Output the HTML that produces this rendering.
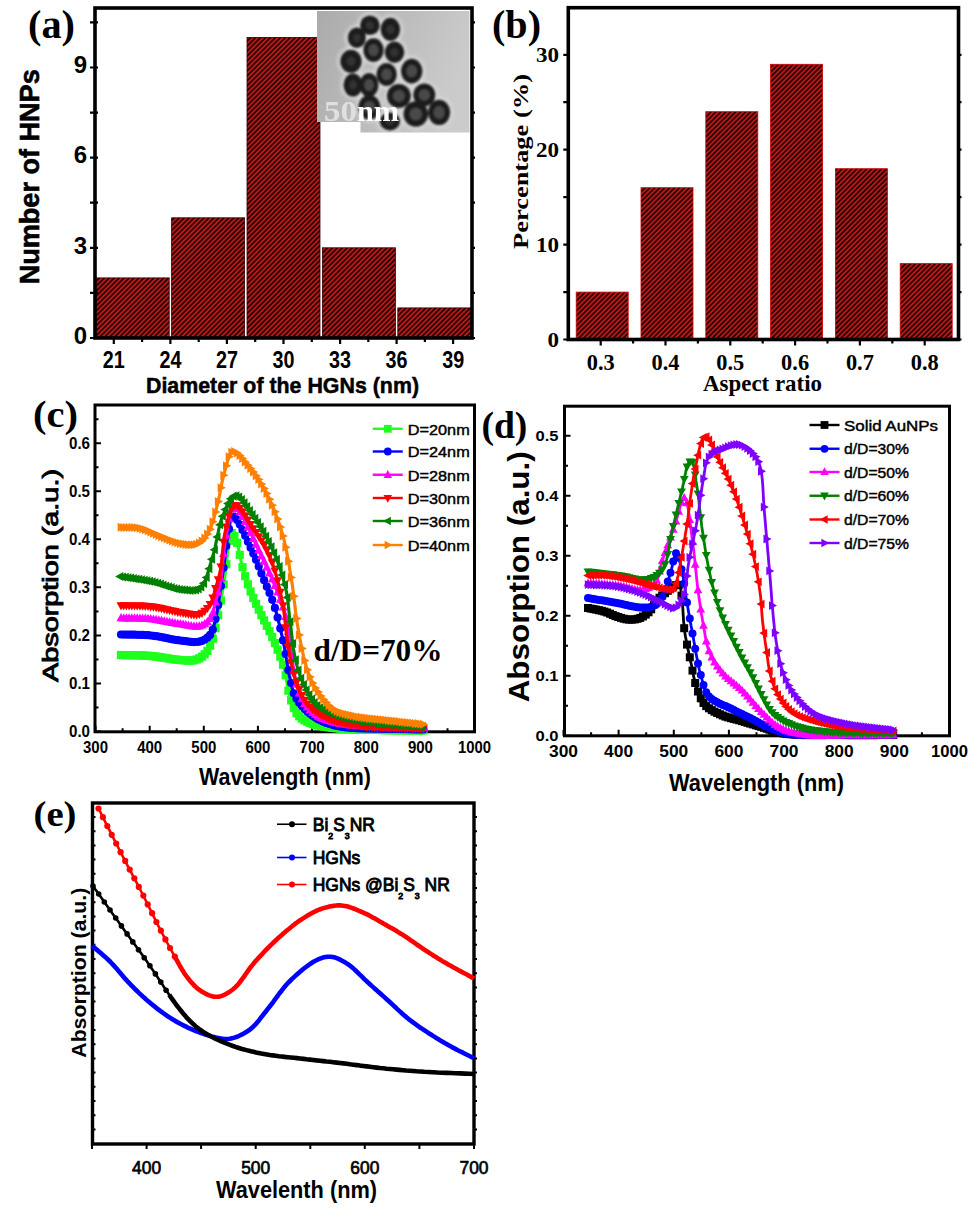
<!DOCTYPE html>
<html><head><meta charset="utf-8"><style>
html,body{margin:0;padding:0;background:#fff;}
svg{display:block;}
</style></head><body>
<svg width="976" height="1208" viewBox="0 0 976 1208">
<defs>
<pattern id="hatch" width="3.5" height="3.5" patternUnits="userSpaceOnUse" patternTransform="rotate(45)">
<rect width="3.5" height="3.5" fill="#bc1818"/><rect width="1.6" height="3.5" fill="#1c0000"/>
</pattern>
<linearGradient id="temgrad" x1="0" y1="0" x2="1" y2="0.3">
<stop offset="0" stop-color="#ababab"/><stop offset="1" stop-color="#cbcbcb"/>
</linearGradient>
<filter id="blur2" x="-20%" y="-20%" width="140%" height="140%"><feGaussianBlur stdDeviation="2"/></filter><filter id="blur1" x="-20%" y="-20%" width="140%" height="140%"><feGaussianBlur stdDeviation="1"/></filter><filter id="blur05"><feGaussianBlur stdDeviation="0.4"/></filter>
<radialGradient id="particle"><stop offset="0" stop-color="#5e5e5e"/><stop offset="0.45" stop-color="#3a3a3a"/><stop offset="0.8" stop-color="#1c1c1c"/><stop offset="0.93" stop-color="#262626"/><stop offset="1" stop-color="#707070"/></radialGradient>
</defs>
<rect width="976" height="1208" fill="#fff"/>
<rect x="95.0" y="277.9" width="74.2" height="60.1" fill="url(#hatch)" stroke="#300" stroke-width="0.8"/>
<rect x="171.6" y="217.8" width="73.0" height="120.2" fill="url(#hatch)" stroke="#300" stroke-width="0.8"/>
<rect x="247.0" y="37.4" width="73.0" height="300.6" fill="url(#hatch)" stroke="#300" stroke-width="0.8"/>
<rect x="322.4" y="247.8" width="73.0" height="90.2" fill="url(#hatch)" stroke="#300" stroke-width="0.8"/>
<rect x="397.8" y="307.9" width="74.2" height="30.1" fill="url(#hatch)" stroke="#300" stroke-width="0.8"/>
<clipPath id="temclip"><path d="M317,11 L469.5,11 L469.5,132.5 L360.5,132.5 L360.5,122 L317,122 Z"/></clipPath>
<g clip-path="url(#temclip)">
<rect x="317" y="11" width="153" height="122" fill="url(#temgrad)"/>
<g filter="url(#blur2)">
<ellipse cx="369.9" cy="25.2" rx="12.3" ry="12.3" fill="#dadada"/>
<ellipse cx="390.4" cy="29.3" rx="12.3" ry="14.0" fill="#dadada"/>
<ellipse cx="356.8" cy="37.8" rx="11.5" ry="12.7" fill="#dadada"/>
<ellipse cx="373.5" cy="50.1" rx="12.7" ry="14.4" fill="#dadada"/>
<ellipse cx="394.5" cy="52.3" rx="12.3" ry="13.2" fill="#dadada"/>
<ellipse cx="351" cy="61.3" rx="13.2" ry="14.0" fill="#dadada"/>
<ellipse cx="386.6" cy="74.4" rx="12.7" ry="14.0" fill="#dadada"/>
<ellipse cx="411.7" cy="71.1" rx="13.2" ry="14.8" fill="#dadada"/>
<ellipse cx="353" cy="85" rx="12.0" ry="14.0" fill="#dadada"/>
<ellipse cx="369" cy="85" rx="12.0" ry="14.5" fill="#dadada"/>
<ellipse cx="398.9" cy="96" rx="14.4" ry="14.4" fill="#dadada"/>
<ellipse cx="424.3" cy="94.9" rx="13.5" ry="14.0" fill="#dadada"/>
<ellipse cx="369.4" cy="107.2" rx="13.5" ry="14.8" fill="#dadada"/>
<ellipse cx="389.9" cy="121.4" rx="12.7" ry="11.5" fill="#dadada"/>
<ellipse cx="415.8" cy="114" rx="14.8" ry="15.2" fill="#dadada"/>
<ellipse cx="439.1" cy="112.4" rx="13.5" ry="15.2" fill="#dadada"/>
</g><g filter="url(#blur1)">
<ellipse cx="369.9" cy="25.2" rx="9.8" ry="9.8" fill="#1e1e1e"/>
<ellipse cx="390.4" cy="29.3" rx="9.8" ry="11.5" fill="#1e1e1e"/>
<ellipse cx="356.8" cy="37.8" rx="9" ry="10.2" fill="#1e1e1e"/>
<ellipse cx="373.5" cy="50.1" rx="10.2" ry="11.9" fill="#1e1e1e"/>
<ellipse cx="394.5" cy="52.3" rx="9.8" ry="10.7" fill="#1e1e1e"/>
<ellipse cx="351" cy="61.3" rx="10.7" ry="11.5" fill="#1e1e1e"/>
<ellipse cx="386.6" cy="74.4" rx="10.2" ry="11.5" fill="#1e1e1e"/>
<ellipse cx="411.7" cy="71.1" rx="10.7" ry="12.3" fill="#1e1e1e"/>
<ellipse cx="353" cy="85" rx="9.5" ry="11.5" fill="#1e1e1e"/>
<ellipse cx="369" cy="85" rx="9.5" ry="12" fill="#1e1e1e"/>
<ellipse cx="398.9" cy="96" rx="11.9" ry="11.9" fill="#1e1e1e"/>
<ellipse cx="424.3" cy="94.9" rx="11" ry="11.5" fill="#1e1e1e"/>
<ellipse cx="369.4" cy="107.2" rx="11" ry="12.3" fill="#1e1e1e"/>
<ellipse cx="389.9" cy="121.4" rx="10.2" ry="9" fill="#1e1e1e"/>
<ellipse cx="415.8" cy="114" rx="12.3" ry="12.7" fill="#1e1e1e"/>
<ellipse cx="439.1" cy="112.4" rx="11" ry="12.7" fill="#1e1e1e"/>
<ellipse cx="369.9" cy="25.2" rx="3.9200000000000004" ry="3.9200000000000004" fill="#333"/>
<ellipse cx="390.4" cy="29.3" rx="3.9200000000000004" ry="4.6000000000000005" fill="#333"/>
<ellipse cx="356.8" cy="37.8" rx="3.6" ry="4.08" fill="#333"/>
<ellipse cx="373.5" cy="50.1" rx="5.1" ry="5.95" fill="#4a4a4a"/>
<ellipse cx="394.5" cy="52.3" rx="3.9200000000000004" ry="4.28" fill="#333"/>
<ellipse cx="351" cy="61.3" rx="4.28" ry="4.6000000000000005" fill="#333"/>
<ellipse cx="386.6" cy="74.4" rx="5.1" ry="5.75" fill="#4a4a4a"/>
<ellipse cx="411.7" cy="71.1" rx="5.35" ry="6.15" fill="#4a4a4a"/>
<ellipse cx="353" cy="85" rx="3.8000000000000003" ry="4.6000000000000005" fill="#333"/>
<ellipse cx="369" cy="85" rx="4.75" ry="6.0" fill="#4a4a4a"/>
<ellipse cx="398.9" cy="96" rx="5.95" ry="5.95" fill="#4a4a4a"/>
<ellipse cx="424.3" cy="94.9" rx="5.5" ry="5.75" fill="#4a4a4a"/>
<ellipse cx="369.4" cy="107.2" rx="5.5" ry="6.15" fill="#4a4a4a"/>
<ellipse cx="389.9" cy="121.4" rx="4.08" ry="3.6" fill="#333"/>
<ellipse cx="415.8" cy="114" rx="6.15" ry="6.35" fill="#4a4a4a"/>
<ellipse cx="439.1" cy="112.4" rx="5.5" ry="6.35" fill="#4a4a4a"/>
</g>
<g filter="url(#blur05)">
<text x="324" y="120.5" style="font-family:'Liberation Serif',serif;font-size:30px;font-weight:bold" text-anchor="start" fill="#e0e0e0" textLength="33" lengthAdjust="spacingAndGlyphs">50</text>
<text x="357" y="120.5" style="font-family:'Liberation Serif',serif;font-size:30px;font-weight:bold" text-anchor="start" fill="#ffffff" textLength="42" lengthAdjust="spacingAndGlyphs">nm</text>
</g></g>
<rect x="95" y="8" width="377" height="330" fill="none" stroke="#000" stroke-width="3.6"/>
<path d="M90,338.0H98M472,338.0H475M90,292.9H98M472,292.9H475M90,247.8H98M472,247.8H475M90,202.7H98M472,202.7H475M90,157.6H98M472,157.6H475M90,112.6H98M472,112.6H475M90,67.5H98M472,67.5H475M90,22.4H98M472,22.4H475M113.8,338V344M142.1,338V342M170.4,338V344M198.7,338V342M226.9,338V344M255.2,338V342M283.5,338V344M311.8,338V342M340.1,338V344M368.3,338V342M396.6,338V344M424.9,338V342M453.1,338V344" stroke="#000" stroke-width="2.2"/>
<text x="87" y="343.8" style="font-family:'Liberation Sans',sans-serif;font-size:24px;font-weight:bold" text-anchor="end" fill="#000">0</text>
<text x="87" y="253.62" style="font-family:'Liberation Sans',sans-serif;font-size:24px;font-weight:bold" text-anchor="end" fill="#000">3</text>
<text x="87" y="163.44000000000003" style="font-family:'Liberation Sans',sans-serif;font-size:24px;font-weight:bold" text-anchor="end" fill="#000">6</text>
<text x="87" y="73.26000000000003" style="font-family:'Liberation Sans',sans-serif;font-size:24px;font-weight:bold" text-anchor="end" fill="#000">9</text>
<text x="113.85" y="367.5" style="font-family:'Liberation Sans',sans-serif;font-size:23px;font-weight:bold" text-anchor="middle" fill="#000" textLength="22" lengthAdjust="spacingAndGlyphs">21</text>
<text x="170.4" y="367.5" style="font-family:'Liberation Sans',sans-serif;font-size:23px;font-weight:bold" text-anchor="middle" fill="#000" textLength="22" lengthAdjust="spacingAndGlyphs">24</text>
<text x="226.95" y="367.5" style="font-family:'Liberation Sans',sans-serif;font-size:23px;font-weight:bold" text-anchor="middle" fill="#000" textLength="22" lengthAdjust="spacingAndGlyphs">27</text>
<text x="283.5" y="367.5" style="font-family:'Liberation Sans',sans-serif;font-size:23px;font-weight:bold" text-anchor="middle" fill="#000" textLength="22" lengthAdjust="spacingAndGlyphs">30</text>
<text x="340.05" y="367.5" style="font-family:'Liberation Sans',sans-serif;font-size:23px;font-weight:bold" text-anchor="middle" fill="#000" textLength="22" lengthAdjust="spacingAndGlyphs">33</text>
<text x="396.6" y="367.5" style="font-family:'Liberation Sans',sans-serif;font-size:23px;font-weight:bold" text-anchor="middle" fill="#000" textLength="22" lengthAdjust="spacingAndGlyphs">36</text>
<text x="453.15" y="367.5" style="font-family:'Liberation Sans',sans-serif;font-size:23px;font-weight:bold" text-anchor="middle" fill="#000" textLength="22" lengthAdjust="spacingAndGlyphs">39</text>
<text x="146" y="392.7" style="font-family:'Liberation Sans',sans-serif;font-size:22px;font-weight:bold" text-anchor="start" fill="#000" textLength="273" lengthAdjust="spacingAndGlyphs" stroke="#000" stroke-width="0.5">Diameter of the HGNs (nm)</text>
<text x="38.8" y="176.8" style="font-family:'Liberation Sans',sans-serif;font-size:28px;font-weight:bold" text-anchor="middle" fill="#000" textLength="215" lengthAdjust="spacingAndGlyphs" transform="rotate(-90 38.8 176.8)" stroke="#000" stroke-width="0.6">Number of HNPs</text>
<text x="28" y="38" style="font-family:'Liberation Serif',serif;font-size:40px;font-weight:bold" text-anchor="start" fill="#000" textLength="47" lengthAdjust="spacingAndGlyphs">(a)</text>
<rect x="576.2" y="292.1" width="52" height="47.4" fill="url(#hatch)" stroke="#c00" stroke-width="0.8"/>
<rect x="641.0" y="187.7" width="52" height="151.8" fill="url(#hatch)" stroke="#c00" stroke-width="0.8"/>
<rect x="705.8" y="111.7" width="52" height="227.8" fill="url(#hatch)" stroke="#c00" stroke-width="0.8"/>
<rect x="770.6" y="64.3" width="52" height="275.2" fill="url(#hatch)" stroke="#c00" stroke-width="0.8"/>
<rect x="835.4" y="168.7" width="52" height="170.8" fill="url(#hatch)" stroke="#c00" stroke-width="0.8"/>
<rect x="900.2" y="263.6" width="52" height="75.9" fill="url(#hatch)" stroke="#c00" stroke-width="0.8"/>
<rect x="568.3" y="7.7" width="390.20000000000005" height="331.8" fill="none" stroke="#000" stroke-width="3.6"/>
<path d="M563.3,339.5H568.3M958.5,339.5H961.5M563.3,292.1H568.3M958.5,292.1H961.5M563.3,244.6H568.3M958.5,244.6H961.5M563.3,197.2H568.3M958.5,197.2H961.5M563.3,149.7H568.3M958.5,149.7H961.5M563.3,102.2H568.3M958.5,102.2H961.5M563.3,54.8H568.3M958.5,54.8H961.5M600.7,339.5V345.5M633.1,339.5V343.5M665.5,339.5V345.5M697.9,339.5V343.5M730.3,339.5V345.5M762.7,339.5V343.5M795.1,339.5V345.5M827.5,339.5V343.5M859.9,339.5V345.5M892.3,339.5V343.5M924.7,339.5V345.5" stroke="#000" stroke-width="2.2"/>
<text x="559" y="346.5" style="font-family:'Liberation Serif',serif;font-size:21px;font-weight:bold" text-anchor="end" fill="#000" textLength="11.5" lengthAdjust="spacingAndGlyphs">0</text>
<text x="559" y="251.6" style="font-family:'Liberation Serif',serif;font-size:21px;font-weight:bold" text-anchor="end" fill="#000" textLength="23" lengthAdjust="spacingAndGlyphs">10</text>
<text x="559" y="156.7" style="font-family:'Liberation Serif',serif;font-size:21px;font-weight:bold" text-anchor="end" fill="#000" textLength="23" lengthAdjust="spacingAndGlyphs">20</text>
<text x="559" y="61.80000000000001" style="font-family:'Liberation Serif',serif;font-size:21px;font-weight:bold" text-anchor="end" fill="#000" textLength="23" lengthAdjust="spacingAndGlyphs">30</text>
<text x="600.6999999999999" y="370.4" style="font-family:'Liberation Serif',serif;font-size:23px;font-weight:bold" text-anchor="middle" fill="#000" textLength="28" lengthAdjust="spacingAndGlyphs">0.3</text>
<text x="665.5" y="370.4" style="font-family:'Liberation Serif',serif;font-size:23px;font-weight:bold" text-anchor="middle" fill="#000" textLength="28" lengthAdjust="spacingAndGlyphs">0.4</text>
<text x="730.3" y="370.4" style="font-family:'Liberation Serif',serif;font-size:23px;font-weight:bold" text-anchor="middle" fill="#000" textLength="28" lengthAdjust="spacingAndGlyphs">0.5</text>
<text x="795.0999999999999" y="370.4" style="font-family:'Liberation Serif',serif;font-size:23px;font-weight:bold" text-anchor="middle" fill="#000" textLength="28" lengthAdjust="spacingAndGlyphs">0.6</text>
<text x="859.8999999999999" y="370.4" style="font-family:'Liberation Serif',serif;font-size:23px;font-weight:bold" text-anchor="middle" fill="#000" textLength="28" lengthAdjust="spacingAndGlyphs">0.7</text>
<text x="924.7" y="370.4" style="font-family:'Liberation Serif',serif;font-size:23px;font-weight:bold" text-anchor="middle" fill="#000" textLength="28" lengthAdjust="spacingAndGlyphs">0.8</text>
<text x="703" y="390.7" style="font-family:'Liberation Serif',serif;font-size:23px;font-weight:bold" text-anchor="start" fill="#000" textLength="119" lengthAdjust="spacingAndGlyphs">Aspect ratio</text>
<text x="527.5" y="161.5" style="font-family:'Liberation Serif',serif;font-size:22px;font-weight:bold" text-anchor="middle" fill="#000" textLength="175" lengthAdjust="spacingAndGlyphs" transform="rotate(-90 527.5 161.5)">Percentage (%)</text>
<text x="492" y="38" style="font-family:'Liberation Serif',serif;font-size:40px;font-weight:bold" text-anchor="start" fill="#000" textLength="49" lengthAdjust="spacingAndGlyphs">(b)</text>
<rect x="95" y="405" width="379.5" height="326.79999999999995" fill="none" stroke="#000" stroke-width="3"/>
<path d="M95,731.5H101M95,707.5H98.5M95,683.5H101M95,659.4H98.5M95,635.4H101M95,611.4H98.5M95,587.3H101M95,563.3H98.5M95,539.3H101M95,515.3H98.5M95,491.2H101M95,467.2H98.5M95,443.2H101M95,419.2H98.5M95.5,731.8V725.8M122.6,731.8V728.3M149.7,731.8V725.8M176.7,731.8V728.3M203.8,731.8V725.8M230.9,731.8V728.3M257.9,731.8V725.8M285.0,731.8V728.3M312.1,731.8V725.8M339.2,731.8V728.3M366.2,731.8V725.8M393.3,731.8V728.3M420.4,731.8V725.8M447.5,731.8V728.3M474.6,731.8V725.8" stroke="#000" stroke-width="2"/>
<text x="90" y="737.3" style="font-family:'Liberation Sans',sans-serif;font-size:16px;font-weight:bold" text-anchor="end" fill="#000" textLength="21" lengthAdjust="spacingAndGlyphs">0.0</text>
<text x="90" y="689.25" style="font-family:'Liberation Sans',sans-serif;font-size:16px;font-weight:bold" text-anchor="end" fill="#000" textLength="21" lengthAdjust="spacingAndGlyphs">0.1</text>
<text x="90" y="641.1999999999999" style="font-family:'Liberation Sans',sans-serif;font-size:16px;font-weight:bold" text-anchor="end" fill="#000" textLength="21" lengthAdjust="spacingAndGlyphs">0.2</text>
<text x="90" y="593.1499999999999" style="font-family:'Liberation Sans',sans-serif;font-size:16px;font-weight:bold" text-anchor="end" fill="#000" textLength="21" lengthAdjust="spacingAndGlyphs">0.3</text>
<text x="90" y="545.0999999999999" style="font-family:'Liberation Sans',sans-serif;font-size:16px;font-weight:bold" text-anchor="end" fill="#000" textLength="21" lengthAdjust="spacingAndGlyphs">0.4</text>
<text x="90" y="497.05" style="font-family:'Liberation Sans',sans-serif;font-size:16px;font-weight:bold" text-anchor="end" fill="#000" textLength="21" lengthAdjust="spacingAndGlyphs">0.5</text>
<text x="90" y="448.99999999999994" style="font-family:'Liberation Sans',sans-serif;font-size:16px;font-weight:bold" text-anchor="end" fill="#000" textLength="21" lengthAdjust="spacingAndGlyphs">0.6</text>
<text x="95.5" y="753" style="font-family:'Liberation Sans',sans-serif;font-size:16px;font-weight:bold" text-anchor="middle" fill="#000" textLength="25" lengthAdjust="spacingAndGlyphs">300</text>
<text x="149.65" y="753" style="font-family:'Liberation Sans',sans-serif;font-size:16px;font-weight:bold" text-anchor="middle" fill="#000" textLength="25" lengthAdjust="spacingAndGlyphs">400</text>
<text x="203.8" y="753" style="font-family:'Liberation Sans',sans-serif;font-size:16px;font-weight:bold" text-anchor="middle" fill="#000" textLength="25" lengthAdjust="spacingAndGlyphs">500</text>
<text x="257.95" y="753" style="font-family:'Liberation Sans',sans-serif;font-size:16px;font-weight:bold" text-anchor="middle" fill="#000" textLength="25" lengthAdjust="spacingAndGlyphs">600</text>
<text x="312.1" y="753" style="font-family:'Liberation Sans',sans-serif;font-size:16px;font-weight:bold" text-anchor="middle" fill="#000" textLength="25" lengthAdjust="spacingAndGlyphs">700</text>
<text x="366.25" y="753" style="font-family:'Liberation Sans',sans-serif;font-size:16px;font-weight:bold" text-anchor="middle" fill="#000" textLength="25" lengthAdjust="spacingAndGlyphs">800</text>
<text x="420.4" y="753" style="font-family:'Liberation Sans',sans-serif;font-size:16px;font-weight:bold" text-anchor="middle" fill="#000" textLength="25" lengthAdjust="spacingAndGlyphs">900</text>
<text x="474.55" y="753" style="font-family:'Liberation Sans',sans-serif;font-size:16px;font-weight:bold" text-anchor="middle" fill="#000" textLength="33" lengthAdjust="spacingAndGlyphs">1000</text>
<text x="199" y="785.2" style="font-family:'Liberation Sans',sans-serif;font-size:23px;font-weight:bold" text-anchor="start" fill="#000" textLength="172" lengthAdjust="spacingAndGlyphs">Wavelength (nm)</text>
<text x="58" y="575.5" style="font-family:'Liberation Sans',sans-serif;font-size:22px;font-weight:normal" text-anchor="middle" fill="#000" textLength="213" lengthAdjust="spacingAndGlyphs" transform="rotate(-90 58 575.5)" stroke="#000" stroke-width="0.9">Absorption (a.u.)</text>
<text x="33" y="427" style="font-family:'Liberation Serif',serif;font-size:38px;font-weight:bold" text-anchor="start" fill="#000" textLength="45" lengthAdjust="spacingAndGlyphs">(c)</text>
<text x="313.5" y="660.5" style="font-family:'Liberation Serif',serif;font-size:31px;font-weight:bold" text-anchor="start" fill="#000" textLength="129" lengthAdjust="spacingAndGlyphs">d/D=70%</text>
<path d="M121.0,655.0 L123.5,655.1 L126.0,655.1 L128.5,655.2 L131.0,655.2 L133.5,655.3 L136.0,655.3 L138.5,655.4 L141.0,655.4 L143.5,655.5 L146.0,655.7 L148.5,655.8 L151.0,656.0 L153.5,656.2 L156.0,656.5 L158.5,656.9 L161.1,657.3 L163.6,657.7 L166.1,658.1 L168.6,658.5 L171.1,658.9 L173.4,659.3 L175.7,659.6 L177.9,659.8 L180.0,660.0 L181.4,660.1 L182.8,660.2 L184.2,660.3 L185.5,660.4 L186.8,660.5 L188.0,660.6 L189.3,660.6 L190.5,660.6 L191.6,660.6 L192.8,660.4 L193.9,660.3 L195.0,660.0 L196.0,659.7 L196.9,659.4 L197.8,659.0 L198.7,658.6 L199.6,658.2 L200.4,657.7 L201.2,657.2 L202.0,656.6 L202.8,656.0 L203.6,655.4 L204.3,654.7 L205.0,654.0 L205.7,653.2 L206.5,652.3 L207.1,651.3 L207.8,650.3 L208.4,649.2 L208.9,648.1 L209.5,647.0 L210.0,645.8 L210.5,644.7 L211.0,643.5 L211.5,642.2 L212.0,641.0 L212.5,639.5 L213.1,638.0 L213.5,636.4 L214.0,634.7 L214.4,633.1 L214.8,631.4 L215.2,629.6 L215.5,627.9 L215.9,626.2 L216.3,624.4 L216.6,622.7 L217.0,621.0 L217.4,619.3 L217.7,617.6 L218.1,615.8 L218.4,614.1 L218.8,612.4 L219.1,610.7 L219.4,608.9 L219.7,607.2 L220.0,605.4 L220.4,603.6 L220.7,601.8 L221.0,600.0 L221.3,598.0 L221.7,596.0 L222.0,593.9 L222.4,591.8 L222.7,589.7 L223.1,587.6 L223.4,585.5 L223.8,583.4 L224.1,581.3 L224.4,579.2 L224.7,577.1 L225.0,575.0 L225.3,572.9 L225.5,570.8 L225.8,568.6 L226.0,566.5 L226.3,564.3 L226.5,562.2 L226.8,560.1 L227.0,558.0 L227.2,555.9 L227.5,553.9 L227.7,551.9 L228.0,550.0 L228.2,548.4 L228.4,546.6 L228.6,544.8 L228.8,543.0 L229.0,541.1 L229.2,539.4 L229.4,537.8 L229.6,536.3 L229.9,535.0 L230.2,534.0 L230.6,533.3 L231.0,533.0 L231.3,533.0 L231.6,533.0 L231.9,533.2 L232.2,533.4 L232.6,533.7 L232.9,534.0 L233.3,534.4 L233.6,534.9 L234.0,535.4 L234.3,535.9 L234.7,536.4 L235.0,537.0 L235.7,538.6 L236.5,540.6 L237.2,542.9 L237.8,545.6 L238.5,548.4 L239.1,551.5 L239.7,554.6 L240.4,557.7 L241.0,560.8 L241.7,563.7 L242.3,566.5 L243.0,569.0 L243.6,570.9 L244.1,572.8 L244.7,574.7 L245.3,576.5 L245.8,578.2 L246.4,580.0 L247.0,581.7 L247.6,583.4 L248.2,585.1 L248.8,586.7 L249.4,588.4 L250.0,590.0 L250.5,591.4 L251.1,592.7 L251.6,594.0 L252.1,595.3 L252.7,596.5 L253.2,597.8 L253.8,599.0 L254.4,600.3 L255.0,601.6 L255.6,603.0 L256.3,604.5 L257.0,606.0 L258.2,608.5 L259.4,611.1 L260.8,613.9 L262.3,616.8 L263.8,619.8 L265.4,622.9 L266.9,626.0 L268.5,629.1 L270.0,632.2 L271.4,635.2 L272.8,638.2 L274.0,641.0 L275.0,643.3 L276.0,645.6 L276.9,647.9 L277.8,650.2 L278.7,652.4 L279.5,654.6 L280.3,656.8 L281.1,659.0 L281.9,661.2 L282.6,663.4 L283.3,665.7 L284.0,668.0 L284.6,670.4 L285.2,672.8 L285.7,675.3 L286.2,677.8 L286.6,680.4 L287.0,682.9 L287.4,685.4 L287.8,687.8 L288.3,690.2 L288.8,692.6 L289.4,694.8 L290.0,697.0 L290.5,698.7 L291.1,700.4 L291.7,702.1 L292.2,703.7 L292.8,705.3 L293.4,706.9 L294.1,708.4 L294.7,709.9 L295.5,711.3 L296.3,712.6 L297.1,713.8 L298.0,715.0 L298.8,715.9 L299.7,716.8 L300.6,717.6 L301.5,718.3 L302.4,719.0 L303.4,719.7 L304.5,720.3 L305.5,720.9 L306.6,721.4 L307.7,722.0 L308.8,722.5 L310.0,723.0 L311.4,723.6 L312.9,724.1 L314.3,724.6 L315.9,725.0 L317.4,725.4 L319.0,725.7 L320.7,726.1 L322.4,726.4 L324.2,726.7 L326.1,726.9 L328.0,727.2 L330.0,727.5 L333.4,727.9 L337.0,728.3 L341.0,728.6 L345.1,728.8 L349.4,729.0 L353.8,729.2 L358.2,729.4 L362.7,729.5 L367.2,729.6 L371.6,729.8 L375.9,729.9 L380.0,730.0 L383.8,730.1 L387.5,730.2 L391.2,730.3 L394.9,730.3 L398.5,730.3 L402.2,730.4 L405.8,730.4 L409.4,730.4 L413.1,730.4 L416.7,730.4 L420.3,730.5 L424.0,730.5" fill="none" stroke="#1eff1e" stroke-width="3.2" stroke-linejoin="round"/>
<rect x="116.9" y="650.9" width="8.2" height="8.2" fill="#1eff1e"/>
<rect x="119.6" y="651.0" width="8.2" height="8.2" fill="#1eff1e"/>
<rect x="122.3" y="651.0" width="8.2" height="8.2" fill="#1eff1e"/>
<rect x="125.0" y="651.1" width="8.2" height="8.2" fill="#1eff1e"/>
<rect x="127.7" y="651.1" width="8.2" height="8.2" fill="#1eff1e"/>
<rect x="130.4" y="651.2" width="8.2" height="8.2" fill="#1eff1e"/>
<rect x="133.1" y="651.2" width="8.2" height="8.2" fill="#1eff1e"/>
<rect x="135.8" y="651.3" width="8.2" height="8.2" fill="#1eff1e"/>
<rect x="138.5" y="651.4" width="8.2" height="8.2" fill="#1eff1e"/>
<rect x="141.2" y="651.5" width="8.2" height="8.2" fill="#1eff1e"/>
<rect x="143.9" y="651.7" width="8.2" height="8.2" fill="#1eff1e"/>
<rect x="146.6" y="651.9" width="8.2" height="8.2" fill="#1eff1e"/>
<rect x="149.3" y="652.1" width="8.2" height="8.2" fill="#1eff1e"/>
<rect x="152.0" y="652.5" width="8.2" height="8.2" fill="#1eff1e"/>
<rect x="154.7" y="652.8" width="8.2" height="8.2" fill="#1eff1e"/>
<rect x="157.4" y="653.3" width="8.2" height="8.2" fill="#1eff1e"/>
<rect x="160.1" y="653.7" width="8.2" height="8.2" fill="#1eff1e"/>
<rect x="162.8" y="654.1" width="8.2" height="8.2" fill="#1eff1e"/>
<rect x="165.5" y="654.6" width="8.2" height="8.2" fill="#1eff1e"/>
<rect x="168.2" y="655.0" width="8.2" height="8.2" fill="#1eff1e"/>
<rect x="170.9" y="655.4" width="8.2" height="8.2" fill="#1eff1e"/>
<rect x="173.6" y="655.7" width="8.2" height="8.2" fill="#1eff1e"/>
<rect x="176.3" y="655.9" width="8.2" height="8.2" fill="#1eff1e"/>
<rect x="179.0" y="656.1" width="8.2" height="8.2" fill="#1eff1e"/>
<rect x="181.7" y="656.4" width="8.2" height="8.2" fill="#1eff1e"/>
<rect x="184.4" y="656.5" width="8.2" height="8.2" fill="#1eff1e"/>
<rect x="187.1" y="656.5" width="8.2" height="8.2" fill="#1eff1e"/>
<rect x="189.8" y="656.2" width="8.2" height="8.2" fill="#1eff1e"/>
<rect x="192.5" y="655.4" width="8.2" height="8.2" fill="#1eff1e"/>
<rect x="195.2" y="654.2" width="8.2" height="8.2" fill="#1eff1e"/>
<rect x="197.9" y="652.5" width="8.2" height="8.2" fill="#1eff1e"/>
<rect x="200.6" y="650.2" width="8.2" height="8.2" fill="#1eff1e"/>
<rect x="203.3" y="646.8" width="8.2" height="8.2" fill="#1eff1e"/>
<rect x="206.0" y="641.6" width="8.2" height="8.2" fill="#1eff1e"/>
<rect x="208.7" y="634.7" width="8.2" height="8.2" fill="#1eff1e"/>
<rect x="211.4" y="624.0" width="8.2" height="8.2" fill="#1eff1e"/>
<rect x="214.1" y="611.2" width="8.2" height="8.2" fill="#1eff1e"/>
<rect x="216.8" y="596.5" width="8.2" height="8.2" fill="#1eff1e"/>
<rect x="219.5" y="580.3" width="8.2" height="8.2" fill="#1eff1e"/>
<rect x="222.2" y="560.1" width="8.2" height="8.2" fill="#1eff1e"/>
<rect x="224.9" y="536.7" width="8.2" height="8.2" fill="#1eff1e"/>
<rect x="227.6" y="529.0" width="8.2" height="8.2" fill="#1eff1e"/>
<rect x="230.3" y="531.9" width="8.2" height="8.2" fill="#1eff1e"/>
<rect x="233.0" y="538.7" width="8.2" height="8.2" fill="#1eff1e"/>
<rect x="235.7" y="550.7" width="8.2" height="8.2" fill="#1eff1e"/>
<rect x="238.4" y="563.1" width="8.2" height="8.2" fill="#1eff1e"/>
<rect x="241.1" y="572.1" width="8.2" height="8.2" fill="#1eff1e"/>
<rect x="243.8" y="580.2" width="8.2" height="8.2" fill="#1eff1e"/>
<rect x="246.5" y="587.4" width="8.2" height="8.2" fill="#1eff1e"/>
<rect x="249.2" y="593.8" width="8.2" height="8.2" fill="#1eff1e"/>
<rect x="251.9" y="599.7" width="8.2" height="8.2" fill="#1eff1e"/>
<rect x="254.6" y="605.5" width="8.2" height="8.2" fill="#1eff1e"/>
<rect x="257.3" y="610.9" width="8.2" height="8.2" fill="#1eff1e"/>
<rect x="260.0" y="616.3" width="8.2" height="8.2" fill="#1eff1e"/>
<rect x="262.7" y="621.7" width="8.2" height="8.2" fill="#1eff1e"/>
<rect x="265.4" y="627.1" width="8.2" height="8.2" fill="#1eff1e"/>
<rect x="268.1" y="632.8" width="8.2" height="8.2" fill="#1eff1e"/>
<rect x="270.8" y="639.0" width="8.2" height="8.2" fill="#1eff1e"/>
<rect x="273.5" y="645.6" width="8.2" height="8.2" fill="#1eff1e"/>
<rect x="276.2" y="652.6" width="8.2" height="8.2" fill="#1eff1e"/>
<rect x="278.9" y="660.6" width="8.2" height="8.2" fill="#1eff1e"/>
<rect x="281.6" y="671.2" width="8.2" height="8.2" fill="#1eff1e"/>
<rect x="284.3" y="686.6" width="8.2" height="8.2" fill="#1eff1e"/>
<rect x="287.0" y="696.3" width="8.2" height="8.2" fill="#1eff1e"/>
<rect x="289.7" y="703.7" width="8.2" height="8.2" fill="#1eff1e"/>
<rect x="292.4" y="708.9" width="8.2" height="8.2" fill="#1eff1e"/>
<rect x="295.1" y="712.2" width="8.2" height="8.2" fill="#1eff1e"/>
<rect x="297.8" y="714.5" width="8.2" height="8.2" fill="#1eff1e"/>
<rect x="300.5" y="716.3" width="8.2" height="8.2" fill="#1eff1e"/>
<rect x="303.2" y="717.7" width="8.2" height="8.2" fill="#1eff1e"/>
<rect x="305.9" y="718.9" width="8.2" height="8.2" fill="#1eff1e"/>
<rect x="308.6" y="719.9" width="8.2" height="8.2" fill="#1eff1e"/>
<rect x="311.3" y="720.8" width="8.2" height="8.2" fill="#1eff1e"/>
<rect x="314.0" y="721.4" width="8.2" height="8.2" fill="#1eff1e"/>
<rect x="316.7" y="722.0" width="8.2" height="8.2" fill="#1eff1e"/>
<rect x="319.4" y="722.5" width="8.2" height="8.2" fill="#1eff1e"/>
<rect x="322.1" y="722.9" width="8.2" height="8.2" fill="#1eff1e"/>
<rect x="324.8" y="723.2" width="8.2" height="8.2" fill="#1eff1e"/>
<rect x="327.5" y="723.6" width="8.2" height="8.2" fill="#1eff1e"/>
<rect x="330.2" y="723.9" width="8.2" height="8.2" fill="#1eff1e"/>
<rect x="332.9" y="724.2" width="8.2" height="8.2" fill="#1eff1e"/>
<rect x="335.6" y="724.4" width="8.2" height="8.2" fill="#1eff1e"/>
<rect x="338.3" y="724.6" width="8.2" height="8.2" fill="#1eff1e"/>
<rect x="341.0" y="724.7" width="8.2" height="8.2" fill="#1eff1e"/>
<rect x="343.7" y="724.9" width="8.2" height="8.2" fill="#1eff1e"/>
<rect x="346.4" y="725.0" width="8.2" height="8.2" fill="#1eff1e"/>
<rect x="349.1" y="725.1" width="8.2" height="8.2" fill="#1eff1e"/>
<rect x="351.8" y="725.2" width="8.2" height="8.2" fill="#1eff1e"/>
<rect x="354.5" y="725.3" width="8.2" height="8.2" fill="#1eff1e"/>
<rect x="357.2" y="725.4" width="8.2" height="8.2" fill="#1eff1e"/>
<rect x="359.9" y="725.5" width="8.2" height="8.2" fill="#1eff1e"/>
<rect x="362.6" y="725.5" width="8.2" height="8.2" fill="#1eff1e"/>
<rect x="365.3" y="725.6" width="8.2" height="8.2" fill="#1eff1e"/>
<rect x="368.0" y="725.7" width="8.2" height="8.2" fill="#1eff1e"/>
<rect x="370.7" y="725.8" width="8.2" height="8.2" fill="#1eff1e"/>
<rect x="373.4" y="725.8" width="8.2" height="8.2" fill="#1eff1e"/>
<rect x="376.1" y="725.9" width="8.2" height="8.2" fill="#1eff1e"/>
<rect x="378.8" y="726.0" width="8.2" height="8.2" fill="#1eff1e"/>
<rect x="381.5" y="726.0" width="8.2" height="8.2" fill="#1eff1e"/>
<rect x="384.2" y="726.1" width="8.2" height="8.2" fill="#1eff1e"/>
<rect x="386.9" y="726.1" width="8.2" height="8.2" fill="#1eff1e"/>
<rect x="389.6" y="726.2" width="8.2" height="8.2" fill="#1eff1e"/>
<rect x="392.3" y="726.2" width="8.2" height="8.2" fill="#1eff1e"/>
<rect x="395.0" y="726.2" width="8.2" height="8.2" fill="#1eff1e"/>
<rect x="397.7" y="726.3" width="8.2" height="8.2" fill="#1eff1e"/>
<rect x="400.4" y="726.3" width="8.2" height="8.2" fill="#1eff1e"/>
<rect x="403.1" y="726.3" width="8.2" height="8.2" fill="#1eff1e"/>
<rect x="405.8" y="726.3" width="8.2" height="8.2" fill="#1eff1e"/>
<rect x="408.5" y="726.3" width="8.2" height="8.2" fill="#1eff1e"/>
<rect x="411.2" y="726.3" width="8.2" height="8.2" fill="#1eff1e"/>
<rect x="413.9" y="726.3" width="8.2" height="8.2" fill="#1eff1e"/>
<rect x="416.6" y="726.4" width="8.2" height="8.2" fill="#1eff1e"/>
<rect x="419.3" y="726.4" width="8.2" height="8.2" fill="#1eff1e"/>
<path d="M121.0,634.5 L123.5,634.6 L126.0,634.6 L128.5,634.7 L131.0,634.7 L133.5,634.7 L136.0,634.7 L138.6,634.8 L141.1,634.9 L143.6,635.0 L146.0,635.1 L148.5,635.3 L151.0,635.5 L153.5,635.8 L155.9,636.2 L158.4,636.6 L160.9,637.0 L163.4,637.5 L165.9,638.0 L168.3,638.5 L170.7,639.0 L173.1,639.4 L175.5,639.9 L177.8,640.2 L180.0,640.5 L181.8,640.7 L183.6,641.0 L185.4,641.2 L187.2,641.4 L189.0,641.7 L190.7,641.8 L192.4,642.0 L194.1,642.1 L195.6,642.1 L197.2,642.0 L198.6,641.8 L200.0,641.5 L201.0,641.2 L202.0,640.9 L202.9,640.5 L203.9,640.1 L204.7,639.6 L205.6,639.1 L206.4,638.5 L207.2,637.9 L207.9,637.3 L208.7,636.6 L209.3,635.8 L210.0,635.0 L210.8,633.9 L211.5,632.7 L212.1,631.3 L212.6,629.9 L213.1,628.4 L213.6,626.9 L214.0,625.3 L214.4,623.7 L214.8,622.0 L215.2,620.3 L215.6,618.7 L216.0,617.0 L216.4,615.1 L216.9,613.1 L217.2,611.1 L217.6,609.0 L217.9,607.0 L218.2,604.8 L218.5,602.7 L218.8,600.6 L219.1,598.4 L219.4,596.3 L219.7,594.1 L220.0,592.0 L220.3,589.8 L220.7,587.6 L221.0,585.4 L221.4,583.1 L221.7,580.9 L222.0,578.7 L222.4,576.4 L222.7,574.1 L223.0,571.9 L223.3,569.6 L223.7,567.3 L224.0,565.0 L224.3,562.5 L224.7,560.0 L225.0,557.4 L225.3,554.9 L225.6,552.3 L225.9,549.7 L226.2,547.1 L226.5,544.5 L226.8,542.0 L227.2,539.6 L227.6,537.3 L228.0,535.0 L228.3,533.1 L228.7,531.2 L229.0,529.1 L229.3,527.0 L229.6,524.9 L230.0,523.0 L230.3,521.1 L230.8,519.5 L231.2,518.1 L231.7,517.0 L232.3,516.3 L233.0,516.0 L234.2,516.4 L235.5,517.8 L237.1,520.0 L238.8,522.8 L240.6,526.2 L242.5,530.0 L244.4,534.0 L246.3,538.2 L248.2,542.3 L249.9,546.2 L251.5,549.8 L253.0,553.0 L254.1,555.4 L255.1,557.7 L256.1,560.0 L257.1,562.3 L258.0,564.5 L258.9,566.8 L259.7,569.0 L260.6,571.2 L261.4,573.4 L262.3,575.6 L263.1,577.8 L264.0,580.0 L264.9,582.1 L265.7,584.1 L266.6,586.2 L267.4,588.2 L268.3,590.2 L269.1,592.1 L270.0,594.2 L270.8,596.2 L271.6,598.3 L272.4,600.5 L273.2,602.7 L274.0,605.0 L274.9,608.0 L275.9,611.1 L276.8,614.4 L277.7,617.7 L278.5,621.1 L279.4,624.6 L280.2,628.1 L281.0,631.6 L281.8,635.0 L282.6,638.4 L283.3,641.8 L284.0,645.0 L284.6,647.9 L285.1,650.8 L285.7,653.7 L286.1,656.5 L286.6,659.4 L287.1,662.2 L287.5,665.0 L288.0,667.7 L288.4,670.4 L288.9,673.0 L289.4,675.6 L290.0,678.0 L290.4,679.9 L290.8,681.7 L291.2,683.5 L291.6,685.2 L292.0,686.9 L292.4,688.5 L292.8,690.2 L293.3,691.8 L293.8,693.4 L294.5,694.9 L295.2,696.5 L296.0,698.0 L297.0,699.7 L298.1,701.3 L299.3,703.0 L300.6,704.6 L302.0,706.2 L303.4,707.8 L304.9,709.3 L306.5,710.7 L308.0,712.2 L309.7,713.5 L311.3,714.8 L313.0,716.0 L314.7,717.2 L316.5,718.2 L318.2,719.2 L320.0,720.2 L321.9,721.1 L323.8,721.9 L325.8,722.7 L327.8,723.5 L329.9,724.1 L332.2,724.8 L334.5,725.4 L337.0,726.0 L341.3,726.8 L346.0,727.4 L351.3,727.9 L356.8,728.2 L362.5,728.5 L368.4,728.6 L374.3,728.7 L380.1,728.8 L385.6,728.8 L390.9,728.8 L395.7,728.9 L400.0,729.0 L402.4,729.1 L404.7,729.1 L406.8,729.2 L408.8,729.2 L410.8,729.3 L412.7,729.3 L414.6,729.3 L416.4,729.4 L418.3,729.4 L420.1,729.4 L422.0,729.5 L424.0,729.5" fill="none" stroke="#0000ff" stroke-width="3.2" stroke-linejoin="round"/>
<circle cx="121.0" cy="634.5" r="4.1" fill="#0000ff"/>
<circle cx="123.7" cy="634.6" r="4.1" fill="#0000ff"/>
<circle cx="126.4" cy="634.6" r="4.1" fill="#0000ff"/>
<circle cx="129.1" cy="634.7" r="4.1" fill="#0000ff"/>
<circle cx="131.8" cy="634.7" r="4.1" fill="#0000ff"/>
<circle cx="134.5" cy="634.7" r="4.1" fill="#0000ff"/>
<circle cx="137.2" cy="634.8" r="4.1" fill="#0000ff"/>
<circle cx="139.9" cy="634.8" r="4.1" fill="#0000ff"/>
<circle cx="142.6" cy="634.9" r="4.1" fill="#0000ff"/>
<circle cx="145.3" cy="635.1" r="4.1" fill="#0000ff"/>
<circle cx="148.0" cy="635.2" r="4.1" fill="#0000ff"/>
<circle cx="150.7" cy="635.5" r="4.1" fill="#0000ff"/>
<circle cx="153.4" cy="635.8" r="4.1" fill="#0000ff"/>
<circle cx="156.1" cy="636.2" r="4.1" fill="#0000ff"/>
<circle cx="158.8" cy="636.6" r="4.1" fill="#0000ff"/>
<circle cx="161.5" cy="637.1" r="4.1" fill="#0000ff"/>
<circle cx="164.2" cy="637.7" r="4.1" fill="#0000ff"/>
<circle cx="166.9" cy="638.2" r="4.1" fill="#0000ff"/>
<circle cx="169.6" cy="638.8" r="4.1" fill="#0000ff"/>
<circle cx="172.3" cy="639.3" r="4.1" fill="#0000ff"/>
<circle cx="175.0" cy="639.8" r="4.1" fill="#0000ff"/>
<circle cx="177.7" cy="640.2" r="4.1" fill="#0000ff"/>
<circle cx="180.4" cy="640.5" r="4.1" fill="#0000ff"/>
<circle cx="183.1" cy="640.9" r="4.1" fill="#0000ff"/>
<circle cx="185.8" cy="641.2" r="4.1" fill="#0000ff"/>
<circle cx="188.5" cy="641.6" r="4.1" fill="#0000ff"/>
<circle cx="191.2" cy="641.9" r="4.1" fill="#0000ff"/>
<circle cx="193.9" cy="642.1" r="4.1" fill="#0000ff"/>
<circle cx="196.6" cy="642.0" r="4.1" fill="#0000ff"/>
<circle cx="199.3" cy="641.7" r="4.1" fill="#0000ff"/>
<circle cx="202.0" cy="640.9" r="4.1" fill="#0000ff"/>
<circle cx="204.7" cy="639.6" r="4.1" fill="#0000ff"/>
<circle cx="207.4" cy="637.7" r="4.1" fill="#0000ff"/>
<circle cx="210.1" cy="634.9" r="4.1" fill="#0000ff"/>
<circle cx="212.8" cy="629.5" r="4.1" fill="#0000ff"/>
<circle cx="215.5" cy="619.1" r="4.1" fill="#0000ff"/>
<circle cx="218.2" cy="604.9" r="4.1" fill="#0000ff"/>
<circle cx="220.9" cy="586.1" r="4.1" fill="#0000ff"/>
<circle cx="223.6" cy="567.8" r="4.1" fill="#0000ff"/>
<circle cx="226.3" cy="546.0" r="4.1" fill="#0000ff"/>
<circle cx="229.0" cy="528.9" r="4.1" fill="#0000ff"/>
<circle cx="231.7" cy="517.1" r="4.1" fill="#0000ff"/>
<circle cx="234.4" cy="516.6" r="4.1" fill="#0000ff"/>
<circle cx="237.1" cy="519.9" r="4.1" fill="#0000ff"/>
<circle cx="239.8" cy="524.6" r="4.1" fill="#0000ff"/>
<circle cx="242.5" cy="530.0" r="4.1" fill="#0000ff"/>
<circle cx="245.2" cy="535.7" r="4.1" fill="#0000ff"/>
<circle cx="247.9" cy="541.7" r="4.1" fill="#0000ff"/>
<circle cx="250.6" cy="547.7" r="4.1" fill="#0000ff"/>
<circle cx="253.3" cy="553.6" r="4.1" fill="#0000ff"/>
<circle cx="256.0" cy="559.7" r="4.1" fill="#0000ff"/>
<circle cx="258.7" cy="566.4" r="4.1" fill="#0000ff"/>
<circle cx="261.4" cy="573.4" r="4.1" fill="#0000ff"/>
<circle cx="264.1" cy="580.2" r="4.1" fill="#0000ff"/>
<circle cx="266.8" cy="586.7" r="4.1" fill="#0000ff"/>
<circle cx="269.5" cy="593.0" r="4.1" fill="#0000ff"/>
<circle cx="272.2" cy="599.8" r="4.1" fill="#0000ff"/>
<circle cx="274.9" cy="607.9" r="4.1" fill="#0000ff"/>
<circle cx="277.6" cy="617.5" r="4.1" fill="#0000ff"/>
<circle cx="280.3" cy="628.4" r="4.1" fill="#0000ff"/>
<circle cx="283.0" cy="640.4" r="4.1" fill="#0000ff"/>
<circle cx="285.7" cy="653.9" r="4.1" fill="#0000ff"/>
<circle cx="288.4" cy="670.2" r="4.1" fill="#0000ff"/>
<circle cx="291.1" cy="683.0" r="4.1" fill="#0000ff"/>
<circle cx="293.8" cy="693.3" r="4.1" fill="#0000ff"/>
<circle cx="296.5" cy="698.8" r="4.1" fill="#0000ff"/>
<circle cx="299.2" cy="702.8" r="4.1" fill="#0000ff"/>
<circle cx="301.9" cy="706.1" r="4.1" fill="#0000ff"/>
<circle cx="304.6" cy="709.0" r="4.1" fill="#0000ff"/>
<circle cx="307.3" cy="711.5" r="4.1" fill="#0000ff"/>
<circle cx="310.0" cy="713.8" r="4.1" fill="#0000ff"/>
<circle cx="312.7" cy="715.8" r="4.1" fill="#0000ff"/>
<circle cx="315.4" cy="717.6" r="4.1" fill="#0000ff"/>
<circle cx="318.1" cy="719.2" r="4.1" fill="#0000ff"/>
<circle cx="320.8" cy="720.6" r="4.1" fill="#0000ff"/>
<circle cx="323.5" cy="721.8" r="4.1" fill="#0000ff"/>
<circle cx="326.2" cy="722.9" r="4.1" fill="#0000ff"/>
<circle cx="328.9" cy="723.8" r="4.1" fill="#0000ff"/>
<circle cx="331.6" cy="724.6" r="4.1" fill="#0000ff"/>
<circle cx="334.3" cy="725.4" r="4.1" fill="#0000ff"/>
<circle cx="337.0" cy="726.0" r="4.1" fill="#0000ff"/>
<circle cx="339.7" cy="726.5" r="4.1" fill="#0000ff"/>
<circle cx="342.4" cy="727.0" r="4.1" fill="#0000ff"/>
<circle cx="345.1" cy="727.3" r="4.1" fill="#0000ff"/>
<circle cx="347.8" cy="727.6" r="4.1" fill="#0000ff"/>
<circle cx="350.5" cy="727.8" r="4.1" fill="#0000ff"/>
<circle cx="353.2" cy="728.0" r="4.1" fill="#0000ff"/>
<circle cx="355.9" cy="728.2" r="4.1" fill="#0000ff"/>
<circle cx="358.6" cy="728.3" r="4.1" fill="#0000ff"/>
<circle cx="361.3" cy="728.4" r="4.1" fill="#0000ff"/>
<circle cx="364.0" cy="728.5" r="4.1" fill="#0000ff"/>
<circle cx="366.7" cy="728.6" r="4.1" fill="#0000ff"/>
<circle cx="369.4" cy="728.6" r="4.1" fill="#0000ff"/>
<circle cx="372.1" cy="728.7" r="4.1" fill="#0000ff"/>
<circle cx="374.8" cy="728.7" r="4.1" fill="#0000ff"/>
<circle cx="377.5" cy="728.7" r="4.1" fill="#0000ff"/>
<circle cx="380.2" cy="728.8" r="4.1" fill="#0000ff"/>
<circle cx="382.9" cy="728.8" r="4.1" fill="#0000ff"/>
<circle cx="385.6" cy="728.8" r="4.1" fill="#0000ff"/>
<circle cx="388.3" cy="728.8" r="4.1" fill="#0000ff"/>
<circle cx="391.0" cy="728.8" r="4.1" fill="#0000ff"/>
<circle cx="393.7" cy="728.9" r="4.1" fill="#0000ff"/>
<circle cx="396.4" cy="728.9" r="4.1" fill="#0000ff"/>
<circle cx="399.1" cy="729.0" r="4.1" fill="#0000ff"/>
<circle cx="401.8" cy="729.1" r="4.1" fill="#0000ff"/>
<circle cx="404.5" cy="729.1" r="4.1" fill="#0000ff"/>
<circle cx="407.2" cy="729.2" r="4.1" fill="#0000ff"/>
<circle cx="409.9" cy="729.3" r="4.1" fill="#0000ff"/>
<circle cx="412.6" cy="729.3" r="4.1" fill="#0000ff"/>
<circle cx="415.3" cy="729.4" r="4.1" fill="#0000ff"/>
<circle cx="418.0" cy="729.4" r="4.1" fill="#0000ff"/>
<circle cx="420.7" cy="729.4" r="4.1" fill="#0000ff"/>
<circle cx="423.4" cy="729.5" r="4.1" fill="#0000ff"/>
<path d="M121.0,618.0 L123.5,618.1 L126.0,618.1 L128.5,618.2 L131.0,618.2 L133.5,618.2 L136.0,618.2 L138.6,618.3 L141.1,618.4 L143.6,618.5 L146.0,618.6 L148.5,618.8 L151.0,619.0 L153.5,619.3 L155.9,619.6 L158.4,620.0 L160.9,620.5 L163.4,620.9 L165.9,621.4 L168.3,621.9 L170.7,622.4 L173.1,622.9 L175.5,623.3 L177.8,623.7 L180.0,624.0 L181.8,624.3 L183.6,624.6 L185.4,624.9 L187.2,625.3 L189.0,625.6 L190.7,625.9 L192.4,626.1 L194.1,626.3 L195.7,626.4 L197.2,626.4 L198.6,626.3 L200.0,626.0 L201.0,625.7 L202.0,625.3 L203.0,624.9 L203.9,624.5 L204.7,624.0 L205.6,623.4 L206.4,622.8 L207.2,622.1 L207.9,621.4 L208.7,620.7 L209.3,619.8 L210.0,619.0 L210.8,617.8 L211.5,616.5 L212.1,615.0 L212.6,613.4 L213.1,611.8 L213.6,610.1 L214.0,608.4 L214.4,606.6 L214.8,604.9 L215.2,603.2 L215.6,601.6 L216.0,600.0 L216.4,598.7 L216.8,597.4 L217.1,596.1 L217.4,594.9 L217.8,593.7 L218.1,592.5 L218.4,591.2 L218.7,589.9 L219.1,588.6 L219.4,587.2 L219.7,585.6 L220.0,584.0 L220.5,580.9 L221.0,577.5 L221.5,573.8 L221.9,569.8 L222.4,565.6 L222.8,561.4 L223.2,557.1 L223.7,552.8 L224.2,548.6 L224.8,544.5 L225.4,540.6 L226.0,537.0 L226.5,534.1 L227.1,530.9 L227.6,527.7 L228.1,524.4 L228.6,521.1 L229.2,518.0 L229.8,515.1 L230.5,512.5 L231.2,510.3 L232.0,508.6 L233.0,507.5 L234.0,507.0 L235.6,507.4 L237.4,509.0 L239.3,511.5 L241.5,514.9 L243.8,518.9 L246.1,523.5 L248.5,528.4 L250.9,533.5 L253.3,538.7 L255.7,543.7 L257.9,548.6 L260.0,553.0 L262.3,557.7 L264.6,562.7 L267.0,567.7 L269.3,572.8 L271.6,578.0 L273.9,583.3 L276.1,588.6 L278.2,593.8 L280.1,599.0 L281.9,604.1 L283.6,609.1 L285.0,614.0 L286.0,618.0 L286.9,622.0 L287.6,626.0 L288.2,629.9 L288.7,633.8 L289.2,637.7 L289.6,641.5 L290.0,645.3 L290.4,649.1 L290.9,652.8 L291.4,656.4 L292.0,660.0 L292.6,663.1 L293.1,666.3 L293.7,669.4 L294.2,672.5 L294.7,675.6 L295.3,678.7 L295.9,681.6 L296.6,684.5 L297.3,687.3 L298.1,690.0 L299.0,692.6 L300.0,695.0 L300.8,696.8 L301.7,698.6 L302.6,700.3 L303.6,701.9 L304.6,703.5 L305.6,705.0 L306.7,706.5 L307.8,707.9 L309.0,709.3 L310.3,710.6 L311.6,711.8 L313.0,713.0 L314.6,714.2 L316.3,715.3 L318.0,716.3 L319.8,717.3 L321.6,718.1 L323.6,719.0 L325.6,719.7 L327.7,720.4 L329.9,721.1 L332.1,721.8 L334.5,722.4 L337.0,723.0 L341.3,723.9 L346.0,724.6 L351.3,725.2 L356.8,725.7 L362.5,726.1 L368.4,726.4 L374.3,726.6 L380.1,726.8 L385.6,727.0 L390.9,727.2 L395.7,727.3 L400.0,727.5 L402.4,727.6 L404.7,727.7 L406.8,727.7 L408.8,727.8 L410.8,727.8 L412.7,727.9 L414.6,727.9 L416.4,727.9 L418.3,727.9 L420.1,727.9 L422.0,728.0 L424.0,728.0" fill="none" stroke="#ff00ff" stroke-width="3.2" stroke-linejoin="round"/>
<path d="M121.0,613.1 L125.5,621.3 L116.5,621.3Z" fill="#ff00ff"/>
<path d="M123.7,613.2 L128.2,621.4 L119.2,621.4Z" fill="#ff00ff"/>
<path d="M126.4,613.2 L130.9,621.4 L121.9,621.4Z" fill="#ff00ff"/>
<path d="M129.1,613.2 L133.6,621.4 L124.6,621.4Z" fill="#ff00ff"/>
<path d="M131.8,613.3 L136.3,621.5 L127.3,621.5Z" fill="#ff00ff"/>
<path d="M134.5,613.3 L139.0,621.5 L130.0,621.5Z" fill="#ff00ff"/>
<path d="M137.2,613.3 L141.7,621.5 L132.7,621.5Z" fill="#ff00ff"/>
<path d="M139.9,613.4 L144.4,621.6 L135.4,621.6Z" fill="#ff00ff"/>
<path d="M142.6,613.5 L147.1,621.7 L138.1,621.7Z" fill="#ff00ff"/>
<path d="M145.3,613.6 L149.8,621.8 L140.8,621.8Z" fill="#ff00ff"/>
<path d="M148.0,613.8 L152.5,622.0 L143.5,622.0Z" fill="#ff00ff"/>
<path d="M150.7,614.1 L155.2,622.3 L146.2,622.3Z" fill="#ff00ff"/>
<path d="M153.4,614.4 L157.9,622.6 L148.9,622.6Z" fill="#ff00ff"/>
<path d="M156.1,614.7 L160.6,622.9 L151.6,622.9Z" fill="#ff00ff"/>
<path d="M158.8,615.2 L163.3,623.4 L154.3,623.4Z" fill="#ff00ff"/>
<path d="M161.5,615.7 L166.0,623.9 L157.0,623.9Z" fill="#ff00ff"/>
<path d="M164.2,616.2 L168.7,624.4 L159.7,624.4Z" fill="#ff00ff"/>
<path d="M166.9,616.7 L171.4,624.9 L162.4,624.9Z" fill="#ff00ff"/>
<path d="M169.6,617.2 L174.1,625.4 L165.1,625.4Z" fill="#ff00ff"/>
<path d="M172.3,617.8 L176.8,626.0 L167.8,626.0Z" fill="#ff00ff"/>
<path d="M175.0,618.3 L179.5,626.5 L170.5,626.5Z" fill="#ff00ff"/>
<path d="M177.7,618.7 L182.2,626.9 L173.2,626.9Z" fill="#ff00ff"/>
<path d="M180.4,619.1 L184.9,627.3 L175.9,627.3Z" fill="#ff00ff"/>
<path d="M183.1,619.6 L187.6,627.8 L178.6,627.8Z" fill="#ff00ff"/>
<path d="M185.8,620.1 L190.3,628.3 L181.3,628.3Z" fill="#ff00ff"/>
<path d="M188.5,620.6 L193.0,628.8 L184.0,628.8Z" fill="#ff00ff"/>
<path d="M191.2,621.0 L195.7,629.2 L186.7,629.2Z" fill="#ff00ff"/>
<path d="M193.9,621.4 L198.4,629.6 L189.4,629.6Z" fill="#ff00ff"/>
<path d="M196.6,621.5 L201.1,629.7 L192.1,629.7Z" fill="#ff00ff"/>
<path d="M199.3,621.2 L203.8,629.4 L194.8,629.4Z" fill="#ff00ff"/>
<path d="M202.0,620.4 L206.5,628.6 L197.5,628.6Z" fill="#ff00ff"/>
<path d="M204.7,619.1 L209.2,627.3 L200.2,627.3Z" fill="#ff00ff"/>
<path d="M207.4,617.0 L211.9,625.2 L202.9,625.2Z" fill="#ff00ff"/>
<path d="M210.1,613.9 L214.6,622.1 L205.6,622.1Z" fill="#ff00ff"/>
<path d="M212.8,608.0 L217.3,616.2 L208.3,616.2Z" fill="#ff00ff"/>
<path d="M215.5,597.0 L220.0,605.2 L211.0,605.2Z" fill="#ff00ff"/>
<path d="M218.2,587.2 L222.7,595.4 L213.7,595.4Z" fill="#ff00ff"/>
<path d="M220.9,573.4 L225.4,581.6 L216.4,581.6Z" fill="#ff00ff"/>
<path d="M223.6,548.9 L228.1,557.1 L219.1,557.1Z" fill="#ff00ff"/>
<path d="M226.3,530.5 L230.8,538.7 L221.8,538.7Z" fill="#ff00ff"/>
<path d="M229.0,514.0 L233.5,522.2 L224.5,522.2Z" fill="#ff00ff"/>
<path d="M231.7,504.3 L236.2,512.5 L227.2,512.5Z" fill="#ff00ff"/>
<path d="M234.4,502.1 L238.9,510.3 L229.9,510.3Z" fill="#ff00ff"/>
<path d="M237.1,503.8 L241.6,512.0 L232.6,512.0Z" fill="#ff00ff"/>
<path d="M239.8,507.3 L244.3,515.5 L235.3,515.5Z" fill="#ff00ff"/>
<path d="M242.5,511.7 L247.0,519.9 L238.0,519.9Z" fill="#ff00ff"/>
<path d="M245.2,516.8 L249.7,525.0 L240.7,525.0Z" fill="#ff00ff"/>
<path d="M247.9,522.2 L252.4,530.4 L243.4,530.4Z" fill="#ff00ff"/>
<path d="M250.6,527.9 L255.1,536.1 L246.1,536.1Z" fill="#ff00ff"/>
<path d="M253.3,533.7 L257.8,541.9 L248.8,541.9Z" fill="#ff00ff"/>
<path d="M256.0,539.6 L260.5,547.8 L251.5,547.8Z" fill="#ff00ff"/>
<path d="M258.7,545.4 L263.2,553.6 L254.2,553.6Z" fill="#ff00ff"/>
<path d="M261.4,551.0 L265.9,559.2 L256.9,559.2Z" fill="#ff00ff"/>
<path d="M264.1,556.6 L268.6,564.8 L259.6,564.8Z" fill="#ff00ff"/>
<path d="M266.8,562.4 L271.3,570.6 L262.3,570.6Z" fill="#ff00ff"/>
<path d="M269.5,568.3 L274.0,576.5 L265.0,576.5Z" fill="#ff00ff"/>
<path d="M272.2,574.4 L276.7,582.6 L267.7,582.6Z" fill="#ff00ff"/>
<path d="M274.9,580.8 L279.4,589.0 L270.4,589.0Z" fill="#ff00ff"/>
<path d="M277.6,587.4 L282.1,595.6 L273.1,595.6Z" fill="#ff00ff"/>
<path d="M280.3,594.6 L284.8,602.8 L275.8,602.8Z" fill="#ff00ff"/>
<path d="M283.0,602.4 L287.5,610.6 L278.5,610.6Z" fill="#ff00ff"/>
<path d="M285.7,611.8 L290.2,620.0 L281.2,620.0Z" fill="#ff00ff"/>
<path d="M288.4,626.5 L292.9,634.7 L283.9,634.7Z" fill="#ff00ff"/>
<path d="M291.1,649.6 L295.6,657.8 L286.6,657.8Z" fill="#ff00ff"/>
<path d="M293.8,665.4 L298.3,673.6 L289.3,673.6Z" fill="#ff00ff"/>
<path d="M296.5,679.3 L301.0,687.5 L292.0,687.5Z" fill="#ff00ff"/>
<path d="M299.2,688.2 L303.7,696.4 L294.7,696.4Z" fill="#ff00ff"/>
<path d="M301.9,694.0 L306.4,702.2 L297.4,702.2Z" fill="#ff00ff"/>
<path d="M304.6,698.7 L309.1,706.9 L300.1,706.9Z" fill="#ff00ff"/>
<path d="M307.3,702.4 L311.8,710.6 L302.8,710.6Z" fill="#ff00ff"/>
<path d="M310.0,705.4 L314.5,713.6 L305.5,713.6Z" fill="#ff00ff"/>
<path d="M312.7,707.8 L317.2,716.0 L308.2,716.0Z" fill="#ff00ff"/>
<path d="M315.4,709.8 L319.9,718.0 L310.9,718.0Z" fill="#ff00ff"/>
<path d="M318.1,711.5 L322.6,719.7 L313.6,719.7Z" fill="#ff00ff"/>
<path d="M320.8,712.9 L325.3,721.1 L316.3,721.1Z" fill="#ff00ff"/>
<path d="M323.5,714.0 L328.0,722.2 L319.0,722.2Z" fill="#ff00ff"/>
<path d="M326.2,715.0 L330.7,723.2 L321.7,723.2Z" fill="#ff00ff"/>
<path d="M328.9,715.9 L333.4,724.1 L324.4,724.1Z" fill="#ff00ff"/>
<path d="M331.6,716.7 L336.1,724.9 L327.1,724.9Z" fill="#ff00ff"/>
<path d="M334.3,717.4 L338.8,725.6 L329.8,725.6Z" fill="#ff00ff"/>
<path d="M337.0,718.1 L341.5,726.3 L332.5,726.3Z" fill="#ff00ff"/>
<path d="M339.7,718.7 L344.2,726.9 L335.2,726.9Z" fill="#ff00ff"/>
<path d="M342.4,719.1 L346.9,727.3 L337.9,727.3Z" fill="#ff00ff"/>
<path d="M345.1,719.5 L349.6,727.7 L340.6,727.7Z" fill="#ff00ff"/>
<path d="M347.8,719.9 L352.3,728.1 L343.3,728.1Z" fill="#ff00ff"/>
<path d="M350.5,720.2 L355.0,728.4 L346.0,728.4Z" fill="#ff00ff"/>
<path d="M353.2,720.4 L357.7,728.6 L348.7,728.6Z" fill="#ff00ff"/>
<path d="M355.9,720.7 L360.4,728.9 L351.4,728.9Z" fill="#ff00ff"/>
<path d="M358.6,720.9 L363.1,729.1 L354.1,729.1Z" fill="#ff00ff"/>
<path d="M361.3,721.1 L365.8,729.3 L356.8,729.3Z" fill="#ff00ff"/>
<path d="M364.0,721.2 L368.5,729.4 L359.5,729.4Z" fill="#ff00ff"/>
<path d="M366.7,721.4 L371.2,729.6 L362.2,729.6Z" fill="#ff00ff"/>
<path d="M369.4,721.5 L373.9,729.7 L364.9,729.7Z" fill="#ff00ff"/>
<path d="M372.1,721.6 L376.6,729.8 L367.6,729.8Z" fill="#ff00ff"/>
<path d="M374.8,721.7 L379.3,729.9 L370.3,729.9Z" fill="#ff00ff"/>
<path d="M377.5,721.8 L382.0,730.0 L373.0,730.0Z" fill="#ff00ff"/>
<path d="M380.2,721.9 L384.7,730.1 L375.7,730.1Z" fill="#ff00ff"/>
<path d="M382.9,722.0 L387.4,730.2 L378.4,730.2Z" fill="#ff00ff"/>
<path d="M385.6,722.1 L390.1,730.3 L381.1,730.3Z" fill="#ff00ff"/>
<path d="M388.3,722.2 L392.8,730.4 L383.8,730.4Z" fill="#ff00ff"/>
<path d="M391.0,722.3 L395.5,730.5 L386.5,730.5Z" fill="#ff00ff"/>
<path d="M393.7,722.3 L398.2,730.5 L389.2,730.5Z" fill="#ff00ff"/>
<path d="M396.4,722.4 L400.9,730.6 L391.9,730.6Z" fill="#ff00ff"/>
<path d="M399.1,722.5 L403.6,730.7 L394.6,730.7Z" fill="#ff00ff"/>
<path d="M401.8,722.7 L406.3,730.9 L397.3,730.9Z" fill="#ff00ff"/>
<path d="M404.5,722.8 L409.0,731.0 L400.0,731.0Z" fill="#ff00ff"/>
<path d="M407.2,722.8 L411.7,731.0 L402.7,731.0Z" fill="#ff00ff"/>
<path d="M409.9,722.9 L414.4,731.1 L405.4,731.1Z" fill="#ff00ff"/>
<path d="M412.6,722.9 L417.1,731.1 L408.1,731.1Z" fill="#ff00ff"/>
<path d="M415.3,723.0 L419.8,731.2 L410.8,731.2Z" fill="#ff00ff"/>
<path d="M418.0,723.0 L422.5,731.2 L413.5,731.2Z" fill="#ff00ff"/>
<path d="M420.7,723.0 L425.2,731.2 L416.2,731.2Z" fill="#ff00ff"/>
<path d="M423.4,723.1 L427.9,731.3 L418.9,731.3Z" fill="#ff00ff"/>
<path d="M121.0,605.5 L123.5,605.6 L126.0,605.6 L128.5,605.6 L131.0,605.7 L133.5,605.7 L136.0,605.7 L138.5,605.7 L141.0,605.8 L143.5,605.9 L146.0,606.0 L148.5,606.2 L151.0,606.5 L153.5,606.8 L156.1,607.3 L158.7,607.8 L161.3,608.3 L163.9,608.9 L166.4,609.5 L169.0,610.1 L171.5,610.7 L174.0,611.2 L176.4,611.7 L178.7,612.1 L181.0,612.5 L182.8,612.8 L184.5,613.1 L186.2,613.4 L187.9,613.7 L189.6,614.0 L191.2,614.3 L192.8,614.5 L194.4,614.6 L195.9,614.7 L197.3,614.6 L198.7,614.4 L200.0,614.0 L201.0,613.6 L202.1,613.0 L203.0,612.4 L203.9,611.7 L204.8,611.0 L205.7,610.1 L206.5,609.3 L207.3,608.3 L208.0,607.4 L208.7,606.4 L209.4,605.5 L210.0,604.5 L210.6,603.5 L211.2,602.4 L211.7,601.2 L212.1,600.1 L212.5,598.9 L212.9,597.6 L213.2,596.4 L213.6,595.1 L213.9,593.9 L214.3,592.6 L214.6,591.3 L215.0,590.0 L215.4,588.6 L215.9,587.2 L216.3,585.8 L216.7,584.5 L217.2,583.1 L217.6,581.6 L218.0,580.2 L218.4,578.7 L218.8,577.1 L219.2,575.5 L219.6,573.8 L220.0,572.0 L220.6,569.0 L221.0,565.6 L221.5,562.0 L221.9,558.2 L222.3,554.3 L222.7,550.3 L223.1,546.3 L223.6,542.3 L224.1,538.4 L224.6,534.7 L225.3,531.2 L226.0,528.0 L226.6,525.7 L227.2,523.2 L227.8,520.7 L228.4,518.1 L229.1,515.7 L229.8,513.3 L230.5,511.2 L231.3,509.2 L232.2,507.6 L233.0,506.3 L234.0,505.4 L235.0,505.0 L236.2,505.2 L237.5,505.9 L238.9,507.1 L240.4,508.8 L242.0,510.8 L243.6,513.1 L245.2,515.6 L246.8,518.2 L248.4,520.8 L250.0,523.4 L251.5,525.8 L253.0,528.0 L254.5,530.2 L256.0,532.5 L257.6,534.8 L259.1,537.0 L260.6,539.4 L262.0,541.7 L263.5,544.1 L264.9,546.6 L266.2,549.1 L267.5,551.7 L268.8,554.3 L270.0,557.0 L271.3,560.2 L272.5,563.6 L273.7,567.0 L274.8,570.5 L275.9,574.1 L276.9,577.8 L277.8,581.4 L278.7,585.2 L279.6,588.9 L280.4,592.6 L281.2,596.3 L282.0,600.0 L282.7,603.7 L283.3,607.5 L283.9,611.3 L284.3,615.1 L284.8,618.9 L285.2,622.7 L285.6,626.5 L286.0,630.3 L286.4,634.1 L286.9,637.8 L287.4,641.4 L288.0,645.0 L288.6,648.2 L289.1,651.4 L289.7,654.5 L290.2,657.6 L290.8,660.8 L291.4,663.8 L292.1,666.9 L292.7,669.8 L293.5,672.7 L294.3,675.6 L295.1,678.3 L296.0,681.0 L296.8,683.2 L297.6,685.4 L298.4,687.5 L299.3,689.6 L300.2,691.7 L301.1,693.7 L302.1,695.7 L303.1,697.6 L304.2,699.4 L305.4,701.2 L306.7,702.9 L308.0,704.5 L309.4,706.0 L310.9,707.5 L312.4,708.9 L314.1,710.3 L315.7,711.5 L317.5,712.8 L319.3,713.9 L321.1,715.1 L323.0,716.1 L325.0,717.1 L327.0,718.1 L329.0,719.0 L331.4,720.0 L333.8,720.8 L336.3,721.6 L338.9,722.3 L341.5,722.9 L344.2,723.4 L347.0,723.9 L349.8,724.4 L352.8,724.8 L355.8,725.2 L358.8,725.6 L362.0,726.0 L366.5,726.5 L371.2,726.9 L376.1,727.2 L381.2,727.4 L386.4,727.6 L391.8,727.8 L397.2,727.9 L402.6,728.0 L408.0,728.1 L413.4,728.2 L418.8,728.3 L424.0,728.5" fill="none" stroke="#ff0000" stroke-width="3.2" stroke-linejoin="round"/>
<path d="M121.0,610.4 L125.5,602.2 L116.5,602.2Z" fill="#ff0000"/>
<path d="M123.7,610.5 L128.2,602.3 L119.2,602.3Z" fill="#ff0000"/>
<path d="M126.4,610.5 L130.9,602.3 L121.9,602.3Z" fill="#ff0000"/>
<path d="M129.1,610.6 L133.6,602.4 L124.6,602.4Z" fill="#ff0000"/>
<path d="M131.8,610.6 L136.3,602.4 L127.3,602.4Z" fill="#ff0000"/>
<path d="M134.5,610.6 L139.0,602.4 L130.0,602.4Z" fill="#ff0000"/>
<path d="M137.2,610.6 L141.7,602.4 L132.7,602.4Z" fill="#ff0000"/>
<path d="M139.9,610.7 L144.4,602.5 L135.4,602.5Z" fill="#ff0000"/>
<path d="M142.6,610.8 L147.1,602.6 L138.1,602.6Z" fill="#ff0000"/>
<path d="M145.3,610.9 L149.8,602.7 L140.8,602.7Z" fill="#ff0000"/>
<path d="M148.0,611.1 L152.5,602.9 L143.5,602.9Z" fill="#ff0000"/>
<path d="M150.7,611.4 L155.2,603.2 L146.2,603.2Z" fill="#ff0000"/>
<path d="M153.4,611.7 L157.9,603.5 L148.9,603.5Z" fill="#ff0000"/>
<path d="M156.1,612.2 L160.6,604.0 L151.6,604.0Z" fill="#ff0000"/>
<path d="M158.8,612.7 L163.3,604.5 L154.3,604.5Z" fill="#ff0000"/>
<path d="M161.5,613.3 L166.0,605.1 L157.0,605.1Z" fill="#ff0000"/>
<path d="M164.2,613.9 L168.7,605.7 L159.7,605.7Z" fill="#ff0000"/>
<path d="M166.9,614.5 L171.4,606.3 L162.4,606.3Z" fill="#ff0000"/>
<path d="M169.6,615.1 L174.1,606.9 L165.1,606.9Z" fill="#ff0000"/>
<path d="M172.3,615.8 L176.8,607.6 L167.8,607.6Z" fill="#ff0000"/>
<path d="M175.0,616.3 L179.5,608.1 L170.5,608.1Z" fill="#ff0000"/>
<path d="M177.7,616.9 L182.2,608.7 L173.2,608.7Z" fill="#ff0000"/>
<path d="M180.4,617.3 L184.9,609.1 L175.9,609.1Z" fill="#ff0000"/>
<path d="M183.1,617.7 L187.6,609.5 L178.6,609.5Z" fill="#ff0000"/>
<path d="M185.8,618.2 L190.3,610.0 L181.3,610.0Z" fill="#ff0000"/>
<path d="M188.5,618.7 L193.0,610.5 L184.0,610.5Z" fill="#ff0000"/>
<path d="M191.2,619.2 L195.7,611.0 L186.7,611.0Z" fill="#ff0000"/>
<path d="M193.9,619.5 L198.4,611.3 L189.4,611.3Z" fill="#ff0000"/>
<path d="M196.6,619.6 L201.1,611.4 L192.1,611.4Z" fill="#ff0000"/>
<path d="M199.3,619.1 L203.8,610.9 L194.8,610.9Z" fill="#ff0000"/>
<path d="M202.0,618.0 L206.5,609.8 L197.5,609.8Z" fill="#ff0000"/>
<path d="M204.7,616.0 L209.2,607.8 L200.2,607.8Z" fill="#ff0000"/>
<path d="M207.4,613.1 L211.9,604.9 L202.9,604.9Z" fill="#ff0000"/>
<path d="M210.1,609.3 L214.6,601.1 L205.6,601.1Z" fill="#ff0000"/>
<path d="M212.8,602.8 L217.3,594.6 L208.3,594.6Z" fill="#ff0000"/>
<path d="M215.5,593.3 L220.0,585.1 L211.0,585.1Z" fill="#ff0000"/>
<path d="M218.2,584.4 L222.7,576.2 L213.7,576.2Z" fill="#ff0000"/>
<path d="M220.9,571.6 L225.4,563.4 L216.4,563.4Z" fill="#ff0000"/>
<path d="M223.6,546.9 L228.1,538.7 L219.1,538.7Z" fill="#ff0000"/>
<path d="M226.3,531.7 L230.8,523.5 L221.8,523.5Z" fill="#ff0000"/>
<path d="M229.0,521.0 L233.5,512.8 L224.5,512.8Z" fill="#ff0000"/>
<path d="M231.7,513.3 L236.2,505.1 L227.2,505.1Z" fill="#ff0000"/>
<path d="M234.4,510.1 L238.9,501.9 L229.9,501.9Z" fill="#ff0000"/>
<path d="M237.1,510.5 L241.6,502.3 L232.6,502.3Z" fill="#ff0000"/>
<path d="M239.8,513.0 L244.3,504.8 L235.3,504.8Z" fill="#ff0000"/>
<path d="M242.5,516.5 L247.0,508.3 L238.0,508.3Z" fill="#ff0000"/>
<path d="M245.2,520.5 L249.7,512.3 L240.7,512.3Z" fill="#ff0000"/>
<path d="M247.9,524.8 L252.4,516.6 L243.4,516.6Z" fill="#ff0000"/>
<path d="M250.6,529.2 L255.1,521.0 L246.1,521.0Z" fill="#ff0000"/>
<path d="M253.3,533.4 L257.8,525.2 L248.8,525.2Z" fill="#ff0000"/>
<path d="M256.0,537.3 L260.5,529.1 L251.5,529.1Z" fill="#ff0000"/>
<path d="M258.7,541.4 L263.2,533.2 L254.2,533.2Z" fill="#ff0000"/>
<path d="M261.4,545.6 L265.9,537.4 L256.9,537.4Z" fill="#ff0000"/>
<path d="M264.1,550.1 L268.6,541.9 L259.6,541.9Z" fill="#ff0000"/>
<path d="M266.8,555.1 L271.3,546.9 L262.3,546.9Z" fill="#ff0000"/>
<path d="M269.5,560.8 L274.0,552.6 L265.0,552.6Z" fill="#ff0000"/>
<path d="M272.2,567.5 L276.7,559.3 L267.7,559.3Z" fill="#ff0000"/>
<path d="M274.9,575.7 L279.4,567.5 L270.4,567.5Z" fill="#ff0000"/>
<path d="M277.6,585.4 L282.1,577.2 L273.1,577.2Z" fill="#ff0000"/>
<path d="M280.3,596.9 L284.8,588.7 L275.8,588.7Z" fill="#ff0000"/>
<path d="M283.0,610.4 L287.5,602.2 L278.5,602.2Z" fill="#ff0000"/>
<path d="M285.7,632.4 L290.2,624.2 L281.2,624.2Z" fill="#ff0000"/>
<path d="M288.4,652.2 L292.9,644.0 L283.9,644.0Z" fill="#ff0000"/>
<path d="M291.1,667.1 L295.6,658.9 L286.6,658.9Z" fill="#ff0000"/>
<path d="M293.8,678.9 L298.3,670.7 L289.3,670.7Z" fill="#ff0000"/>
<path d="M296.5,687.3 L301.0,679.1 L292.0,679.1Z" fill="#ff0000"/>
<path d="M299.2,694.3 L303.7,686.1 L294.7,686.1Z" fill="#ff0000"/>
<path d="M301.9,700.2 L306.4,692.0 L297.4,692.0Z" fill="#ff0000"/>
<path d="M304.6,704.9 L309.1,696.7 L300.1,696.7Z" fill="#ff0000"/>
<path d="M307.3,708.6 L311.8,700.4 L302.8,700.4Z" fill="#ff0000"/>
<path d="M310.0,711.6 L314.5,703.4 L305.5,703.4Z" fill="#ff0000"/>
<path d="M312.7,714.1 L317.2,705.9 L308.2,705.9Z" fill="#ff0000"/>
<path d="M315.4,716.2 L319.9,708.0 L310.9,708.0Z" fill="#ff0000"/>
<path d="M318.1,718.1 L322.6,709.9 L313.6,709.9Z" fill="#ff0000"/>
<path d="M320.8,719.8 L325.3,711.6 L316.3,711.6Z" fill="#ff0000"/>
<path d="M323.5,721.3 L328.0,713.1 L319.0,713.1Z" fill="#ff0000"/>
<path d="M326.2,722.6 L330.7,714.4 L321.7,714.4Z" fill="#ff0000"/>
<path d="M328.9,723.9 L333.4,715.7 L324.4,715.7Z" fill="#ff0000"/>
<path d="M331.6,725.0 L336.1,716.8 L327.1,716.8Z" fill="#ff0000"/>
<path d="M334.3,725.9 L338.8,717.7 L329.8,717.7Z" fill="#ff0000"/>
<path d="M337.0,726.7 L341.5,718.5 L332.5,718.5Z" fill="#ff0000"/>
<path d="M339.7,727.4 L344.2,719.2 L335.2,719.2Z" fill="#ff0000"/>
<path d="M342.4,728.0 L346.9,719.8 L337.9,719.8Z" fill="#ff0000"/>
<path d="M345.1,728.5 L349.6,720.3 L340.6,720.3Z" fill="#ff0000"/>
<path d="M347.8,729.0 L352.3,720.8 L343.3,720.8Z" fill="#ff0000"/>
<path d="M350.5,729.4 L355.0,721.2 L346.0,721.2Z" fill="#ff0000"/>
<path d="M353.2,729.8 L357.7,721.6 L348.7,721.6Z" fill="#ff0000"/>
<path d="M355.9,730.1 L360.4,721.9 L351.4,721.9Z" fill="#ff0000"/>
<path d="M358.6,730.5 L363.1,722.3 L354.1,722.3Z" fill="#ff0000"/>
<path d="M361.3,730.8 L365.8,722.6 L356.8,722.6Z" fill="#ff0000"/>
<path d="M364.0,731.2 L368.5,723.0 L359.5,723.0Z" fill="#ff0000"/>
<path d="M366.7,731.4 L371.2,723.2 L362.2,723.2Z" fill="#ff0000"/>
<path d="M369.4,731.7 L373.9,723.5 L364.9,723.5Z" fill="#ff0000"/>
<path d="M372.1,731.9 L376.6,723.7 L367.6,723.7Z" fill="#ff0000"/>
<path d="M374.8,732.0 L379.3,723.8 L370.3,723.8Z" fill="#ff0000"/>
<path d="M377.5,732.2 L382.0,724.0 L373.0,724.0Z" fill="#ff0000"/>
<path d="M380.2,732.3 L384.7,724.1 L375.7,724.1Z" fill="#ff0000"/>
<path d="M382.9,732.4 L387.4,724.2 L378.4,724.2Z" fill="#ff0000"/>
<path d="M385.6,732.5 L390.1,724.3 L381.1,724.3Z" fill="#ff0000"/>
<path d="M388.3,732.6 L392.8,724.4 L383.8,724.4Z" fill="#ff0000"/>
<path d="M391.0,732.7 L395.5,724.5 L386.5,724.5Z" fill="#ff0000"/>
<path d="M393.7,732.7 L398.2,724.5 L389.2,724.5Z" fill="#ff0000"/>
<path d="M396.4,732.8 L400.9,724.6 L391.9,724.6Z" fill="#ff0000"/>
<path d="M399.1,732.8 L403.6,724.6 L394.6,724.6Z" fill="#ff0000"/>
<path d="M401.8,732.9 L406.3,724.7 L397.3,724.7Z" fill="#ff0000"/>
<path d="M404.5,732.9 L409.0,724.7 L400.0,724.7Z" fill="#ff0000"/>
<path d="M407.2,733.0 L411.7,724.8 L402.7,724.8Z" fill="#ff0000"/>
<path d="M409.9,733.0 L414.4,724.8 L405.4,724.8Z" fill="#ff0000"/>
<path d="M412.6,733.1 L417.1,724.9 L408.1,724.9Z" fill="#ff0000"/>
<path d="M415.3,733.1 L419.8,724.9 L410.8,724.9Z" fill="#ff0000"/>
<path d="M418.0,733.2 L422.5,725.0 L413.5,725.0Z" fill="#ff0000"/>
<path d="M420.7,733.3 L425.2,725.1 L416.2,725.1Z" fill="#ff0000"/>
<path d="M423.4,733.4 L427.9,725.2 L418.9,725.2Z" fill="#ff0000"/>
<path d="M120.0,576.5 L122.6,576.9 L125.2,577.3 L127.8,577.7 L130.4,578.0 L132.9,578.4 L135.5,578.8 L138.1,579.2 L140.7,579.6 L143.3,580.0 L145.9,580.5 L148.4,581.0 L151.0,581.5 L153.6,582.1 L156.2,582.8 L158.9,583.6 L161.5,584.5 L164.2,585.4 L166.9,586.2 L169.5,587.1 L172.0,587.8 L174.6,588.5 L177.0,589.1 L179.4,589.5 L181.7,589.8 L183.4,589.9 L185.1,590.1 L186.8,590.2 L188.4,590.3 L190.0,590.4 L191.6,590.4 L193.1,590.3 L194.6,590.1 L196.1,589.7 L197.4,589.2 L198.8,588.6 L200.0,587.8 L201.5,586.4 L202.9,584.6 L204.2,582.5 L205.3,580.1 L206.4,577.5 L207.3,574.7 L208.2,571.8 L209.1,568.8 L209.9,565.8 L210.8,562.8 L211.6,559.9 L212.5,557.0 L213.5,553.8 L214.4,550.4 L215.2,546.8 L215.9,543.2 L216.7,539.6 L217.4,535.9 L218.2,532.3 L218.9,528.7 L219.8,525.3 L220.6,522.0 L221.6,518.9 L222.7,516.0 L223.6,513.9 L224.5,511.6 L225.4,509.4 L226.3,507.1 L227.3,504.9 L228.3,502.9 L229.3,501.0 L230.4,499.3 L231.5,497.8 L232.6,496.7 L233.8,495.9 L235.0,495.6 L236.4,495.7 L237.8,496.4 L239.3,497.4 L240.8,498.8 L242.4,500.6 L244.0,502.5 L245.6,504.7 L247.2,507.0 L248.8,509.3 L250.4,511.6 L251.9,513.9 L253.4,516.0 L255.2,518.6 L257.1,521.4 L258.9,524.3 L260.8,527.3 L262.6,530.4 L264.4,533.6 L266.1,536.8 L267.8,540.1 L269.5,543.3 L271.1,546.6 L272.6,549.8 L274.0,553.0 L275.3,556.0 L276.5,559.1 L277.7,562.2 L278.9,565.3 L279.9,568.4 L281.0,571.6 L281.9,574.7 L282.9,577.8 L283.7,580.9 L284.5,584.0 L285.3,587.0 L286.0,590.0 L286.6,592.6 L287.0,595.2 L287.4,597.8 L287.8,600.3 L288.1,602.8 L288.3,605.4 L288.6,607.9 L288.8,610.4 L289.1,613.0 L289.3,615.6 L289.6,618.3 L290.0,621.0 L290.4,624.3 L290.9,627.6 L291.3,631.1 L291.7,634.7 L292.1,638.2 L292.6,641.8 L293.0,645.4 L293.5,648.9 L294.1,652.4 L294.7,655.7 L295.3,659.0 L296.0,662.0 L296.6,664.3 L297.2,666.6 L297.8,668.7 L298.4,670.9 L299.1,673.0 L299.8,675.0 L300.5,677.0 L301.2,679.0 L302.0,680.9 L302.8,682.8 L303.7,684.7 L304.6,686.6 L305.5,688.4 L306.4,690.2 L307.4,691.9 L308.3,693.7 L309.4,695.4 L310.4,697.1 L311.5,698.8 L312.6,700.4 L313.8,701.9 L315.1,703.3 L316.3,704.7 L317.7,706.0 L319.1,707.1 L320.5,708.2 L321.9,709.2 L323.4,710.1 L325.0,711.0 L326.5,711.8 L328.2,712.6 L329.8,713.3 L331.6,714.0 L333.3,714.7 L335.1,715.3 L337.0,716.0 L339.4,716.8 L341.8,717.5 L344.4,718.2 L346.9,718.8 L349.6,719.4 L352.4,719.9 L355.1,720.4 L358.0,720.9 L360.9,721.3 L363.9,721.7 L366.9,722.2 L370.0,722.6 L374.0,723.1 L378.2,723.6 L382.5,724.0 L387.0,724.3 L391.5,724.6 L396.2,724.9 L400.8,725.2 L405.5,725.5 L410.2,725.8 L414.8,726.1 L419.5,726.4 L424.0,726.7" fill="none" stroke="#007f00" stroke-width="3.2" stroke-linejoin="round"/>
<path d="M115.1,576.5 L123.3,572.0 L123.3,581.0Z" fill="#007f00"/>
<path d="M117.8,576.9 L126.0,572.4 L126.0,581.4Z" fill="#007f00"/>
<path d="M120.5,577.3 L128.7,572.8 L128.7,581.8Z" fill="#007f00"/>
<path d="M123.2,577.7 L131.4,573.2 L131.4,582.2Z" fill="#007f00"/>
<path d="M125.9,578.1 L134.1,573.6 L134.1,582.6Z" fill="#007f00"/>
<path d="M128.6,578.5 L136.8,574.0 L136.8,583.0Z" fill="#007f00"/>
<path d="M131.3,578.9 L139.5,574.4 L139.5,583.4Z" fill="#007f00"/>
<path d="M134.0,579.3 L142.2,574.8 L142.2,583.8Z" fill="#007f00"/>
<path d="M136.7,579.7 L144.9,575.2 L144.9,584.2Z" fill="#007f00"/>
<path d="M139.4,580.2 L147.6,575.7 L147.6,584.7Z" fill="#007f00"/>
<path d="M142.1,580.7 L150.3,576.2 L150.3,585.2Z" fill="#007f00"/>
<path d="M144.8,581.2 L153.0,576.7 L153.0,585.7Z" fill="#007f00"/>
<path d="M147.5,581.8 L155.7,577.3 L155.7,586.3Z" fill="#007f00"/>
<path d="M150.2,582.5 L158.4,578.0 L158.4,587.0Z" fill="#007f00"/>
<path d="M152.9,583.3 L161.1,578.8 L161.1,587.8Z" fill="#007f00"/>
<path d="M155.6,584.1 L163.8,579.6 L163.8,588.7Z" fill="#007f00"/>
<path d="M158.3,585.0 L166.5,580.5 L166.5,589.5Z" fill="#007f00"/>
<path d="M161.0,585.9 L169.2,581.4 L169.2,590.4Z" fill="#007f00"/>
<path d="M163.7,586.8 L171.9,582.3 L171.9,591.3Z" fill="#007f00"/>
<path d="M166.4,587.6 L174.6,583.1 L174.6,592.1Z" fill="#007f00"/>
<path d="M169.1,588.4 L177.3,583.9 L177.3,592.9Z" fill="#007f00"/>
<path d="M171.8,589.0 L180.0,584.5 L180.0,593.5Z" fill="#007f00"/>
<path d="M174.5,589.5 L182.7,585.0 L182.7,594.0Z" fill="#007f00"/>
<path d="M177.2,589.8 L185.4,585.3 L185.4,594.3Z" fill="#007f00"/>
<path d="M179.9,590.1 L188.1,585.6 L188.1,594.6Z" fill="#007f00"/>
<path d="M182.6,590.3 L190.8,585.8 L190.8,594.8Z" fill="#007f00"/>
<path d="M185.3,590.4 L193.5,585.9 L193.5,594.9Z" fill="#007f00"/>
<path d="M188.0,590.3 L196.2,585.8 L196.2,594.8Z" fill="#007f00"/>
<path d="M190.7,589.8 L198.9,585.3 L198.9,594.4Z" fill="#007f00"/>
<path d="M193.4,588.9 L201.6,584.3 L201.6,593.4Z" fill="#007f00"/>
<path d="M196.1,586.9 L204.3,582.4 L204.3,591.4Z" fill="#007f00"/>
<path d="M198.8,583.3 L207.0,578.8 L207.0,587.9Z" fill="#007f00"/>
<path d="M201.5,577.4 L209.7,572.9 L209.7,581.9Z" fill="#007f00"/>
<path d="M204.2,568.8 L212.4,564.3 L212.4,573.3Z" fill="#007f00"/>
<path d="M206.9,559.2 L215.1,554.7 L215.1,563.8Z" fill="#007f00"/>
<path d="M209.6,549.8 L217.8,545.3 L217.8,554.3Z" fill="#007f00"/>
<path d="M212.3,537.0 L220.5,532.5 L220.5,541.5Z" fill="#007f00"/>
<path d="M215.0,524.7 L223.2,520.2 L223.2,529.2Z" fill="#007f00"/>
<path d="M217.7,516.2 L225.9,511.7 L225.9,520.8Z" fill="#007f00"/>
<path d="M220.4,509.6 L228.6,505.1 L228.6,514.1Z" fill="#007f00"/>
<path d="M223.1,503.5 L231.3,499.0 L231.3,508.0Z" fill="#007f00"/>
<path d="M225.8,498.8 L234.0,494.3 L234.0,503.4Z" fill="#007f00"/>
<path d="M228.5,496.2 L236.7,491.6 L236.7,500.7Z" fill="#007f00"/>
<path d="M231.2,495.7 L239.4,491.2 L239.4,500.2Z" fill="#007f00"/>
<path d="M233.9,497.1 L242.1,492.5 L242.1,501.6Z" fill="#007f00"/>
<path d="M236.6,499.6 L244.8,495.1 L244.8,504.1Z" fill="#007f00"/>
<path d="M239.3,502.8 L247.5,498.3 L247.5,507.4Z" fill="#007f00"/>
<path d="M242.0,506.5 L250.2,502.0 L250.2,511.1Z" fill="#007f00"/>
<path d="M244.7,510.5 L252.9,506.0 L252.9,515.0Z" fill="#007f00"/>
<path d="M247.4,514.4 L255.6,509.9 L255.6,518.9Z" fill="#007f00"/>
<path d="M250.1,518.3 L258.3,513.8 L258.3,522.8Z" fill="#007f00"/>
<path d="M252.8,522.4 L261.0,517.9 L261.0,526.9Z" fill="#007f00"/>
<path d="M255.5,526.7 L263.7,522.2 L263.7,531.2Z" fill="#007f00"/>
<path d="M258.2,531.3 L266.4,526.8 L266.4,535.8Z" fill="#007f00"/>
<path d="M260.9,536.2 L269.1,531.7 L269.1,540.7Z" fill="#007f00"/>
<path d="M263.6,541.4 L271.8,536.9 L271.8,545.9Z" fill="#007f00"/>
<path d="M266.3,546.9 L274.5,542.3 L274.5,551.4Z" fill="#007f00"/>
<path d="M269.0,552.8 L277.2,548.3 L277.2,557.3Z" fill="#007f00"/>
<path d="M271.7,559.3 L279.9,554.8 L279.9,563.8Z" fill="#007f00"/>
<path d="M274.4,566.6 L282.6,562.1 L282.6,571.1Z" fill="#007f00"/>
<path d="M277.1,574.9 L285.3,570.4 L285.3,579.4Z" fill="#007f00"/>
<path d="M279.8,584.6 L288.0,580.1 L288.0,589.1Z" fill="#007f00"/>
<path d="M282.5,597.6 L290.7,593.1 L290.7,602.1Z" fill="#007f00"/>
<path d="M285.2,621.7 L293.4,617.2 L293.4,626.2Z" fill="#007f00"/>
<path d="M287.9,643.6 L296.1,639.1 L296.1,648.1Z" fill="#007f00"/>
<path d="M290.6,659.8 L298.8,655.3 L298.8,664.4Z" fill="#007f00"/>
<path d="M293.3,670.2 L301.5,665.6 L301.5,674.7Z" fill="#007f00"/>
<path d="M296.0,678.2 L304.2,673.7 L304.2,682.7Z" fill="#007f00"/>
<path d="M298.7,684.5 L306.9,680.0 L306.9,689.0Z" fill="#007f00"/>
<path d="M301.4,689.9 L309.6,685.4 L309.6,694.4Z" fill="#007f00"/>
<path d="M304.1,694.8 L312.3,690.3 L312.3,699.3Z" fill="#007f00"/>
<path d="M306.8,699.1 L315.0,694.5 L315.0,703.6Z" fill="#007f00"/>
<path d="M309.5,702.6 L317.7,698.1 L317.7,707.1Z" fill="#007f00"/>
<path d="M312.2,705.4 L320.4,700.9 L320.4,710.0Z" fill="#007f00"/>
<path d="M314.9,707.7 L323.1,703.2 L323.1,712.2Z" fill="#007f00"/>
<path d="M317.6,709.6 L325.8,705.1 L325.8,714.1Z" fill="#007f00"/>
<path d="M320.3,711.1 L328.5,706.6 L328.5,715.6Z" fill="#007f00"/>
<path d="M323.0,712.4 L331.2,707.9 L331.2,716.9Z" fill="#007f00"/>
<path d="M325.7,713.6 L333.9,709.1 L333.9,718.1Z" fill="#007f00"/>
<path d="M328.4,714.7 L336.6,710.2 L336.6,719.2Z" fill="#007f00"/>
<path d="M331.1,715.6 L339.3,711.1 L339.3,720.2Z" fill="#007f00"/>
<path d="M333.8,716.6 L342.0,712.1 L342.0,721.1Z" fill="#007f00"/>
<path d="M336.5,717.4 L344.7,712.9 L344.7,721.9Z" fill="#007f00"/>
<path d="M339.2,718.1 L347.4,713.6 L347.4,722.6Z" fill="#007f00"/>
<path d="M341.9,718.8 L350.1,714.2 L350.1,723.3Z" fill="#007f00"/>
<path d="M344.6,719.3 L352.8,714.8 L352.8,723.8Z" fill="#007f00"/>
<path d="M347.3,719.9 L355.5,715.4 L355.5,724.4Z" fill="#007f00"/>
<path d="M350.0,720.3 L358.2,715.8 L358.2,724.9Z" fill="#007f00"/>
<path d="M352.7,720.8 L360.9,716.3 L360.9,725.3Z" fill="#007f00"/>
<path d="M355.4,721.2 L363.6,716.7 L363.6,725.7Z" fill="#007f00"/>
<path d="M358.1,721.6 L366.3,717.1 L366.3,726.1Z" fill="#007f00"/>
<path d="M360.8,722.0 L369.0,717.5 L369.0,726.5Z" fill="#007f00"/>
<path d="M363.5,722.4 L371.7,717.9 L371.7,726.9Z" fill="#007f00"/>
<path d="M366.2,722.7 L374.4,718.2 L374.4,727.3Z" fill="#007f00"/>
<path d="M368.9,723.1 L377.1,718.6 L377.1,727.6Z" fill="#007f00"/>
<path d="M371.6,723.4 L379.8,718.9 L379.8,727.9Z" fill="#007f00"/>
<path d="M374.3,723.7 L382.5,719.1 L382.5,728.2Z" fill="#007f00"/>
<path d="M377.0,723.9 L385.2,719.4 L385.2,728.4Z" fill="#007f00"/>
<path d="M379.7,724.1 L387.9,719.6 L387.9,728.6Z" fill="#007f00"/>
<path d="M382.4,724.3 L390.6,719.8 L390.6,728.9Z" fill="#007f00"/>
<path d="M385.1,724.5 L393.3,720.0 L393.3,729.1Z" fill="#007f00"/>
<path d="M387.8,724.7 L396.0,720.2 L396.0,729.2Z" fill="#007f00"/>
<path d="M390.5,724.9 L398.7,720.4 L398.7,729.4Z" fill="#007f00"/>
<path d="M393.2,725.1 L401.4,720.6 L401.4,729.6Z" fill="#007f00"/>
<path d="M395.9,725.2 L404.1,720.7 L404.1,729.7Z" fill="#007f00"/>
<path d="M398.6,725.4 L406.8,720.9 L406.8,729.9Z" fill="#007f00"/>
<path d="M401.3,725.6 L409.5,721.0 L409.5,730.1Z" fill="#007f00"/>
<path d="M404.0,725.7 L412.2,721.2 L412.2,730.2Z" fill="#007f00"/>
<path d="M406.7,725.9 L414.9,721.4 L414.9,730.4Z" fill="#007f00"/>
<path d="M409.4,726.0 L417.6,721.5 L417.6,730.5Z" fill="#007f00"/>
<path d="M412.1,726.2 L420.3,721.7 L420.3,730.7Z" fill="#007f00"/>
<path d="M414.8,726.4 L423.0,721.9 L423.0,730.9Z" fill="#007f00"/>
<path d="M417.5,726.6 L425.7,722.1 L425.7,731.1Z" fill="#007f00"/>
<path d="M121.0,527.3 L122.6,527.4 L124.3,527.4 L125.9,527.4 L127.6,527.4 L129.2,527.4 L130.9,527.4 L132.5,527.5 L134.2,527.6 L135.8,527.7 L137.4,527.8 L139.1,528.1 L140.7,528.4 L142.4,528.8 L144.1,529.4 L145.8,530.0 L147.6,530.6 L149.3,531.4 L151.0,532.1 L152.7,532.9 L154.4,533.7 L156.1,534.5 L157.8,535.2 L159.5,535.9 L161.2,536.6 L162.9,537.3 L164.6,537.9 L166.4,538.6 L168.1,539.3 L169.8,540.0 L171.6,540.7 L173.3,541.3 L175.0,541.9 L176.7,542.5 L178.4,543.0 L180.1,543.4 L181.7,543.7 L183.1,543.9 L184.6,544.2 L186.0,544.4 L187.4,544.6 L188.9,544.7 L190.3,544.8 L191.7,544.8 L193.0,544.8 L194.4,544.7 L195.6,544.4 L196.8,544.1 L198.0,543.7 L199.1,543.2 L200.1,542.5 L201.1,541.8 L202.0,541.0 L202.9,540.2 L203.8,539.2 L204.6,538.2 L205.4,537.1 L206.2,536.0 L206.9,534.9 L207.7,533.7 L208.4,532.5 L209.3,530.9 L210.1,529.1 L210.9,527.3 L211.6,525.4 L212.3,523.4 L213.0,521.3 L213.6,519.2 L214.2,517.0 L214.8,514.8 L215.4,512.5 L216.0,510.3 L216.6,508.0 L217.3,505.2 L218.0,502.2 L218.7,499.0 L219.4,495.8 L220.0,492.5 L220.6,489.2 L221.3,485.9 L221.9,482.7 L222.6,479.6 L223.3,476.5 L224.0,473.7 L224.8,471.0 L225.4,469.0 L226.0,467.0 L226.5,464.8 L227.1,462.7 L227.7,460.7 L228.3,458.7 L229.0,456.9 L229.6,455.2 L230.4,453.8 L231.2,452.7 L232.0,451.9 L233.0,451.5 L234.1,451.5 L235.3,451.9 L236.6,452.7 L237.9,453.8 L239.3,455.1 L240.8,456.6 L242.2,458.3 L243.7,460.1 L245.2,461.9 L246.6,463.7 L248.0,465.4 L249.3,467.0 L250.8,468.8 L252.2,470.6 L253.6,472.4 L255.0,474.3 L256.4,476.3 L257.8,478.3 L259.2,480.4 L260.5,482.5 L261.9,484.6 L263.2,486.9 L264.4,489.2 L265.7,491.5 L267.2,494.5 L268.7,497.6 L270.2,500.8 L271.7,504.1 L273.1,507.4 L274.5,510.9 L275.9,514.4 L277.2,518.0 L278.5,521.6 L279.7,525.2 L280.9,528.9 L282.0,532.5 L283.1,536.5 L284.2,540.6 L285.2,544.9 L286.1,549.2 L287.0,553.6 L287.8,557.9 L288.6,562.3 L289.3,566.6 L290.0,570.9 L290.7,575.0 L291.4,579.1 L292.0,583.0 L292.5,586.1 L292.9,589.2 L293.3,592.2 L293.7,595.2 L294.0,598.1 L294.3,601.0 L294.7,603.8 L295.0,606.7 L295.3,609.4 L295.6,612.2 L296.0,615.0 L296.4,617.7 L296.8,620.1 L297.1,622.5 L297.5,624.9 L297.9,627.3 L298.3,629.6 L298.7,631.9 L299.1,634.2 L299.5,636.5 L299.9,638.8 L300.4,641.1 L300.8,643.3 L301.3,645.6 L301.8,647.8 L302.3,650.1 L302.7,652.3 L303.2,654.6 L303.7,656.8 L304.3,659.1 L304.8,661.3 L305.4,663.4 L306.0,665.6 L306.6,667.7 L307.3,669.8 L308.0,671.8 L308.7,673.6 L309.4,675.3 L310.0,677.0 L310.8,678.7 L311.5,680.4 L312.3,682.0 L313.1,683.7 L313.9,685.3 L314.8,686.8 L315.7,688.4 L316.7,690.0 L317.7,691.5 L318.8,693.1 L320.0,694.8 L321.2,696.5 L322.5,698.1 L323.8,699.8 L325.1,701.4 L326.5,702.9 L327.9,704.4 L329.4,705.9 L330.9,707.2 L332.4,708.4 L334.0,709.5 L335.5,710.4 L337.0,711.2 L338.5,711.9 L340.1,712.5 L341.7,713.1 L343.4,713.5 L345.0,714.0 L346.8,714.4 L348.5,714.8 L350.3,715.2 L352.1,715.6 L354.0,716.0 L356.4,716.5 L358.9,717.0 L361.5,717.4 L364.2,717.7 L366.9,718.1 L369.6,718.4 L372.4,718.7 L375.3,719.0 L378.1,719.3 L380.9,719.6 L383.8,719.9 L386.6,720.2 L389.6,720.6 L392.7,720.9 L395.8,721.3 L398.9,721.6 L402.0,721.9 L405.1,722.3 L408.3,722.6 L411.4,722.9 L414.6,723.3 L417.7,723.6 L420.9,724.0 L424.0,724.3" fill="none" stroke="#ff8000" stroke-width="3.2" stroke-linejoin="round"/>
<path d="M125.9,527.3 L117.7,522.8 L117.7,531.8Z" fill="#ff8000"/>
<path d="M128.6,527.4 L120.4,522.9 L120.4,531.9Z" fill="#ff8000"/>
<path d="M131.3,527.4 L123.1,522.9 L123.1,531.9Z" fill="#ff8000"/>
<path d="M134.0,527.4 L125.8,522.9 L125.8,531.9Z" fill="#ff8000"/>
<path d="M136.7,527.5 L128.5,523.0 L128.5,532.0Z" fill="#ff8000"/>
<path d="M139.4,527.6 L131.2,523.1 L131.2,532.1Z" fill="#ff8000"/>
<path d="M142.1,527.8 L133.9,523.3 L133.9,532.3Z" fill="#ff8000"/>
<path d="M144.8,528.2 L136.6,523.7 L136.6,532.7Z" fill="#ff8000"/>
<path d="M147.5,528.9 L139.3,524.4 L139.3,533.4Z" fill="#ff8000"/>
<path d="M150.2,529.8 L142.0,525.3 L142.0,534.3Z" fill="#ff8000"/>
<path d="M152.9,530.8 L144.7,526.3 L144.7,535.3Z" fill="#ff8000"/>
<path d="M155.6,532.0 L147.4,527.5 L147.4,536.5Z" fill="#ff8000"/>
<path d="M158.3,533.2 L150.1,528.7 L150.1,537.7Z" fill="#ff8000"/>
<path d="M161.0,534.5 L152.8,530.0 L152.8,539.0Z" fill="#ff8000"/>
<path d="M163.7,535.6 L155.5,531.1 L155.5,540.2Z" fill="#ff8000"/>
<path d="M166.4,536.7 L158.2,532.2 L158.2,541.2Z" fill="#ff8000"/>
<path d="M169.1,537.8 L160.9,533.3 L160.9,542.3Z" fill="#ff8000"/>
<path d="M171.8,538.8 L163.6,534.3 L163.6,543.4Z" fill="#ff8000"/>
<path d="M174.5,539.9 L166.3,535.4 L166.3,544.4Z" fill="#ff8000"/>
<path d="M177.2,541.0 L169.0,536.5 L169.0,545.5Z" fill="#ff8000"/>
<path d="M179.9,541.9 L171.7,537.4 L171.7,546.4Z" fill="#ff8000"/>
<path d="M182.6,542.8 L174.4,538.3 L174.4,547.3Z" fill="#ff8000"/>
<path d="M185.3,543.5 L177.1,538.9 L177.1,548.0Z" fill="#ff8000"/>
<path d="M188.0,543.9 L179.8,539.4 L179.8,548.4Z" fill="#ff8000"/>
<path d="M190.7,544.3 L182.5,539.8 L182.5,548.9Z" fill="#ff8000"/>
<path d="M193.4,544.7 L185.2,540.2 L185.2,549.2Z" fill="#ff8000"/>
<path d="M196.1,544.8 L187.9,540.3 L187.9,549.3Z" fill="#ff8000"/>
<path d="M198.8,544.7 L190.6,540.2 L190.6,549.2Z" fill="#ff8000"/>
<path d="M201.5,544.2 L193.3,539.7 L193.3,548.7Z" fill="#ff8000"/>
<path d="M204.2,543.0 L196.0,538.5 L196.0,547.5Z" fill="#ff8000"/>
<path d="M206.9,541.0 L198.7,536.5 L198.7,545.5Z" fill="#ff8000"/>
<path d="M209.6,538.1 L201.4,533.5 L201.4,542.6Z" fill="#ff8000"/>
<path d="M212.3,534.1 L204.1,529.6 L204.1,538.7Z" fill="#ff8000"/>
<path d="M215.0,529.2 L206.8,524.7 L206.8,533.7Z" fill="#ff8000"/>
<path d="M217.7,521.8 L209.5,517.3 L209.5,526.3Z" fill="#ff8000"/>
<path d="M220.4,512.1 L212.2,507.6 L212.2,516.6Z" fill="#ff8000"/>
<path d="M223.1,501.4 L214.9,496.9 L214.9,505.9Z" fill="#ff8000"/>
<path d="M225.8,487.8 L217.6,483.3 L217.6,492.3Z" fill="#ff8000"/>
<path d="M228.5,475.2 L220.3,470.7 L220.3,479.7Z" fill="#ff8000"/>
<path d="M231.2,465.8 L223.0,461.3 L223.0,470.3Z" fill="#ff8000"/>
<path d="M233.9,456.8 L225.7,452.3 L225.7,461.3Z" fill="#ff8000"/>
<path d="M236.6,452.2 L228.4,447.7 L228.4,456.7Z" fill="#ff8000"/>
<path d="M239.3,451.6 L231.1,447.1 L231.1,456.1Z" fill="#ff8000"/>
<path d="M242.0,453.1 L233.8,448.6 L233.8,457.6Z" fill="#ff8000"/>
<path d="M244.7,455.6 L236.5,451.1 L236.5,460.1Z" fill="#ff8000"/>
<path d="M247.4,458.6 L239.2,454.1 L239.2,463.1Z" fill="#ff8000"/>
<path d="M250.1,461.9 L241.9,457.4 L241.9,466.4Z" fill="#ff8000"/>
<path d="M252.8,465.3 L244.6,460.8 L244.6,469.8Z" fill="#ff8000"/>
<path d="M255.5,468.6 L247.3,464.1 L247.3,473.1Z" fill="#ff8000"/>
<path d="M258.2,472.0 L250.0,467.5 L250.0,476.5Z" fill="#ff8000"/>
<path d="M260.9,475.7 L252.7,471.1 L252.7,480.2Z" fill="#ff8000"/>
<path d="M263.6,479.6 L255.4,475.1 L255.4,484.1Z" fill="#ff8000"/>
<path d="M266.3,483.9 L258.1,479.4 L258.1,488.4Z" fill="#ff8000"/>
<path d="M269.0,488.5 L260.8,484.0 L260.8,493.1Z" fill="#ff8000"/>
<path d="M271.7,493.6 L263.5,489.1 L263.5,498.1Z" fill="#ff8000"/>
<path d="M274.4,499.2 L266.2,494.7 L266.2,503.7Z" fill="#ff8000"/>
<path d="M277.1,505.2 L268.9,500.7 L268.9,509.8Z" fill="#ff8000"/>
<path d="M279.8,511.8 L271.6,507.3 L271.6,516.3Z" fill="#ff8000"/>
<path d="M282.5,519.0 L274.3,514.5 L274.3,523.5Z" fill="#ff8000"/>
<path d="M285.2,527.0 L277.0,522.5 L277.0,531.5Z" fill="#ff8000"/>
<path d="M287.9,536.0 L279.7,531.5 L279.7,540.6Z" fill="#ff8000"/>
<path d="M290.6,547.3 L282.4,542.8 L282.4,551.8Z" fill="#ff8000"/>
<path d="M293.3,561.2 L285.1,556.7 L285.1,565.7Z" fill="#ff8000"/>
<path d="M296.0,577.4 L287.8,572.9 L287.8,581.9Z" fill="#ff8000"/>
<path d="M298.7,596.2 L290.5,591.7 L290.5,600.7Z" fill="#ff8000"/>
<path d="M301.4,618.4 L293.2,613.9 L293.2,622.9Z" fill="#ff8000"/>
<path d="M304.1,634.9 L295.9,630.4 L295.9,639.4Z" fill="#ff8000"/>
<path d="M306.8,648.4 L298.6,643.9 L298.6,652.9Z" fill="#ff8000"/>
<path d="M309.5,660.4 L301.3,655.9 L301.3,664.9Z" fill="#ff8000"/>
<path d="M312.2,669.8 L304.0,665.3 L304.0,674.3Z" fill="#ff8000"/>
<path d="M314.9,676.9 L306.7,672.4 L306.7,681.4Z" fill="#ff8000"/>
<path d="M317.6,682.9 L309.4,678.4 L309.4,687.4Z" fill="#ff8000"/>
<path d="M320.3,687.9 L312.1,683.4 L312.1,692.4Z" fill="#ff8000"/>
<path d="M323.0,692.1 L314.8,687.6 L314.8,696.6Z" fill="#ff8000"/>
<path d="M325.7,695.9 L317.5,691.4 L317.5,700.4Z" fill="#ff8000"/>
<path d="M328.4,699.4 L320.2,694.9 L320.2,703.9Z" fill="#ff8000"/>
<path d="M331.1,702.6 L322.9,698.1 L322.9,707.1Z" fill="#ff8000"/>
<path d="M333.8,705.4 L325.6,700.9 L325.6,709.9Z" fill="#ff8000"/>
<path d="M336.5,707.8 L328.3,703.3 L328.3,712.3Z" fill="#ff8000"/>
<path d="M339.2,709.7 L331.0,705.2 L331.0,714.2Z" fill="#ff8000"/>
<path d="M341.9,711.2 L333.7,706.7 L333.7,715.7Z" fill="#ff8000"/>
<path d="M344.6,712.3 L336.4,707.8 L336.4,716.9Z" fill="#ff8000"/>
<path d="M347.3,713.3 L339.1,708.7 L339.1,717.8Z" fill="#ff8000"/>
<path d="M350.0,714.0 L341.8,709.5 L341.8,718.5Z" fill="#ff8000"/>
<path d="M352.7,714.6 L344.5,710.1 L344.5,719.2Z" fill="#ff8000"/>
<path d="M355.4,715.2 L347.2,710.7 L347.2,719.7Z" fill="#ff8000"/>
<path d="M358.1,715.8 L349.9,711.3 L349.9,720.3Z" fill="#ff8000"/>
<path d="M360.8,716.4 L352.6,711.9 L352.6,720.9Z" fill="#ff8000"/>
<path d="M363.5,716.9 L355.3,712.4 L355.3,721.4Z" fill="#ff8000"/>
<path d="M366.2,717.3 L358.0,712.8 L358.0,721.8Z" fill="#ff8000"/>
<path d="M368.9,717.7 L360.7,713.2 L360.7,722.2Z" fill="#ff8000"/>
<path d="M371.6,718.1 L363.4,713.5 L363.4,722.6Z" fill="#ff8000"/>
<path d="M374.3,718.4 L366.1,713.9 L366.1,722.9Z" fill="#ff8000"/>
<path d="M377.0,718.7 L368.8,714.2 L368.8,723.2Z" fill="#ff8000"/>
<path d="M379.7,718.9 L371.5,714.4 L371.5,723.5Z" fill="#ff8000"/>
<path d="M382.4,719.2 L374.2,714.7 L374.2,723.7Z" fill="#ff8000"/>
<path d="M385.1,719.5 L376.9,715.0 L376.9,724.0Z" fill="#ff8000"/>
<path d="M387.8,719.8 L379.6,715.3 L379.6,724.3Z" fill="#ff8000"/>
<path d="M390.5,720.1 L382.3,715.6 L382.3,724.6Z" fill="#ff8000"/>
<path d="M393.2,720.4 L385.0,715.9 L385.0,724.9Z" fill="#ff8000"/>
<path d="M395.9,720.7 L387.7,716.2 L387.7,725.2Z" fill="#ff8000"/>
<path d="M398.6,721.0 L390.4,716.5 L390.4,725.5Z" fill="#ff8000"/>
<path d="M401.3,721.3 L393.1,716.8 L393.1,725.8Z" fill="#ff8000"/>
<path d="M404.0,721.6 L395.8,717.1 L395.8,726.1Z" fill="#ff8000"/>
<path d="M406.7,721.9 L398.5,717.4 L398.5,726.4Z" fill="#ff8000"/>
<path d="M409.4,722.2 L401.2,717.7 L401.2,726.7Z" fill="#ff8000"/>
<path d="M412.1,722.5 L403.9,718.0 L403.9,727.0Z" fill="#ff8000"/>
<path d="M414.8,722.8 L406.6,718.3 L406.6,727.3Z" fill="#ff8000"/>
<path d="M417.5,723.1 L409.3,718.6 L409.3,727.6Z" fill="#ff8000"/>
<path d="M420.2,723.4 L412.0,718.9 L412.0,727.9Z" fill="#ff8000"/>
<path d="M422.9,723.6 L414.7,719.1 L414.7,728.2Z" fill="#ff8000"/>
<path d="M425.6,723.9 L417.4,719.4 L417.4,728.5Z" fill="#ff8000"/>
<path d="M428.3,724.2 L420.1,719.7 L420.1,728.7Z" fill="#ff8000"/>
<path d="M372.75,428.75H402.75" stroke="#1eff1e" stroke-width="2.4"/>
<rect x="383.9" y="424.9" width="7.8" height="7.8" fill="#1eff1e"/>
<text x="407.75" y="434.55" style="font-family:'Liberation Sans',sans-serif;font-size:15.5px;font-weight:normal" text-anchor="start" fill="#000" textLength="62" lengthAdjust="spacingAndGlyphs" stroke="#000" stroke-width="0.45">D=20nm</text>
<path d="M372.75,451.5H402.75" stroke="#0000ff" stroke-width="2.4"/>
<circle cx="387.8" cy="451.5" r="3.9" fill="#0000ff"/>
<text x="407.75" y="457.3" style="font-family:'Liberation Sans',sans-serif;font-size:15.5px;font-weight:normal" text-anchor="start" fill="#000" textLength="62" lengthAdjust="spacingAndGlyphs" stroke="#000" stroke-width="0.45">D=24nm</text>
<path d="M372.75,474.75H402.75" stroke="#ff00ff" stroke-width="2.4"/>
<path d="M387.8,470.1 L392.0,477.9 L383.5,477.9Z" fill="#ff00ff"/>
<text x="407.75" y="480.55" style="font-family:'Liberation Sans',sans-serif;font-size:15.5px;font-weight:normal" text-anchor="start" fill="#000" textLength="62" lengthAdjust="spacingAndGlyphs" stroke="#000" stroke-width="0.45">D=28nm</text>
<path d="M372.75,498H402.75" stroke="#ff0000" stroke-width="2.4"/>
<path d="M387.8,502.7 L392.0,494.9 L383.5,494.9Z" fill="#ff0000"/>
<text x="407.75" y="503.8" style="font-family:'Liberation Sans',sans-serif;font-size:15.5px;font-weight:normal" text-anchor="start" fill="#000" textLength="62" lengthAdjust="spacingAndGlyphs" stroke="#000" stroke-width="0.45">D=30nm</text>
<path d="M372.75,521H402.75" stroke="#007f00" stroke-width="2.4"/>
<path d="M383.1,521.0 L390.9,516.7 L390.9,525.3Z" fill="#007f00"/>
<text x="407.75" y="526.8" style="font-family:'Liberation Sans',sans-serif;font-size:15.5px;font-weight:normal" text-anchor="start" fill="#000" textLength="62" lengthAdjust="spacingAndGlyphs" stroke="#000" stroke-width="0.45">D=36nm</text>
<path d="M372.75,545H402.75" stroke="#ff8000" stroke-width="2.4"/>
<path d="M392.4,545.0 L384.6,540.7 L384.6,549.3Z" fill="#ff8000"/>
<text x="407.75" y="550.8" style="font-family:'Liberation Sans',sans-serif;font-size:15.5px;font-weight:normal" text-anchor="start" fill="#000" textLength="62" lengthAdjust="spacingAndGlyphs" stroke="#000" stroke-width="0.45">D=40nm</text>
<rect x="564.5" y="406.2" width="385.0" height="329.59999999999997" fill="none" stroke="#000" stroke-width="3"/>
<path d="M564.5,735.8H570.5M564.5,705.8H568.0M564.5,675.8H570.5M564.5,645.8H568.0M564.5,615.8H570.5M564.5,585.8H568.0M564.5,555.8H570.5M564.5,525.8H568.0M564.5,495.8H570.5M564.5,465.8H568.0M564.5,435.8H570.5M563.5,735.8V729.8M591.1,735.8V732.3M618.6,735.8V729.8M646.2,735.8V732.3M673.8,735.8V729.8M701.4,735.8V732.3M728.9,735.8V729.8M756.5,735.8V732.3M784.1,735.8V729.8M811.6,735.8V732.3M839.2,735.8V729.8M866.8,735.8V732.3M894.3,735.8V729.8M921.9,735.8V732.3M949.5,735.8V729.8" stroke="#000" stroke-width="2"/>
<text x="558.5" y="740.95" style="font-family:'Liberation Sans',sans-serif;font-size:14px;font-weight:bold" text-anchor="end" fill="#000" textLength="23" lengthAdjust="spacingAndGlyphs">0.0</text>
<text x="558.5" y="680.95" style="font-family:'Liberation Sans',sans-serif;font-size:14px;font-weight:bold" text-anchor="end" fill="#000" textLength="23" lengthAdjust="spacingAndGlyphs">0.1</text>
<text x="558.5" y="620.95" style="font-family:'Liberation Sans',sans-serif;font-size:14px;font-weight:bold" text-anchor="end" fill="#000" textLength="23" lengthAdjust="spacingAndGlyphs">0.2</text>
<text x="558.5" y="560.95" style="font-family:'Liberation Sans',sans-serif;font-size:14px;font-weight:bold" text-anchor="end" fill="#000" textLength="23" lengthAdjust="spacingAndGlyphs">0.3</text>
<text x="558.5" y="500.95" style="font-family:'Liberation Sans',sans-serif;font-size:14px;font-weight:bold" text-anchor="end" fill="#000" textLength="23" lengthAdjust="spacingAndGlyphs">0.4</text>
<text x="558.5" y="440.95" style="font-family:'Liberation Sans',sans-serif;font-size:14px;font-weight:bold" text-anchor="end" fill="#000" textLength="23" lengthAdjust="spacingAndGlyphs">0.5</text>
<text x="563.5" y="757.4" style="font-family:'Liberation Sans',sans-serif;font-size:16px;font-weight:bold" text-anchor="middle" fill="#000" textLength="29" lengthAdjust="spacingAndGlyphs">300</text>
<text x="618.64" y="757.4" style="font-family:'Liberation Sans',sans-serif;font-size:16px;font-weight:bold" text-anchor="middle" fill="#000" textLength="29" lengthAdjust="spacingAndGlyphs">400</text>
<text x="673.78" y="757.4" style="font-family:'Liberation Sans',sans-serif;font-size:16px;font-weight:bold" text-anchor="middle" fill="#000" textLength="29" lengthAdjust="spacingAndGlyphs">500</text>
<text x="728.92" y="757.4" style="font-family:'Liberation Sans',sans-serif;font-size:16px;font-weight:bold" text-anchor="middle" fill="#000" textLength="29" lengthAdjust="spacingAndGlyphs">600</text>
<text x="784.06" y="757.4" style="font-family:'Liberation Sans',sans-serif;font-size:16px;font-weight:bold" text-anchor="middle" fill="#000" textLength="29" lengthAdjust="spacingAndGlyphs">700</text>
<text x="839.2" y="757.4" style="font-family:'Liberation Sans',sans-serif;font-size:16px;font-weight:bold" text-anchor="middle" fill="#000" textLength="29" lengthAdjust="spacingAndGlyphs">800</text>
<text x="894.3399999999999" y="757.4" style="font-family:'Liberation Sans',sans-serif;font-size:16px;font-weight:bold" text-anchor="middle" fill="#000" textLength="29" lengthAdjust="spacingAndGlyphs">900</text>
<text x="949.48" y="757.4" style="font-family:'Liberation Sans',sans-serif;font-size:16px;font-weight:bold" text-anchor="middle" fill="#000" textLength="37" lengthAdjust="spacingAndGlyphs">1000</text>
<text x="669" y="791" style="font-family:'Liberation Sans',sans-serif;font-size:23px;font-weight:bold" text-anchor="start" fill="#000" textLength="175" lengthAdjust="spacingAndGlyphs">Wavelength (nm)</text>
<text x="529" y="576.8" style="font-family:'Liberation Sans',sans-serif;font-size:30px;font-weight:bold" text-anchor="middle" fill="#000" textLength="251" lengthAdjust="spacingAndGlyphs" transform="rotate(-90 529 576.8)">Absorption (a.u.)</text>
<text x="481.4" y="438" style="font-family:'Liberation Serif',serif;font-size:38px;font-weight:bold" text-anchor="start" fill="#000" textLength="46" lengthAdjust="spacingAndGlyphs">(d)</text>
<path d="M588.0,608.0 L589.4,608.3 L590.8,608.6 L592.2,608.8 L593.6,609.1 L595.1,609.4 L596.5,609.7 L597.9,609.9 L599.3,610.2 L600.7,610.5 L602.0,610.9 L603.3,611.2 L604.6,611.6 L605.7,612.0 L606.8,612.4 L607.8,612.8 L608.9,613.2 L609.9,613.7 L610.9,614.1 L611.9,614.6 L612.9,615.0 L613.9,615.4 L614.9,615.9 L615.9,616.2 L616.9,616.6 L617.9,616.9 L618.9,617.3 L620.0,617.6 L621.0,617.9 L622.1,618.2 L623.1,618.5 L624.2,618.8 L625.2,619.0 L626.2,619.2 L627.2,619.4 L628.2,619.5 L629.2,619.6 L630.1,619.6 L630.9,619.6 L631.8,619.6 L632.6,619.6 L633.5,619.5 L634.3,619.4 L635.1,619.3 L635.9,619.2 L636.7,619.0 L637.5,618.8 L638.3,618.6 L639.0,618.4 L639.7,618.2 L640.4,617.9 L641.0,617.6 L641.7,617.2 L642.3,616.9 L642.9,616.5 L643.5,616.1 L644.1,615.7 L644.7,615.3 L645.3,614.9 L645.9,614.5 L646.4,614.1 L646.9,613.7 L647.3,613.4 L647.8,613.0 L648.2,612.6 L648.6,612.2 L649.0,611.8 L649.4,611.4 L649.8,611.0 L650.2,610.6 L650.5,610.1 L650.9,609.7 L651.3,609.2 L651.7,608.6 L652.1,608.0 L652.5,607.3 L652.9,606.6 L653.3,605.9 L653.7,605.2 L654.0,604.4 L654.4,603.7 L654.8,603.0 L655.3,602.3 L655.7,601.6 L656.2,601.0 L656.8,600.4 L657.3,599.7 L657.9,599.1 L658.5,598.6 L659.2,598.0 L659.8,597.4 L660.5,596.8 L661.2,596.3 L661.9,595.7 L662.6,595.2 L663.3,594.6 L664.0,594.0 L664.8,593.3 L665.7,592.6 L666.5,591.8 L667.4,591.1 L668.3,590.3 L669.2,589.5 L670.1,588.8 L671.0,588.1 L671.9,587.4 L672.7,586.9 L673.5,586.4 L674.3,586.0 L674.7,585.8 L675.2,585.6 L675.6,585.4 L676.0,585.2 L676.5,585.0 L676.9,584.9 L677.3,584.8 L677.6,584.7 L678.0,584.7 L678.4,584.7 L678.7,584.8 L679.0,585.0 L679.5,585.5 L679.9,586.2 L680.3,587.1 L680.5,588.2 L680.8,589.4 L681.0,590.8 L681.2,592.3 L681.3,593.8 L681.5,595.4 L681.6,596.9 L681.8,598.5 L682.0,600.0 L682.3,602.2 L682.5,604.5 L682.7,607.0 L682.9,609.5 L683.0,612.1 L683.2,614.8 L683.4,617.5 L683.5,620.3 L683.8,623.0 L684.0,625.7 L684.3,628.4 L684.6,631.0 L685.0,633.6 L685.4,636.2 L685.9,638.8 L686.4,641.3 L686.9,643.9 L687.4,646.5 L687.9,649.1 L688.5,651.6 L689.1,654.2 L689.6,656.7 L690.2,659.2 L690.7,661.7 L691.2,664.0 L691.7,666.3 L692.1,668.7 L692.6,671.0 L693.0,673.3 L693.5,675.6 L694.0,677.9 L694.5,680.1 L695.1,682.3 L695.6,684.4 L696.2,686.4 L696.9,688.4 L697.5,690.0 L698.0,691.5 L698.6,693.0 L699.1,694.5 L699.7,695.9 L700.3,697.3 L700.9,698.7 L701.6,700.0 L702.4,701.3 L703.2,702.5 L704.0,703.7 L705.0,704.8 L706.1,705.9 L707.2,706.9 L708.5,707.9 L709.8,708.9 L711.1,709.7 L712.5,710.6 L714.0,711.4 L715.5,712.2 L717.0,712.9 L718.5,713.6 L720.0,714.3 L721.5,715.0 L723.1,715.7 L724.7,716.3 L726.4,716.9 L728.1,717.4 L729.8,717.9 L731.5,718.3 L733.3,718.8 L735.0,719.2 L736.8,719.7 L738.5,720.1 L740.3,720.6 L742.0,721.1 L743.7,721.6 L745.4,722.1 L747.1,722.6 L748.8,723.2 L750.5,723.7 L752.2,724.2 L754.0,724.7 L755.7,725.2 L757.4,725.8 L759.1,726.3 L760.8,726.8 L762.5,727.3 L764.2,727.8 L765.8,728.4 L767.4,728.9 L768.9,729.5 L770.5,730.0 L772.1,730.6 L773.7,731.1 L775.4,731.7 L777.1,732.2 L778.9,732.6 L780.9,733.0 L783.0,733.4 L786.7,733.9 L790.8,734.3 L795.2,734.6 L799.9,734.8 L804.8,734.9 L809.8,734.9 L814.9,735.0 L820.0,735.0 L825.2,735.0 L830.3,734.9 L835.2,735.0 L840.0,735.0 L844.6,735.1 L849.1,735.1 L853.6,735.1 L858.1,735.1 L862.6,735.1 L867.1,735.1 L871.6,735.1 L876.1,735.1 L880.5,735.0 L885.0,735.0 L889.5,735.0 L894.0,735.0" fill="none" stroke="#000000" stroke-width="2.8" stroke-linejoin="round"/>
<rect x="584.0" y="604.0" width="8.0" height="8.0" fill="#000000"/>
<rect x="586.8" y="604.6" width="8.0" height="8.0" fill="#000000"/>
<rect x="589.5" y="605.1" width="8.0" height="8.0" fill="#000000"/>
<rect x="592.2" y="605.6" width="8.0" height="8.0" fill="#000000"/>
<rect x="595.0" y="606.2" width="8.0" height="8.0" fill="#000000"/>
<rect x="597.8" y="606.8" width="8.0" height="8.0" fill="#000000"/>
<rect x="600.5" y="607.6" width="8.0" height="8.0" fill="#000000"/>
<rect x="603.2" y="608.5" width="8.0" height="8.0" fill="#000000"/>
<rect x="606.0" y="609.7" width="8.0" height="8.0" fill="#000000"/>
<rect x="608.8" y="611.0" width="8.0" height="8.0" fill="#000000"/>
<rect x="611.5" y="612.1" width="8.0" height="8.0" fill="#000000"/>
<rect x="614.2" y="613.0" width="8.0" height="8.0" fill="#000000"/>
<rect x="617.0" y="613.9" width="8.0" height="8.0" fill="#000000"/>
<rect x="619.8" y="614.7" width="8.0" height="8.0" fill="#000000"/>
<rect x="622.5" y="615.3" width="8.0" height="8.0" fill="#000000"/>
<rect x="625.2" y="615.6" width="8.0" height="8.0" fill="#000000"/>
<rect x="628.0" y="615.6" width="8.0" height="8.0" fill="#000000"/>
<rect x="630.8" y="615.4" width="8.0" height="8.0" fill="#000000"/>
<rect x="633.5" y="614.8" width="8.0" height="8.0" fill="#000000"/>
<rect x="636.2" y="613.9" width="8.0" height="8.0" fill="#000000"/>
<rect x="639.0" y="612.5" width="8.0" height="8.0" fill="#000000"/>
<rect x="641.8" y="610.6" width="8.0" height="8.0" fill="#000000"/>
<rect x="644.5" y="608.3" width="8.0" height="8.0" fill="#000000"/>
<rect x="647.2" y="605.3" width="8.0" height="8.0" fill="#000000"/>
<rect x="650.0" y="600.5" width="8.0" height="8.0" fill="#000000"/>
<rect x="652.8" y="596.4" width="8.0" height="8.0" fill="#000000"/>
<rect x="655.5" y="593.7" width="8.0" height="8.0" fill="#000000"/>
<rect x="658.2" y="591.4" width="8.0" height="8.0" fill="#000000"/>
<rect x="661.0" y="589.2" width="8.0" height="8.0" fill="#000000"/>
<rect x="663.8" y="586.8" width="8.0" height="8.0" fill="#000000"/>
<rect x="666.5" y="584.5" width="8.0" height="8.0" fill="#000000"/>
<rect x="669.2" y="582.6" width="8.0" height="8.0" fill="#000000"/>
<rect x="672.0" y="581.2" width="8.0" height="8.0" fill="#000000"/>
<rect x="674.8" y="580.9" width="8.0" height="8.0" fill="#000000"/>
<rect x="677.5" y="591.6" width="8.0" height="8.0" fill="#000000"/>
<rect x="680.2" y="624.2" width="8.0" height="8.0" fill="#000000"/>
<rect x="683.0" y="640.6" width="8.0" height="8.0" fill="#000000"/>
<rect x="685.8" y="653.3" width="8.0" height="8.0" fill="#000000"/>
<rect x="688.5" y="666.6" width="8.0" height="8.0" fill="#000000"/>
<rect x="691.2" y="679.0" width="8.0" height="8.0" fill="#000000"/>
<rect x="694.0" y="687.5" width="8.0" height="8.0" fill="#000000"/>
<rect x="696.8" y="694.3" width="8.0" height="8.0" fill="#000000"/>
<rect x="699.5" y="699.0" width="8.0" height="8.0" fill="#000000"/>
<rect x="702.2" y="702.1" width="8.0" height="8.0" fill="#000000"/>
<rect x="705.0" y="704.3" width="8.0" height="8.0" fill="#000000"/>
<rect x="707.8" y="706.1" width="8.0" height="8.0" fill="#000000"/>
<rect x="710.5" y="707.7" width="8.0" height="8.0" fill="#000000"/>
<rect x="713.2" y="709.0" width="8.0" height="8.0" fill="#000000"/>
<rect x="716.0" y="710.3" width="8.0" height="8.0" fill="#000000"/>
<rect x="718.8" y="711.5" width="8.0" height="8.0" fill="#000000"/>
<rect x="721.5" y="712.6" width="8.0" height="8.0" fill="#000000"/>
<rect x="724.2" y="713.4" width="8.0" height="8.0" fill="#000000"/>
<rect x="727.0" y="714.2" width="8.0" height="8.0" fill="#000000"/>
<rect x="729.8" y="714.9" width="8.0" height="8.0" fill="#000000"/>
<rect x="732.5" y="715.6" width="8.0" height="8.0" fill="#000000"/>
<rect x="735.2" y="716.3" width="8.0" height="8.0" fill="#000000"/>
<rect x="738.0" y="717.1" width="8.0" height="8.0" fill="#000000"/>
<rect x="740.8" y="717.9" width="8.0" height="8.0" fill="#000000"/>
<rect x="743.5" y="718.8" width="8.0" height="8.0" fill="#000000"/>
<rect x="746.2" y="719.6" width="8.0" height="8.0" fill="#000000"/>
<rect x="749.0" y="720.4" width="8.0" height="8.0" fill="#000000"/>
<rect x="751.8" y="721.3" width="8.0" height="8.0" fill="#000000"/>
<rect x="754.5" y="722.1" width="8.0" height="8.0" fill="#000000"/>
<rect x="757.2" y="722.9" width="8.0" height="8.0" fill="#000000"/>
<rect x="760.0" y="723.8" width="8.0" height="8.0" fill="#000000"/>
<rect x="762.8" y="724.7" width="8.0" height="8.0" fill="#000000"/>
<rect x="765.5" y="725.7" width="8.0" height="8.0" fill="#000000"/>
<rect x="768.2" y="726.7" width="8.0" height="8.0" fill="#000000"/>
<rect x="771.0" y="727.6" width="8.0" height="8.0" fill="#000000"/>
<rect x="773.7" y="728.3" width="8.0" height="8.0" fill="#000000"/>
<rect x="776.5" y="728.9" width="8.0" height="8.0" fill="#000000"/>
<rect x="779.2" y="729.4" width="8.0" height="8.0" fill="#000000"/>
<rect x="782.0" y="729.8" width="8.0" height="8.0" fill="#000000"/>
<rect x="784.8" y="730.1" width="8.0" height="8.0" fill="#000000"/>
<rect x="787.5" y="730.3" width="8.0" height="8.0" fill="#000000"/>
<rect x="790.2" y="730.5" width="8.0" height="8.0" fill="#000000"/>
<rect x="793.0" y="730.7" width="8.0" height="8.0" fill="#000000"/>
<rect x="795.8" y="730.8" width="8.0" height="8.0" fill="#000000"/>
<rect x="798.5" y="730.8" width="8.0" height="8.0" fill="#000000"/>
<rect x="801.2" y="730.9" width="8.0" height="8.0" fill="#000000"/>
<rect x="804.0" y="730.9" width="8.0" height="8.0" fill="#000000"/>
<rect x="806.8" y="731.0" width="8.0" height="8.0" fill="#000000"/>
<rect x="809.5" y="731.0" width="8.0" height="8.0" fill="#000000"/>
<rect x="812.2" y="731.0" width="8.0" height="8.0" fill="#000000"/>
<rect x="815.0" y="731.0" width="8.0" height="8.0" fill="#000000"/>
<rect x="817.8" y="731.0" width="8.0" height="8.0" fill="#000000"/>
<rect x="820.5" y="731.0" width="8.0" height="8.0" fill="#000000"/>
<rect x="823.2" y="731.0" width="8.0" height="8.0" fill="#000000"/>
<rect x="826.0" y="730.9" width="8.0" height="8.0" fill="#000000"/>
<rect x="828.7" y="730.9" width="8.0" height="8.0" fill="#000000"/>
<rect x="831.5" y="731.0" width="8.0" height="8.0" fill="#000000"/>
<rect x="834.2" y="731.0" width="8.0" height="8.0" fill="#000000"/>
<rect x="837.0" y="731.0" width="8.0" height="8.0" fill="#000000"/>
<rect x="839.8" y="731.0" width="8.0" height="8.0" fill="#000000"/>
<rect x="842.5" y="731.1" width="8.0" height="8.0" fill="#000000"/>
<rect x="845.2" y="731.1" width="8.0" height="8.0" fill="#000000"/>
<rect x="848.0" y="731.1" width="8.0" height="8.0" fill="#000000"/>
<rect x="850.8" y="731.1" width="8.0" height="8.0" fill="#000000"/>
<rect x="853.5" y="731.1" width="8.0" height="8.0" fill="#000000"/>
<rect x="856.2" y="731.1" width="8.0" height="8.0" fill="#000000"/>
<rect x="859.0" y="731.1" width="8.0" height="8.0" fill="#000000"/>
<rect x="861.8" y="731.1" width="8.0" height="8.0" fill="#000000"/>
<rect x="864.5" y="731.1" width="8.0" height="8.0" fill="#000000"/>
<rect x="867.2" y="731.1" width="8.0" height="8.0" fill="#000000"/>
<rect x="870.0" y="731.1" width="8.0" height="8.0" fill="#000000"/>
<rect x="872.8" y="731.1" width="8.0" height="8.0" fill="#000000"/>
<rect x="875.5" y="731.0" width="8.0" height="8.0" fill="#000000"/>
<rect x="878.2" y="731.0" width="8.0" height="8.0" fill="#000000"/>
<rect x="881.0" y="731.0" width="8.0" height="8.0" fill="#000000"/>
<rect x="883.8" y="731.0" width="8.0" height="8.0" fill="#000000"/>
<rect x="886.5" y="731.0" width="8.0" height="8.0" fill="#000000"/>
<rect x="889.2" y="731.0" width="8.0" height="8.0" fill="#000000"/>
<path d="M588.0,598.0 L590.4,598.4 L592.9,598.8 L595.3,599.3 L597.8,599.7 L600.2,600.1 L602.7,600.5 L605.1,600.9 L607.6,601.3 L610.0,601.8 L612.3,602.2 L614.6,602.6 L616.9,603.0 L618.9,603.4 L620.8,603.8 L622.8,604.2 L624.7,604.7 L626.6,605.1 L628.5,605.5 L630.4,605.9 L632.2,606.3 L634.0,606.6 L635.7,606.9 L637.4,607.1 L639.0,607.3 L640.2,607.4 L641.3,607.5 L642.4,607.5 L643.5,607.6 L644.5,607.6 L645.6,607.6 L646.6,607.6 L647.6,607.5 L648.5,607.4 L649.5,607.2 L650.4,607.0 L651.3,606.7 L652.1,606.4 L652.9,606.1 L653.7,605.7 L654.5,605.3 L655.2,604.9 L655.9,604.5 L656.6,604.0 L657.3,603.4 L658.0,602.8 L658.7,602.1 L659.3,601.4 L660.0,600.6 L661.0,599.1 L662.0,597.3 L663.0,595.3 L663.9,593.1 L664.8,590.7 L665.6,588.3 L666.4,585.7 L667.2,583.2 L668.0,580.7 L668.8,578.2 L669.5,575.9 L670.2,573.7 L670.8,571.8 L671.4,569.7 L671.9,567.4 L672.4,565.2 L672.9,562.9 L673.4,560.7 L673.9,558.7 L674.4,556.9 L674.8,555.4 L675.3,554.2 L675.8,553.5 L676.3,553.2 L676.8,553.5 L677.4,554.2 L677.9,555.4 L678.4,556.9 L679.0,558.7 L679.5,560.7 L680.1,562.9 L680.6,565.1 L681.1,567.4 L681.6,569.6 L682.1,571.8 L682.5,573.7 L682.9,575.8 L683.3,577.9 L683.7,580.0 L684.0,582.1 L684.4,584.3 L684.7,586.5 L685.0,588.7 L685.3,591.0 L685.6,593.2 L685.9,595.5 L686.2,597.9 L686.6,600.2 L687.1,602.9 L687.5,605.7 L688.0,608.5 L688.5,611.4 L689.0,614.2 L689.5,617.1 L690.0,620.1 L690.6,623.0 L691.1,626.0 L691.7,629.0 L692.2,632.0 L692.8,635.0 L693.4,638.3 L694.0,641.8 L694.7,645.4 L695.3,649.0 L695.9,652.6 L696.6,656.2 L697.3,659.8 L697.9,663.3 L698.7,666.7 L699.4,670.0 L700.2,673.1 L701.0,676.0 L701.6,678.0 L702.1,680.0 L702.6,681.9 L703.1,683.8 L703.7,685.6 L704.2,687.3 L704.8,689.0 L705.5,690.7 L706.2,692.3 L707.1,693.8 L708.1,695.2 L709.2,696.6 L710.6,698.0 L712.1,699.3 L713.8,700.4 L715.7,701.5 L717.6,702.5 L719.6,703.5 L721.7,704.4 L723.7,705.3 L725.8,706.2 L727.8,707.1 L729.8,708.0 L731.7,708.9 L733.4,709.8 L735.2,710.7 L736.9,711.5 L738.6,712.4 L740.3,713.2 L742.0,714.1 L743.7,714.9 L745.4,715.8 L747.1,716.6 L748.8,717.4 L750.5,718.3 L752.2,719.1 L753.9,720.0 L755.6,720.9 L757.3,721.8 L759.0,722.7 L760.7,723.6 L762.4,724.5 L764.1,725.4 L765.8,726.3 L767.5,727.1 L769.2,727.9 L771.0,728.6 L772.7,729.3 L774.4,729.9 L776.0,730.5 L777.6,731.0 L779.1,731.5 L780.7,732.0 L782.4,732.4 L784.0,732.8 L785.7,733.2 L787.4,733.6 L789.3,733.9 L791.2,734.2 L793.2,734.5 L796.4,734.8 L799.8,735.1 L803.5,735.2 L807.2,735.3 L811.1,735.3 L815.2,735.3 L819.3,735.3 L823.4,735.2 L827.6,735.1 L831.8,735.0 L835.9,735.0 L840.0,735.0 L844.4,735.0 L848.8,735.0 L853.2,735.0 L857.7,735.0 L862.2,735.0 L866.8,735.0 L871.3,735.0 L875.9,735.0 L880.4,735.0 L885.0,735.0 L889.5,735.0 L894.0,735.0" fill="none" stroke="#0000ff" stroke-width="2.8" stroke-linejoin="round"/>
<circle cx="588.0" cy="598.0" r="4.0" fill="#0000ff"/>
<circle cx="590.8" cy="598.5" r="4.0" fill="#0000ff"/>
<circle cx="593.5" cy="598.9" r="4.0" fill="#0000ff"/>
<circle cx="596.2" cy="599.4" r="4.0" fill="#0000ff"/>
<circle cx="599.0" cy="599.9" r="4.0" fill="#0000ff"/>
<circle cx="601.8" cy="600.3" r="4.0" fill="#0000ff"/>
<circle cx="604.5" cy="600.8" r="4.0" fill="#0000ff"/>
<circle cx="607.2" cy="601.3" r="4.0" fill="#0000ff"/>
<circle cx="610.0" cy="601.8" r="4.0" fill="#0000ff"/>
<circle cx="612.8" cy="602.3" r="4.0" fill="#0000ff"/>
<circle cx="615.5" cy="602.7" r="4.0" fill="#0000ff"/>
<circle cx="618.2" cy="603.3" r="4.0" fill="#0000ff"/>
<circle cx="621.0" cy="603.8" r="4.0" fill="#0000ff"/>
<circle cx="623.8" cy="604.4" r="4.0" fill="#0000ff"/>
<circle cx="626.5" cy="605.1" r="4.0" fill="#0000ff"/>
<circle cx="629.2" cy="605.7" r="4.0" fill="#0000ff"/>
<circle cx="632.0" cy="606.3" r="4.0" fill="#0000ff"/>
<circle cx="634.8" cy="606.8" r="4.0" fill="#0000ff"/>
<circle cx="637.5" cy="607.2" r="4.0" fill="#0000ff"/>
<circle cx="640.2" cy="607.4" r="4.0" fill="#0000ff"/>
<circle cx="643.0" cy="607.5" r="4.0" fill="#0000ff"/>
<circle cx="645.8" cy="607.6" r="4.0" fill="#0000ff"/>
<circle cx="648.5" cy="607.4" r="4.0" fill="#0000ff"/>
<circle cx="651.2" cy="606.7" r="4.0" fill="#0000ff"/>
<circle cx="654.0" cy="605.6" r="4.0" fill="#0000ff"/>
<circle cx="656.8" cy="603.9" r="4.0" fill="#0000ff"/>
<circle cx="659.5" cy="601.2" r="4.0" fill="#0000ff"/>
<circle cx="662.2" cy="596.9" r="4.0" fill="#0000ff"/>
<circle cx="665.0" cy="590.1" r="4.0" fill="#0000ff"/>
<circle cx="667.8" cy="581.5" r="4.0" fill="#0000ff"/>
<circle cx="670.5" cy="572.8" r="4.0" fill="#0000ff"/>
<circle cx="673.2" cy="561.4" r="4.0" fill="#0000ff"/>
<circle cx="676.0" cy="553.3" r="4.0" fill="#0000ff"/>
<circle cx="678.8" cy="557.8" r="4.0" fill="#0000ff"/>
<circle cx="681.5" cy="569.2" r="4.0" fill="#0000ff"/>
<circle cx="684.2" cy="583.5" r="4.0" fill="#0000ff"/>
<circle cx="687.0" cy="602.6" r="4.0" fill="#0000ff"/>
<circle cx="689.8" cy="618.4" r="4.0" fill="#0000ff"/>
<circle cx="692.5" cy="633.4" r="4.0" fill="#0000ff"/>
<circle cx="695.2" cy="648.7" r="4.0" fill="#0000ff"/>
<circle cx="698.0" cy="663.6" r="4.0" fill="#0000ff"/>
<circle cx="700.8" cy="675.1" r="4.0" fill="#0000ff"/>
<circle cx="703.5" cy="685.0" r="4.0" fill="#0000ff"/>
<circle cx="706.2" cy="692.3" r="4.0" fill="#0000ff"/>
<circle cx="709.0" cy="696.4" r="4.0" fill="#0000ff"/>
<circle cx="711.8" cy="699.0" r="4.0" fill="#0000ff"/>
<circle cx="714.5" cy="700.8" r="4.0" fill="#0000ff"/>
<circle cx="717.2" cy="702.3" r="4.0" fill="#0000ff"/>
<circle cx="720.0" cy="703.7" r="4.0" fill="#0000ff"/>
<circle cx="722.7" cy="704.9" r="4.0" fill="#0000ff"/>
<circle cx="725.5" cy="706.0" r="4.0" fill="#0000ff"/>
<circle cx="728.2" cy="707.2" r="4.0" fill="#0000ff"/>
<circle cx="731.0" cy="708.5" r="4.0" fill="#0000ff"/>
<circle cx="733.8" cy="710.0" r="4.0" fill="#0000ff"/>
<circle cx="736.5" cy="711.4" r="4.0" fill="#0000ff"/>
<circle cx="739.2" cy="712.7" r="4.0" fill="#0000ff"/>
<circle cx="742.0" cy="714.1" r="4.0" fill="#0000ff"/>
<circle cx="744.8" cy="715.4" r="4.0" fill="#0000ff"/>
<circle cx="747.5" cy="716.8" r="4.0" fill="#0000ff"/>
<circle cx="750.2" cy="718.1" r="4.0" fill="#0000ff"/>
<circle cx="753.0" cy="719.5" r="4.0" fill="#0000ff"/>
<circle cx="755.8" cy="720.9" r="4.0" fill="#0000ff"/>
<circle cx="758.5" cy="722.4" r="4.0" fill="#0000ff"/>
<circle cx="761.2" cy="723.9" r="4.0" fill="#0000ff"/>
<circle cx="764.0" cy="725.3" r="4.0" fill="#0000ff"/>
<circle cx="766.8" cy="726.7" r="4.0" fill="#0000ff"/>
<circle cx="769.5" cy="728.0" r="4.0" fill="#0000ff"/>
<circle cx="772.2" cy="729.1" r="4.0" fill="#0000ff"/>
<circle cx="775.0" cy="730.1" r="4.0" fill="#0000ff"/>
<circle cx="777.8" cy="731.1" r="4.0" fill="#0000ff"/>
<circle cx="780.5" cy="731.9" r="4.0" fill="#0000ff"/>
<circle cx="783.2" cy="732.7" r="4.0" fill="#0000ff"/>
<circle cx="786.0" cy="733.3" r="4.0" fill="#0000ff"/>
<circle cx="788.8" cy="733.8" r="4.0" fill="#0000ff"/>
<circle cx="791.5" cy="734.3" r="4.0" fill="#0000ff"/>
<circle cx="794.2" cy="734.6" r="4.0" fill="#0000ff"/>
<circle cx="797.0" cy="734.9" r="4.0" fill="#0000ff"/>
<circle cx="799.8" cy="735.1" r="4.0" fill="#0000ff"/>
<circle cx="802.5" cy="735.2" r="4.0" fill="#0000ff"/>
<circle cx="805.2" cy="735.3" r="4.0" fill="#0000ff"/>
<circle cx="808.0" cy="735.3" r="4.0" fill="#0000ff"/>
<circle cx="810.8" cy="735.3" r="4.0" fill="#0000ff"/>
<circle cx="813.5" cy="735.3" r="4.0" fill="#0000ff"/>
<circle cx="816.2" cy="735.3" r="4.0" fill="#0000ff"/>
<circle cx="819.0" cy="735.3" r="4.0" fill="#0000ff"/>
<circle cx="821.8" cy="735.2" r="4.0" fill="#0000ff"/>
<circle cx="824.5" cy="735.2" r="4.0" fill="#0000ff"/>
<circle cx="827.2" cy="735.1" r="4.0" fill="#0000ff"/>
<circle cx="830.0" cy="735.1" r="4.0" fill="#0000ff"/>
<circle cx="832.8" cy="735.0" r="4.0" fill="#0000ff"/>
<circle cx="835.5" cy="735.0" r="4.0" fill="#0000ff"/>
<circle cx="838.2" cy="735.0" r="4.0" fill="#0000ff"/>
<circle cx="841.0" cy="735.0" r="4.0" fill="#0000ff"/>
<circle cx="843.8" cy="735.0" r="4.0" fill="#0000ff"/>
<circle cx="846.5" cy="735.0" r="4.0" fill="#0000ff"/>
<circle cx="849.2" cy="735.0" r="4.0" fill="#0000ff"/>
<circle cx="852.0" cy="735.0" r="4.0" fill="#0000ff"/>
<circle cx="854.8" cy="735.0" r="4.0" fill="#0000ff"/>
<circle cx="857.5" cy="735.0" r="4.0" fill="#0000ff"/>
<circle cx="860.2" cy="735.0" r="4.0" fill="#0000ff"/>
<circle cx="863.0" cy="735.0" r="4.0" fill="#0000ff"/>
<circle cx="865.8" cy="735.0" r="4.0" fill="#0000ff"/>
<circle cx="868.5" cy="735.0" r="4.0" fill="#0000ff"/>
<circle cx="871.2" cy="735.0" r="4.0" fill="#0000ff"/>
<circle cx="874.0" cy="735.0" r="4.0" fill="#0000ff"/>
<circle cx="876.8" cy="735.0" r="4.0" fill="#0000ff"/>
<circle cx="879.5" cy="735.0" r="4.0" fill="#0000ff"/>
<circle cx="882.2" cy="735.0" r="4.0" fill="#0000ff"/>
<circle cx="885.0" cy="735.0" r="4.0" fill="#0000ff"/>
<circle cx="887.8" cy="735.0" r="4.0" fill="#0000ff"/>
<circle cx="890.5" cy="735.0" r="4.0" fill="#0000ff"/>
<circle cx="893.2" cy="735.0" r="4.0" fill="#0000ff"/>
<path d="M588.0,583.0 L590.8,583.2 L593.6,583.5 L596.4,583.7 L599.3,583.9 L602.2,584.1 L605.0,584.4 L607.8,584.6 L610.6,584.8 L613.3,585.1 L616.0,585.4 L618.5,585.7 L621.0,586.0 L622.9,586.3 L624.8,586.7 L626.6,587.2 L628.4,587.7 L630.2,588.2 L631.9,588.7 L633.6,589.2 L635.2,589.6 L636.8,589.9 L638.4,590.1 L640.0,590.1 L641.5,590.0 L642.8,589.8 L644.0,589.5 L645.3,589.1 L646.5,588.7 L647.7,588.2 L648.9,587.7 L650.1,587.1 L651.2,586.4 L652.2,585.7 L653.2,584.8 L654.1,584.0 L655.0,583.0 L655.9,581.7 L656.7,580.3 L657.4,578.7 L658.0,577.0 L658.5,575.3 L659.0,573.4 L659.4,571.5 L659.9,569.5 L660.3,567.5 L660.8,565.5 L661.4,563.4 L662.0,561.4 L662.9,558.8 L663.8,556.0 L664.8,553.2 L665.9,550.3 L666.9,547.3 L668.0,544.3 L669.1,541.3 L670.1,538.3 L671.2,535.3 L672.3,532.3 L673.3,529.4 L674.3,526.6 L675.2,523.9 L676.1,521.0 L677.0,517.9 L677.9,514.7 L678.8,511.5 L679.7,508.4 L680.5,505.5 L681.4,503.0 L682.2,500.9 L683.0,499.2 L683.8,498.2 L684.5,497.9 L685.4,498.6 L686.2,500.3 L687.0,502.9 L687.7,506.3 L688.4,510.4 L689.1,514.8 L689.7,519.6 L690.4,524.6 L691.0,529.6 L691.6,534.4 L692.1,538.9 L692.7,543.0 L693.2,546.9 L693.8,550.9 L694.2,554.9 L694.7,558.9 L695.1,562.9 L695.5,567.0 L695.9,571.0 L696.3,574.9 L696.7,578.8 L697.1,582.6 L697.5,586.4 L698.0,590.0 L698.4,593.0 L698.8,595.8 L699.2,598.7 L699.6,601.5 L700.0,604.2 L700.4,606.9 L700.8,609.6 L701.2,612.3 L701.6,614.9 L702.1,617.5 L702.5,620.2 L703.0,622.8 L703.4,625.3 L703.9,627.8 L704.3,630.3 L704.7,632.8 L705.1,635.2 L705.5,637.7 L706.0,640.1 L706.5,642.5 L707.1,644.8 L707.7,647.1 L708.4,649.3 L709.2,651.5 L710.0,653.4 L710.8,655.3 L711.7,657.1 L712.6,658.8 L713.5,660.6 L714.5,662.3 L715.6,663.9 L716.7,665.6 L717.8,667.2 L719.0,668.8 L720.2,670.4 L721.5,672.0 L722.9,673.7 L724.5,675.2 L726.1,676.8 L727.8,678.3 L729.6,679.8 L731.3,681.2 L733.1,682.7 L735.0,684.2 L736.8,685.7 L738.6,687.2 L740.3,688.8 L742.0,690.4 L743.8,692.2 L745.5,694.0 L747.2,696.0 L749.0,697.9 L750.7,699.9 L752.4,701.9 L754.1,703.9 L755.8,705.8 L757.5,707.7 L759.2,709.6 L760.8,711.3 L762.5,713.0 L763.9,714.4 L765.2,715.7 L766.5,717.1 L767.8,718.4 L769.1,719.6 L770.4,720.9 L771.7,722.1 L773.0,723.2 L774.4,724.3 L775.8,725.4 L777.3,726.4 L778.9,727.3 L780.7,728.2 L782.5,729.1 L784.3,729.8 L786.2,730.6 L788.2,731.2 L790.2,731.8 L792.2,732.3 L794.3,732.8 L796.5,733.3 L798.7,733.7 L801.0,734.1 L803.4,734.5 L806.7,734.9 L810.3,735.2 L814.0,735.4 L817.8,735.5 L821.8,735.5 L825.8,735.4 L829.9,735.4 L834.0,735.3 L838.1,735.2 L842.1,735.1 L846.1,735.0 L850.0,735.0 L853.7,735.0 L857.4,735.0 L861.1,735.0 L864.8,735.0 L868.4,735.0 L872.1,735.0 L875.7,735.0 L879.4,735.0 L883.0,735.0 L886.7,735.0 L890.3,735.0 L894.0,735.0" fill="none" stroke="#ff00ff" stroke-width="2.8" stroke-linejoin="round"/>
<path d="M588.0,578.2 L592.4,586.2 L583.6,586.2Z" fill="#ff00ff"/>
<path d="M590.8,578.4 L595.1,586.4 L586.4,586.4Z" fill="#ff00ff"/>
<path d="M593.5,578.7 L597.9,586.7 L589.1,586.7Z" fill="#ff00ff"/>
<path d="M596.2,578.9 L600.6,586.9 L591.9,586.9Z" fill="#ff00ff"/>
<path d="M599.0,579.1 L603.4,587.1 L594.6,587.1Z" fill="#ff00ff"/>
<path d="M601.8,579.3 L606.1,587.3 L597.4,587.3Z" fill="#ff00ff"/>
<path d="M604.5,579.5 L608.9,587.5 L600.1,587.5Z" fill="#ff00ff"/>
<path d="M607.2,579.7 L611.6,587.7 L602.9,587.7Z" fill="#ff00ff"/>
<path d="M610.0,580.0 L614.4,588.0 L605.6,588.0Z" fill="#ff00ff"/>
<path d="M612.8,580.2 L617.1,588.2 L608.4,588.2Z" fill="#ff00ff"/>
<path d="M615.5,580.5 L619.9,588.5 L611.1,588.5Z" fill="#ff00ff"/>
<path d="M618.2,580.8 L622.6,588.8 L613.9,588.8Z" fill="#ff00ff"/>
<path d="M621.0,581.2 L625.4,589.2 L616.6,589.2Z" fill="#ff00ff"/>
<path d="M623.8,581.7 L628.1,589.7 L619.4,589.7Z" fill="#ff00ff"/>
<path d="M626.5,582.4 L630.9,590.4 L622.1,590.4Z" fill="#ff00ff"/>
<path d="M629.2,583.2 L633.6,591.2 L624.9,591.2Z" fill="#ff00ff"/>
<path d="M632.0,584.0 L636.4,592.0 L627.6,592.0Z" fill="#ff00ff"/>
<path d="M634.8,584.7 L639.1,592.7 L630.4,592.7Z" fill="#ff00ff"/>
<path d="M637.5,585.2 L641.9,593.2 L633.1,593.2Z" fill="#ff00ff"/>
<path d="M640.2,585.3 L644.6,593.3 L635.9,593.3Z" fill="#ff00ff"/>
<path d="M643.0,584.9 L647.4,592.9 L638.6,592.9Z" fill="#ff00ff"/>
<path d="M645.8,584.2 L650.1,592.2 L641.4,592.2Z" fill="#ff00ff"/>
<path d="M648.5,583.1 L652.9,591.1 L644.1,591.1Z" fill="#ff00ff"/>
<path d="M651.2,581.5 L655.6,589.5 L646.9,589.5Z" fill="#ff00ff"/>
<path d="M654.0,579.3 L658.4,587.3 L649.6,587.3Z" fill="#ff00ff"/>
<path d="M656.8,575.5 L661.1,583.5 L652.4,583.5Z" fill="#ff00ff"/>
<path d="M659.5,566.4 L663.9,574.4 L655.1,574.4Z" fill="#ff00ff"/>
<path d="M662.2,555.9 L666.6,563.9 L657.9,563.9Z" fill="#ff00ff"/>
<path d="M665.0,547.9 L669.4,555.9 L660.6,555.9Z" fill="#ff00ff"/>
<path d="M667.8,540.2 L672.1,548.2 L663.4,548.2Z" fill="#ff00ff"/>
<path d="M670.5,532.5 L674.9,540.5 L666.1,540.5Z" fill="#ff00ff"/>
<path d="M673.2,524.8 L677.6,532.8 L668.9,532.8Z" fill="#ff00ff"/>
<path d="M676.0,516.5 L680.4,524.5 L671.6,524.5Z" fill="#ff00ff"/>
<path d="M678.8,506.8 L683.1,514.8 L674.4,514.8Z" fill="#ff00ff"/>
<path d="M681.5,497.8 L685.9,505.8 L677.1,505.8Z" fill="#ff00ff"/>
<path d="M684.2,493.1 L688.6,501.1 L679.9,501.1Z" fill="#ff00ff"/>
<path d="M687.0,498.3 L691.4,506.3 L682.6,506.3Z" fill="#ff00ff"/>
<path d="M689.8,515.0 L694.1,523.0 L685.4,523.0Z" fill="#ff00ff"/>
<path d="M692.5,536.8 L696.9,544.8 L688.1,544.8Z" fill="#ff00ff"/>
<path d="M695.2,559.7 L699.6,567.7 L690.9,567.7Z" fill="#ff00ff"/>
<path d="M698.0,585.2 L702.4,593.2 L693.6,593.2Z" fill="#ff00ff"/>
<path d="M700.8,604.6 L705.1,612.6 L696.4,612.6Z" fill="#ff00ff"/>
<path d="M703.5,620.8 L707.9,628.8 L699.1,628.8Z" fill="#ff00ff"/>
<path d="M706.3,636.5 L710.7,644.5 L701.9,644.5Z" fill="#ff00ff"/>
<path d="M709.0,646.2 L713.4,654.2 L704.6,654.2Z" fill="#ff00ff"/>
<path d="M711.8,652.4 L716.1,660.4 L707.4,660.4Z" fill="#ff00ff"/>
<path d="M714.5,657.4 L718.9,665.4 L710.1,665.4Z" fill="#ff00ff"/>
<path d="M717.2,661.6 L721.6,669.6 L712.9,669.6Z" fill="#ff00ff"/>
<path d="M720.0,665.3 L724.4,673.3 L715.6,673.3Z" fill="#ff00ff"/>
<path d="M722.8,668.6 L727.1,676.6 L718.4,676.6Z" fill="#ff00ff"/>
<path d="M725.5,671.4 L729.9,679.4 L721.1,679.4Z" fill="#ff00ff"/>
<path d="M728.2,673.9 L732.6,681.9 L723.9,681.9Z" fill="#ff00ff"/>
<path d="M731.0,676.2 L735.4,684.2 L726.6,684.2Z" fill="#ff00ff"/>
<path d="M733.8,678.4 L738.1,686.4 L729.4,686.4Z" fill="#ff00ff"/>
<path d="M736.5,680.7 L740.9,688.7 L732.1,688.7Z" fill="#ff00ff"/>
<path d="M739.2,683.0 L743.6,691.0 L734.9,691.0Z" fill="#ff00ff"/>
<path d="M742.0,685.6 L746.4,693.6 L737.6,693.6Z" fill="#ff00ff"/>
<path d="M744.8,688.4 L749.1,696.4 L740.4,696.4Z" fill="#ff00ff"/>
<path d="M747.5,691.5 L751.9,699.5 L743.1,699.5Z" fill="#ff00ff"/>
<path d="M750.2,694.6 L754.6,702.6 L745.9,702.6Z" fill="#ff00ff"/>
<path d="M753.0,697.8 L757.4,705.8 L748.6,705.8Z" fill="#ff00ff"/>
<path d="M755.8,700.9 L760.1,708.9 L751.4,708.9Z" fill="#ff00ff"/>
<path d="M758.5,704.0 L762.9,712.0 L754.1,712.0Z" fill="#ff00ff"/>
<path d="M761.2,706.9 L765.6,714.9 L756.9,714.9Z" fill="#ff00ff"/>
<path d="M764.0,709.7 L768.4,717.7 L759.6,717.7Z" fill="#ff00ff"/>
<path d="M766.8,712.5 L771.1,720.5 L762.4,720.5Z" fill="#ff00ff"/>
<path d="M769.5,715.2 L773.9,723.2 L765.1,723.2Z" fill="#ff00ff"/>
<path d="M772.2,717.8 L776.6,725.8 L767.9,725.8Z" fill="#ff00ff"/>
<path d="M775.0,720.0 L779.4,728.0 L770.6,728.0Z" fill="#ff00ff"/>
<path d="M777.8,721.8 L782.1,729.8 L773.4,729.8Z" fill="#ff00ff"/>
<path d="M780.5,723.3 L784.9,731.3 L776.1,731.3Z" fill="#ff00ff"/>
<path d="M783.2,724.6 L787.6,732.6 L778.9,732.6Z" fill="#ff00ff"/>
<path d="M786.0,725.7 L790.4,733.7 L781.6,733.7Z" fill="#ff00ff"/>
<path d="M788.8,726.6 L793.1,734.6 L784.4,734.6Z" fill="#ff00ff"/>
<path d="M791.5,727.4 L795.9,735.4 L787.1,735.4Z" fill="#ff00ff"/>
<path d="M794.2,728.0 L798.6,736.0 L789.9,736.0Z" fill="#ff00ff"/>
<path d="M797.0,728.6 L801.4,736.6 L792.6,736.6Z" fill="#ff00ff"/>
<path d="M799.8,729.1 L804.1,737.1 L795.4,737.1Z" fill="#ff00ff"/>
<path d="M802.5,729.6 L806.9,737.6 L798.1,737.6Z" fill="#ff00ff"/>
<path d="M805.2,729.9 L809.6,737.9 L800.9,737.9Z" fill="#ff00ff"/>
<path d="M808.0,730.2 L812.4,738.2 L803.6,738.2Z" fill="#ff00ff"/>
<path d="M810.8,730.4 L815.1,738.4 L806.4,738.4Z" fill="#ff00ff"/>
<path d="M813.5,730.6 L817.9,738.6 L809.1,738.6Z" fill="#ff00ff"/>
<path d="M816.2,730.6 L820.6,738.6 L811.9,738.6Z" fill="#ff00ff"/>
<path d="M819.0,730.7 L823.4,738.7 L814.6,738.7Z" fill="#ff00ff"/>
<path d="M821.8,730.7 L826.1,738.7 L817.4,738.7Z" fill="#ff00ff"/>
<path d="M824.5,730.7 L828.9,738.7 L820.1,738.7Z" fill="#ff00ff"/>
<path d="M827.2,730.6 L831.6,738.6 L822.9,738.6Z" fill="#ff00ff"/>
<path d="M830.0,730.6 L834.4,738.6 L825.6,738.6Z" fill="#ff00ff"/>
<path d="M832.8,730.5 L837.1,738.5 L828.4,738.5Z" fill="#ff00ff"/>
<path d="M835.5,730.4 L839.9,738.4 L831.1,738.4Z" fill="#ff00ff"/>
<path d="M838.2,730.4 L842.6,738.4 L833.9,738.4Z" fill="#ff00ff"/>
<path d="M841.0,730.3 L845.4,738.3 L836.6,738.3Z" fill="#ff00ff"/>
<path d="M843.8,730.2 L848.1,738.2 L839.4,738.2Z" fill="#ff00ff"/>
<path d="M846.5,730.2 L850.9,738.2 L842.1,738.2Z" fill="#ff00ff"/>
<path d="M849.2,730.2 L853.6,738.2 L844.9,738.2Z" fill="#ff00ff"/>
<path d="M852.0,730.2 L856.4,738.2 L847.6,738.2Z" fill="#ff00ff"/>
<path d="M854.8,730.2 L859.2,738.2 L850.4,738.2Z" fill="#ff00ff"/>
<path d="M857.5,730.2 L861.9,738.2 L853.1,738.2Z" fill="#ff00ff"/>
<path d="M860.2,730.2 L864.6,738.2 L855.9,738.2Z" fill="#ff00ff"/>
<path d="M863.0,730.2 L867.4,738.2 L858.6,738.2Z" fill="#ff00ff"/>
<path d="M865.8,730.2 L870.1,738.2 L861.4,738.2Z" fill="#ff00ff"/>
<path d="M868.5,730.2 L872.9,738.2 L864.1,738.2Z" fill="#ff00ff"/>
<path d="M871.3,730.2 L875.7,738.2 L866.9,738.2Z" fill="#ff00ff"/>
<path d="M874.0,730.2 L878.4,738.2 L869.6,738.2Z" fill="#ff00ff"/>
<path d="M876.8,730.2 L881.2,738.2 L872.4,738.2Z" fill="#ff00ff"/>
<path d="M879.5,730.2 L883.9,738.2 L875.1,738.2Z" fill="#ff00ff"/>
<path d="M882.2,730.2 L886.6,738.2 L877.9,738.2Z" fill="#ff00ff"/>
<path d="M885.0,730.2 L889.4,738.2 L880.6,738.2Z" fill="#ff00ff"/>
<path d="M887.8,730.2 L892.1,738.2 L883.4,738.2Z" fill="#ff00ff"/>
<path d="M890.5,730.2 L894.9,738.2 L886.1,738.2Z" fill="#ff00ff"/>
<path d="M893.2,730.2 L897.6,738.2 L888.9,738.2Z" fill="#ff00ff"/>
<path d="M588.0,571.7 L590.8,572.0 L593.6,572.4 L596.4,572.7 L599.3,573.0 L602.2,573.3 L605.0,573.6 L607.8,574.0 L610.6,574.3 L613.3,574.6 L616.0,575.0 L618.5,575.3 L621.0,575.7 L622.9,576.0 L624.8,576.4 L626.6,576.8 L628.4,577.3 L630.2,577.7 L631.9,578.2 L633.6,578.6 L635.2,578.9 L636.9,579.3 L638.4,579.5 L640.0,579.6 L641.5,579.7 L642.6,579.7 L643.8,579.6 L644.9,579.6 L645.9,579.5 L647.0,579.3 L648.0,579.2 L649.0,579.0 L650.0,578.7 L651.0,578.4 L652.0,578.1 L652.9,577.7 L653.8,577.2 L654.7,576.7 L655.7,576.1 L656.6,575.5 L657.4,574.8 L658.3,574.1 L659.1,573.3 L659.9,572.5 L660.7,571.6 L661.5,570.7 L662.2,569.7 L662.9,568.6 L663.6,567.4 L664.6,565.2 L665.6,562.8 L666.4,560.1 L667.1,557.2 L667.8,554.1 L668.4,550.8 L669.0,547.5 L669.6,544.1 L670.2,540.7 L670.8,537.3 L671.5,533.9 L672.2,530.7 L673.0,527.2 L673.9,523.6 L674.8,519.9 L675.7,516.1 L676.5,512.4 L677.4,508.6 L678.3,504.9 L679.2,501.2 L680.1,497.6 L680.9,494.1 L681.7,490.8 L682.5,487.6 L683.0,485.2 L683.6,482.8 L684.1,480.3 L684.5,477.9 L685.0,475.4 L685.5,473.1 L685.9,470.9 L686.4,468.9 L686.9,467.0 L687.4,465.4 L688.0,464.0 L688.6,463.0 L688.8,462.7 L689.1,462.4 L689.4,462.1 L689.6,461.8 L689.9,461.6 L690.2,461.3 L690.4,461.2 L690.7,461.0 L691.0,461.0 L691.2,460.9 L691.5,460.9 L691.7,461.0 L692.3,461.5 L692.8,462.5 L693.3,463.9 L693.7,465.7 L694.2,467.8 L694.6,470.1 L694.9,472.6 L695.3,475.2 L695.7,477.8 L696.0,480.5 L696.4,483.1 L696.8,485.6 L697.3,489.1 L697.9,492.8 L698.4,496.8 L698.9,500.8 L699.3,505.0 L699.8,509.3 L700.3,513.6 L700.8,517.9 L701.3,522.3 L701.8,526.5 L702.4,530.7 L703.0,534.8 L703.6,538.7 L704.2,542.5 L704.8,546.4 L705.4,550.3 L706.1,554.1 L706.7,557.9 L707.4,561.7 L708.1,565.5 L708.8,569.2 L709.6,572.9 L710.4,576.5 L711.2,580.0 L712.0,583.1 L712.7,586.2 L713.5,589.2 L714.3,592.2 L715.2,595.2 L716.0,598.1 L716.9,601.0 L717.8,603.9 L718.7,606.6 L719.6,609.4 L720.6,612.0 L721.5,614.6 L722.3,616.7 L723.1,618.7 L723.9,620.6 L724.8,622.6 L725.6,624.4 L726.5,626.3 L727.3,628.1 L728.2,629.9 L729.1,631.7 L730.0,633.5 L730.8,635.3 L731.7,637.1 L732.5,638.9 L733.4,640.6 L734.2,642.3 L735.1,644.1 L735.9,645.8 L736.8,647.5 L737.7,649.2 L738.5,650.9 L739.4,652.6 L740.3,654.3 L741.1,655.9 L742.0,657.6 L742.8,659.2 L743.7,660.7 L744.5,662.3 L745.4,663.8 L746.2,665.3 L747.1,666.8 L748.0,668.3 L748.8,669.8 L749.7,671.3 L750.5,672.9 L751.4,674.4 L752.2,676.0 L753.1,677.7 L753.9,679.4 L754.8,681.1 L755.6,682.9 L756.5,684.6 L757.3,686.4 L758.2,688.1 L759.0,689.9 L759.9,691.6 L760.7,693.3 L761.6,695.0 L762.5,696.6 L763.3,698.1 L764.1,699.5 L764.8,701.0 L765.6,702.4 L766.3,703.9 L767.1,705.3 L767.9,706.7 L768.7,708.0 L769.6,709.3 L770.5,710.6 L771.6,711.8 L772.7,713.0 L774.1,714.3 L775.5,715.5 L777.0,716.6 L778.6,717.8 L780.3,718.9 L782.0,719.9 L783.8,720.9 L785.6,721.8 L787.4,722.7 L789.3,723.6 L791.3,724.4 L793.2,725.2 L795.5,726.0 L797.7,726.8 L800.1,727.4 L802.4,728.0 L804.8,728.6 L807.3,729.1 L809.9,729.5 L812.5,729.9 L815.2,730.3 L818.0,730.7 L821.0,731.0 L824.0,731.4 L828.8,731.9 L834.0,732.2 L839.5,732.5 L845.2,732.7 L851.1,732.9 L857.2,733.0 L863.4,733.1 L869.6,733.1 L875.8,733.2 L882.0,733.2 L888.1,733.4 L894.0,733.5" fill="none" stroke="#008000" stroke-width="2.8" stroke-linejoin="round"/>
<path d="M588.0,576.5 L592.4,568.5 L583.6,568.5Z" fill="#008000"/>
<path d="M590.8,576.8 L595.1,568.8 L586.4,568.8Z" fill="#008000"/>
<path d="M593.5,577.1 L597.9,569.1 L589.1,569.1Z" fill="#008000"/>
<path d="M596.2,577.5 L600.6,569.5 L591.9,569.5Z" fill="#008000"/>
<path d="M599.0,577.8 L603.4,569.8 L594.6,569.8Z" fill="#008000"/>
<path d="M601.8,578.1 L606.1,570.1 L597.4,570.1Z" fill="#008000"/>
<path d="M604.5,578.4 L608.9,570.4 L600.1,570.4Z" fill="#008000"/>
<path d="M607.2,578.7 L611.6,570.7 L602.9,570.7Z" fill="#008000"/>
<path d="M610.0,579.0 L614.4,571.0 L605.6,571.0Z" fill="#008000"/>
<path d="M612.8,579.3 L617.1,571.3 L608.4,571.3Z" fill="#008000"/>
<path d="M615.5,579.7 L619.9,571.7 L611.1,571.7Z" fill="#008000"/>
<path d="M618.2,580.1 L622.6,572.1 L613.9,572.1Z" fill="#008000"/>
<path d="M621.0,580.5 L625.4,572.5 L616.6,572.5Z" fill="#008000"/>
<path d="M623.8,581.0 L628.1,573.0 L619.4,573.0Z" fill="#008000"/>
<path d="M626.5,581.6 L630.9,573.6 L622.1,573.6Z" fill="#008000"/>
<path d="M629.2,582.3 L633.6,574.3 L624.9,574.3Z" fill="#008000"/>
<path d="M632.0,583.0 L636.4,575.0 L627.6,575.0Z" fill="#008000"/>
<path d="M634.8,583.6 L639.1,575.6 L630.4,575.6Z" fill="#008000"/>
<path d="M637.5,584.2 L641.9,576.2 L633.1,576.2Z" fill="#008000"/>
<path d="M640.2,584.5 L644.6,576.5 L635.9,576.5Z" fill="#008000"/>
<path d="M643.0,584.5 L647.4,576.5 L638.6,576.5Z" fill="#008000"/>
<path d="M645.8,584.3 L650.1,576.3 L641.4,576.3Z" fill="#008000"/>
<path d="M648.5,583.9 L652.9,575.9 L644.1,575.9Z" fill="#008000"/>
<path d="M651.2,583.1 L655.6,575.1 L646.9,575.1Z" fill="#008000"/>
<path d="M654.0,581.9 L658.4,573.9 L649.6,573.9Z" fill="#008000"/>
<path d="M656.8,580.1 L661.1,572.1 L652.4,572.1Z" fill="#008000"/>
<path d="M659.5,577.8 L663.9,569.8 L655.1,569.8Z" fill="#008000"/>
<path d="M662.2,574.4 L666.6,566.4 L657.9,566.4Z" fill="#008000"/>
<path d="M665.0,569.2 L669.4,561.2 L660.6,561.2Z" fill="#008000"/>
<path d="M667.8,559.1 L672.1,551.1 L663.4,551.1Z" fill="#008000"/>
<path d="M670.5,543.9 L674.9,535.9 L666.1,535.9Z" fill="#008000"/>
<path d="M673.2,531.1 L677.6,523.1 L668.9,523.1Z" fill="#008000"/>
<path d="M676.0,519.5 L680.4,511.5 L671.6,511.5Z" fill="#008000"/>
<path d="M678.8,508.0 L683.1,500.0 L674.4,500.0Z" fill="#008000"/>
<path d="M681.5,496.5 L685.9,488.5 L677.1,488.5Z" fill="#008000"/>
<path d="M684.2,484.1 L688.6,476.1 L679.9,476.1Z" fill="#008000"/>
<path d="M687.0,471.5 L691.4,463.5 L682.6,463.5Z" fill="#008000"/>
<path d="M689.8,466.5 L694.1,458.5 L685.4,458.5Z" fill="#008000"/>
<path d="M692.5,466.7 L696.9,458.7 L688.1,458.7Z" fill="#008000"/>
<path d="M695.2,479.6 L699.6,471.6 L690.9,471.6Z" fill="#008000"/>
<path d="M698.0,498.6 L702.4,490.6 L693.6,490.6Z" fill="#008000"/>
<path d="M700.8,522.3 L705.1,514.3 L696.4,514.3Z" fill="#008000"/>
<path d="M703.5,542.8 L707.9,534.8 L699.1,534.8Z" fill="#008000"/>
<path d="M706.2,559.9 L710.6,551.9 L701.9,551.9Z" fill="#008000"/>
<path d="M709.0,574.8 L713.4,566.8 L704.6,566.8Z" fill="#008000"/>
<path d="M711.8,587.1 L716.1,579.1 L707.4,579.1Z" fill="#008000"/>
<path d="M714.5,597.6 L718.9,589.6 L710.1,589.6Z" fill="#008000"/>
<path d="M717.2,606.9 L721.6,598.9 L712.9,598.9Z" fill="#008000"/>
<path d="M720.0,615.2 L724.4,607.2 L715.6,607.2Z" fill="#008000"/>
<path d="M722.8,622.6 L727.1,614.6 L718.4,614.6Z" fill="#008000"/>
<path d="M725.5,629.0 L729.9,621.0 L721.1,621.0Z" fill="#008000"/>
<path d="M728.2,634.8 L732.6,626.8 L723.9,626.8Z" fill="#008000"/>
<path d="M731.0,640.4 L735.4,632.4 L726.6,632.4Z" fill="#008000"/>
<path d="M733.8,646.1 L738.1,638.1 L729.4,638.1Z" fill="#008000"/>
<path d="M736.5,651.7 L740.9,643.7 L732.1,643.7Z" fill="#008000"/>
<path d="M739.2,657.1 L743.6,649.1 L734.9,649.1Z" fill="#008000"/>
<path d="M742.0,662.4 L746.4,654.4 L737.6,654.4Z" fill="#008000"/>
<path d="M744.8,667.4 L749.1,659.4 L740.4,659.4Z" fill="#008000"/>
<path d="M747.5,672.3 L751.9,664.3 L743.1,664.3Z" fill="#008000"/>
<path d="M750.2,677.2 L754.6,669.2 L745.9,669.2Z" fill="#008000"/>
<path d="M753.0,682.3 L757.4,674.3 L748.6,674.3Z" fill="#008000"/>
<path d="M755.8,687.9 L760.1,679.9 L751.4,679.9Z" fill="#008000"/>
<path d="M758.5,693.6 L762.9,685.6 L754.1,685.6Z" fill="#008000"/>
<path d="M761.2,699.1 L765.6,691.1 L756.9,691.1Z" fill="#008000"/>
<path d="M764.0,704.2 L768.4,696.2 L759.6,696.2Z" fill="#008000"/>
<path d="M766.8,709.5 L771.1,701.5 L762.4,701.5Z" fill="#008000"/>
<path d="M769.5,714.0 L773.9,706.0 L765.1,706.0Z" fill="#008000"/>
<path d="M772.2,717.3 L776.6,709.3 L767.9,709.3Z" fill="#008000"/>
<path d="M775.0,719.9 L779.4,711.9 L770.6,711.9Z" fill="#008000"/>
<path d="M777.8,722.0 L782.1,714.0 L773.4,714.0Z" fill="#008000"/>
<path d="M780.5,723.8 L784.9,715.8 L776.1,715.8Z" fill="#008000"/>
<path d="M783.2,725.4 L787.6,717.4 L778.9,717.4Z" fill="#008000"/>
<path d="M786.0,726.9 L790.4,718.9 L781.6,718.9Z" fill="#008000"/>
<path d="M788.7,728.1 L793.1,720.1 L784.3,720.1Z" fill="#008000"/>
<path d="M791.5,729.3 L795.9,721.3 L787.1,721.3Z" fill="#008000"/>
<path d="M794.2,730.4 L798.6,722.4 L789.9,722.4Z" fill="#008000"/>
<path d="M797.0,731.3 L801.4,723.3 L792.6,723.3Z" fill="#008000"/>
<path d="M799.8,732.1 L804.1,724.1 L795.4,724.1Z" fill="#008000"/>
<path d="M802.5,732.8 L806.9,724.8 L798.1,724.8Z" fill="#008000"/>
<path d="M805.2,733.5 L809.6,725.5 L800.9,725.5Z" fill="#008000"/>
<path d="M808.0,734.0 L812.4,726.0 L803.6,726.0Z" fill="#008000"/>
<path d="M810.8,734.5 L815.1,726.5 L806.4,726.5Z" fill="#008000"/>
<path d="M813.5,734.9 L817.9,726.9 L809.1,726.9Z" fill="#008000"/>
<path d="M816.2,735.3 L820.6,727.3 L811.9,727.3Z" fill="#008000"/>
<path d="M819.0,735.6 L823.4,727.6 L814.6,727.6Z" fill="#008000"/>
<path d="M821.8,735.9 L826.1,727.9 L817.4,727.9Z" fill="#008000"/>
<path d="M824.5,736.3 L828.9,728.3 L820.1,728.3Z" fill="#008000"/>
<path d="M827.2,736.5 L831.6,728.5 L822.9,728.5Z" fill="#008000"/>
<path d="M830.0,736.8 L834.4,728.8 L825.6,728.8Z" fill="#008000"/>
<path d="M832.8,737.0 L837.1,729.0 L828.4,729.0Z" fill="#008000"/>
<path d="M835.5,737.1 L839.9,729.1 L831.1,729.1Z" fill="#008000"/>
<path d="M838.2,737.3 L842.6,729.3 L833.9,729.3Z" fill="#008000"/>
<path d="M841.0,737.4 L845.4,729.4 L836.6,729.4Z" fill="#008000"/>
<path d="M843.8,737.5 L848.1,729.5 L839.4,729.5Z" fill="#008000"/>
<path d="M846.5,737.6 L850.9,729.6 L842.1,729.6Z" fill="#008000"/>
<path d="M849.2,737.6 L853.6,729.6 L844.9,729.6Z" fill="#008000"/>
<path d="M852.0,737.7 L856.4,729.7 L847.6,729.7Z" fill="#008000"/>
<path d="M854.8,737.7 L859.1,729.7 L850.4,729.7Z" fill="#008000"/>
<path d="M857.5,737.8 L861.9,729.8 L853.1,729.8Z" fill="#008000"/>
<path d="M860.2,737.8 L864.6,729.8 L855.9,729.8Z" fill="#008000"/>
<path d="M863.0,737.9 L867.4,729.9 L858.6,729.9Z" fill="#008000"/>
<path d="M865.8,737.9 L870.1,729.9 L861.4,729.9Z" fill="#008000"/>
<path d="M868.5,737.9 L872.9,729.9 L864.1,729.9Z" fill="#008000"/>
<path d="M871.2,737.9 L875.6,729.9 L866.9,729.9Z" fill="#008000"/>
<path d="M874.0,738.0 L878.4,730.0 L869.6,730.0Z" fill="#008000"/>
<path d="M876.8,738.0 L881.1,730.0 L872.4,730.0Z" fill="#008000"/>
<path d="M879.5,738.0 L883.9,730.0 L875.1,730.0Z" fill="#008000"/>
<path d="M882.2,738.1 L886.6,730.1 L877.9,730.1Z" fill="#008000"/>
<path d="M885.0,738.1 L889.4,730.1 L880.6,730.1Z" fill="#008000"/>
<path d="M887.8,738.1 L892.1,730.1 L883.4,730.1Z" fill="#008000"/>
<path d="M890.5,738.2 L894.9,730.2 L886.1,730.2Z" fill="#008000"/>
<path d="M893.2,738.3 L897.6,730.3 L888.9,730.3Z" fill="#008000"/>
<path d="M588.0,575.4 L589.4,575.4 L590.7,575.4 L592.1,575.3 L593.4,575.3 L594.8,575.2 L596.1,575.2 L597.5,575.2 L598.8,575.2 L600.2,575.2 L601.7,575.2 L603.1,575.3 L604.6,575.4 L606.5,575.6 L608.4,575.8 L610.5,576.1 L612.5,576.4 L614.6,576.7 L616.7,577.1 L618.8,577.5 L620.9,577.9 L623.1,578.4 L625.1,578.8 L627.2,579.3 L629.2,579.7 L631.1,580.1 L633.0,580.6 L634.9,581.1 L636.7,581.7 L638.6,582.2 L640.4,582.8 L642.3,583.3 L644.1,583.9 L645.9,584.4 L647.7,584.9 L649.5,585.4 L651.3,585.8 L653.0,586.2 L654.7,586.6 L656.4,587.1 L658.2,587.6 L659.9,588.0 L661.6,588.4 L663.3,588.8 L664.9,589.1 L666.3,589.4 L667.7,589.5 L668.9,589.6 L670.0,589.5 L670.5,589.4 L670.9,589.3 L671.3,589.3 L671.6,589.1 L672.0,589.0 L672.3,588.9 L672.6,588.7 L672.9,588.5 L673.2,588.3 L673.4,588.1 L673.7,587.8 L674.0,587.5 L674.4,587.0 L674.8,586.4 L675.1,585.7 L675.4,585.0 L675.7,584.2 L676.0,583.4 L676.3,582.5 L676.5,581.6 L676.8,580.7 L677.0,579.8 L677.3,578.9 L677.5,578.0 L677.8,576.9 L678.1,575.8 L678.3,574.7 L678.5,573.6 L678.8,572.5 L679.0,571.3 L679.2,570.1 L679.4,568.9 L679.7,567.6 L679.9,566.3 L680.1,564.9 L680.4,563.4 L680.8,560.9 L681.3,558.3 L681.8,555.6 L682.3,552.7 L682.8,549.6 L683.3,546.5 L683.9,543.3 L684.4,540.0 L685.0,536.7 L685.5,533.4 L686.1,530.0 L686.6,526.6 L687.2,522.3 L687.9,517.9 L688.5,513.2 L689.1,508.5 L689.7,503.6 L690.3,498.8 L691.0,493.9 L691.7,489.1 L692.4,484.4 L693.1,479.8 L693.9,475.4 L694.8,471.2 L695.5,467.8 L696.2,464.1 L697.0,460.3 L697.7,456.5 L698.5,452.7 L699.3,449.1 L700.1,445.8 L701.0,442.8 L701.9,440.2 L702.9,438.3 L703.9,436.9 L705.0,436.4 L706.0,436.6 L707.1,437.4 L708.3,438.8 L709.4,440.6 L710.7,442.8 L711.9,445.2 L713.2,447.9 L714.4,450.6 L715.7,453.4 L716.9,456.1 L718.1,458.7 L719.3,461.0 L720.6,463.4 L721.8,465.9 L723.1,468.4 L724.3,470.9 L725.6,473.5 L726.8,476.1 L728.0,478.6 L729.2,481.3 L730.4,483.9 L731.5,486.5 L732.6,489.1 L733.7,491.7 L734.7,494.2 L735.6,496.8 L736.6,499.3 L737.4,501.8 L738.3,504.3 L739.1,506.9 L740.0,509.4 L740.8,512.0 L741.6,514.6 L742.4,517.2 L743.2,519.8 L744.0,522.5 L744.9,525.4 L745.8,528.4 L746.7,531.5 L747.6,534.5 L748.5,537.6 L749.4,540.7 L750.3,543.8 L751.1,546.9 L752.0,550.1 L752.7,553.2 L753.5,556.2 L754.2,559.3 L754.8,562.2 L755.5,565.2 L756.1,568.2 L756.6,571.1 L757.2,574.1 L757.7,577.1 L758.2,580.0 L758.7,582.9 L759.1,585.8 L759.5,588.7 L759.9,591.5 L760.3,594.2 L760.6,596.5 L760.8,598.8 L761.0,601.0 L761.2,603.2 L761.3,605.4 L761.5,607.5 L761.6,609.7 L761.8,611.9 L761.9,614.0 L762.1,616.2 L762.3,618.4 L762.5,620.7 L762.8,623.2 L763.1,625.7 L763.4,628.3 L763.7,630.9 L764.1,633.6 L764.4,636.2 L764.8,638.8 L765.1,641.4 L765.5,644.0 L765.9,646.5 L766.2,649.1 L766.6,651.5 L766.9,653.7 L767.2,655.8 L767.5,657.9 L767.8,660.0 L768.0,662.1 L768.3,664.1 L768.6,666.1 L769.0,668.1 L769.3,670.1 L769.7,672.1 L770.2,674.1 L770.7,676.0 L771.2,677.8 L771.8,679.6 L772.3,681.4 L772.9,683.2 L773.5,685.0 L774.1,686.7 L774.8,688.4 L775.5,690.1 L776.3,691.8 L777.1,693.4 L778.0,695.0 L778.9,696.6 L779.9,698.1 L780.9,699.7 L781.9,701.2 L783.0,702.7 L784.1,704.1 L785.3,705.6 L786.5,707.0 L787.8,708.3 L789.1,709.6 L790.4,710.8 L791.8,711.9 L793.2,713.0 L794.7,714.0 L796.2,714.9 L797.8,715.7 L799.4,716.4 L801.1,717.1 L802.8,717.7 L804.5,718.3 L806.3,718.9 L808.1,719.5 L809.9,720.0 L811.8,720.5 L813.7,721.1 L816.0,721.8 L818.3,722.4 L820.7,723.0 L823.1,723.6 L825.6,724.1 L828.1,724.6 L830.7,725.1 L833.3,725.6 L836.0,726.0 L838.8,726.5 L841.6,726.9 L844.4,727.3 L848.1,727.8 L852.0,728.2 L855.9,728.5 L860.0,728.9 L864.2,729.2 L868.4,729.4 L872.7,729.7 L877.0,729.9 L881.3,730.2 L885.6,730.4 L889.8,730.7 L894.0,731.0" fill="none" stroke="#ff0000" stroke-width="2.8" stroke-linejoin="round"/>
<path d="M583.2,575.4 L591.2,571.0 L591.2,579.8Z" fill="#ff0000"/>
<path d="M586.0,575.4 L594.0,571.0 L594.0,579.8Z" fill="#ff0000"/>
<path d="M588.7,575.3 L596.7,570.9 L596.7,579.7Z" fill="#ff0000"/>
<path d="M591.5,575.2 L599.5,570.8 L599.5,579.6Z" fill="#ff0000"/>
<path d="M594.2,575.2 L602.2,570.8 L602.2,579.6Z" fill="#ff0000"/>
<path d="M597.0,575.2 L605.0,570.8 L605.0,579.6Z" fill="#ff0000"/>
<path d="M599.7,575.4 L607.7,571.0 L607.7,579.8Z" fill="#ff0000"/>
<path d="M602.5,575.7 L610.5,571.3 L610.5,580.1Z" fill="#ff0000"/>
<path d="M605.2,576.0 L613.2,571.6 L613.2,580.4Z" fill="#ff0000"/>
<path d="M608.0,576.4 L616.0,572.0 L616.0,580.8Z" fill="#ff0000"/>
<path d="M610.7,576.9 L618.7,572.5 L618.7,581.3Z" fill="#ff0000"/>
<path d="M613.5,577.4 L621.5,573.0 L621.5,581.8Z" fill="#ff0000"/>
<path d="M616.2,577.9 L624.2,573.5 L624.2,582.3Z" fill="#ff0000"/>
<path d="M619.0,578.5 L627.0,574.1 L627.0,582.9Z" fill="#ff0000"/>
<path d="M621.7,579.1 L629.7,574.7 L629.7,583.5Z" fill="#ff0000"/>
<path d="M624.5,579.7 L632.5,575.3 L632.5,584.1Z" fill="#ff0000"/>
<path d="M627.2,580.4 L635.2,576.0 L635.2,584.8Z" fill="#ff0000"/>
<path d="M630.0,581.1 L638.0,576.7 L638.0,585.5Z" fill="#ff0000"/>
<path d="M632.7,581.9 L640.7,577.5 L640.7,586.3Z" fill="#ff0000"/>
<path d="M635.5,582.7 L643.5,578.3 L643.5,587.1Z" fill="#ff0000"/>
<path d="M638.2,583.5 L646.2,579.1 L646.2,587.9Z" fill="#ff0000"/>
<path d="M641.0,584.3 L649.0,579.9 L649.0,588.7Z" fill="#ff0000"/>
<path d="M643.7,585.1 L651.7,580.7 L651.7,589.5Z" fill="#ff0000"/>
<path d="M646.5,585.8 L654.5,581.4 L654.5,590.2Z" fill="#ff0000"/>
<path d="M649.2,586.5 L657.2,582.1 L657.2,590.9Z" fill="#ff0000"/>
<path d="M652.0,587.2 L660.0,582.8 L660.0,591.6Z" fill="#ff0000"/>
<path d="M654.7,587.9 L662.7,583.5 L662.7,592.3Z" fill="#ff0000"/>
<path d="M657.5,588.6 L665.5,584.2 L665.5,593.0Z" fill="#ff0000"/>
<path d="M660.2,589.1 L668.2,584.7 L668.2,593.5Z" fill="#ff0000"/>
<path d="M663.0,589.5 L671.0,585.1 L671.0,593.9Z" fill="#ff0000"/>
<path d="M665.7,589.4 L673.7,585.0 L673.7,593.8Z" fill="#ff0000"/>
<path d="M668.5,588.2 L676.5,583.8 L676.5,592.6Z" fill="#ff0000"/>
<path d="M671.2,583.4 L679.2,579.0 L679.2,587.8Z" fill="#ff0000"/>
<path d="M674.0,572.6 L682.0,568.2 L682.0,577.0Z" fill="#ff0000"/>
<path d="M676.7,557.3 L684.7,552.9 L684.7,561.7Z" fill="#ff0000"/>
<path d="M679.5,541.1 L687.5,536.7 L687.5,545.5Z" fill="#ff0000"/>
<path d="M682.2,524.0 L690.2,519.6 L690.2,528.4Z" fill="#ff0000"/>
<path d="M685.0,503.4 L693.0,499.0 L693.0,507.8Z" fill="#ff0000"/>
<path d="M687.7,483.6 L695.7,479.2 L695.7,488.0Z" fill="#ff0000"/>
<path d="M690.5,469.1 L698.5,464.7 L698.5,473.5Z" fill="#ff0000"/>
<path d="M693.2,455.2 L701.2,450.8 L701.2,459.6Z" fill="#ff0000"/>
<path d="M696.0,443.6 L704.0,439.2 L704.0,448.0Z" fill="#ff0000"/>
<path d="M698.7,437.4 L706.7,433.0 L706.7,441.8Z" fill="#ff0000"/>
<path d="M701.5,436.7 L709.5,432.3 L709.5,441.1Z" fill="#ff0000"/>
<path d="M704.2,439.9 L712.2,435.5 L712.2,444.3Z" fill="#ff0000"/>
<path d="M707.0,444.9 L715.0,440.5 L715.0,449.3Z" fill="#ff0000"/>
<path d="M709.7,450.8 L717.7,446.4 L717.7,455.2Z" fill="#ff0000"/>
<path d="M712.5,456.8 L720.5,452.4 L720.5,461.2Z" fill="#ff0000"/>
<path d="M715.2,462.3 L723.2,457.9 L723.2,466.7Z" fill="#ff0000"/>
<path d="M718.0,467.7 L726.0,463.3 L726.0,472.1Z" fill="#ff0000"/>
<path d="M720.7,473.3 L728.7,468.9 L728.7,477.7Z" fill="#ff0000"/>
<path d="M723.5,479.1 L731.5,474.7 L731.5,483.5Z" fill="#ff0000"/>
<path d="M726.2,485.2 L734.2,480.8 L734.2,489.6Z" fill="#ff0000"/>
<path d="M729.0,491.8 L737.0,487.4 L737.0,496.2Z" fill="#ff0000"/>
<path d="M731.7,499.1 L739.7,494.7 L739.7,503.5Z" fill="#ff0000"/>
<path d="M734.5,507.2 L742.5,502.8 L742.5,511.6Z" fill="#ff0000"/>
<path d="M737.2,516.0 L745.2,511.6 L745.2,520.4Z" fill="#ff0000"/>
<path d="M740.0,525.0 L748.0,520.6 L748.0,529.4Z" fill="#ff0000"/>
<path d="M742.7,534.1 L750.7,529.7 L750.7,538.5Z" fill="#ff0000"/>
<path d="M745.5,543.7 L753.5,539.3 L753.5,548.1Z" fill="#ff0000"/>
<path d="M748.2,554.2 L756.2,549.8 L756.2,558.6Z" fill="#ff0000"/>
<path d="M750.9,566.6 L758.9,562.2 L758.9,571.0Z" fill="#ff0000"/>
<path d="M753.7,581.8 L761.7,577.4 L761.7,586.2Z" fill="#ff0000"/>
<path d="M756.5,604.1 L764.5,599.7 L764.5,608.5Z" fill="#ff0000"/>
<path d="M759.2,633.1 L767.2,628.7 L767.2,637.5Z" fill="#ff0000"/>
<path d="M762.0,652.5 L770.0,648.1 L770.0,656.9Z" fill="#ff0000"/>
<path d="M764.7,671.0 L772.7,666.6 L772.7,675.4Z" fill="#ff0000"/>
<path d="M767.5,681.2 L775.5,676.8 L775.5,685.6Z" fill="#ff0000"/>
<path d="M770.2,688.8 L778.2,684.4 L778.2,693.2Z" fill="#ff0000"/>
<path d="M773.0,694.6 L781.0,690.2 L781.0,699.0Z" fill="#ff0000"/>
<path d="M775.7,699.1 L783.7,694.7 L783.7,703.5Z" fill="#ff0000"/>
<path d="M778.5,703.0 L786.5,698.6 L786.5,707.4Z" fill="#ff0000"/>
<path d="M781.2,706.4 L789.2,702.0 L789.2,710.8Z" fill="#ff0000"/>
<path d="M784.0,709.3 L792.0,704.9 L792.0,713.7Z" fill="#ff0000"/>
<path d="M786.7,711.7 L794.7,707.3 L794.7,716.1Z" fill="#ff0000"/>
<path d="M789.5,713.7 L797.5,709.3 L797.5,718.1Z" fill="#ff0000"/>
<path d="M792.2,715.3 L800.2,710.9 L800.2,719.7Z" fill="#ff0000"/>
<path d="M795.0,716.6 L803.0,712.2 L803.0,721.0Z" fill="#ff0000"/>
<path d="M797.7,717.6 L805.7,713.2 L805.7,722.0Z" fill="#ff0000"/>
<path d="M800.5,718.6 L808.5,714.2 L808.5,723.0Z" fill="#ff0000"/>
<path d="M803.2,719.4 L811.2,715.0 L811.2,723.8Z" fill="#ff0000"/>
<path d="M806.0,720.2 L814.0,715.8 L814.0,724.6Z" fill="#ff0000"/>
<path d="M808.7,721.0 L816.7,716.6 L816.7,725.4Z" fill="#ff0000"/>
<path d="M811.5,721.8 L819.5,717.4 L819.5,726.2Z" fill="#ff0000"/>
<path d="M814.2,722.6 L822.2,718.2 L822.2,727.0Z" fill="#ff0000"/>
<path d="M817.0,723.2 L825.0,718.8 L825.0,727.6Z" fill="#ff0000"/>
<path d="M819.7,723.9 L827.7,719.5 L827.7,728.3Z" fill="#ff0000"/>
<path d="M822.5,724.4 L830.5,720.0 L830.5,728.8Z" fill="#ff0000"/>
<path d="M825.2,725.0 L833.2,720.6 L833.2,729.4Z" fill="#ff0000"/>
<path d="M828.0,725.5 L836.0,721.1 L836.0,729.9Z" fill="#ff0000"/>
<path d="M830.7,726.0 L838.7,721.6 L838.7,730.4Z" fill="#ff0000"/>
<path d="M833.5,726.4 L841.5,722.0 L841.5,730.8Z" fill="#ff0000"/>
<path d="M836.2,726.8 L844.2,722.4 L844.2,731.2Z" fill="#ff0000"/>
<path d="M839.0,727.2 L847.0,722.8 L847.0,731.6Z" fill="#ff0000"/>
<path d="M841.7,727.6 L849.7,723.2 L849.7,732.0Z" fill="#ff0000"/>
<path d="M844.5,727.9 L852.5,723.5 L852.5,732.3Z" fill="#ff0000"/>
<path d="M847.2,728.2 L855.2,723.8 L855.2,732.6Z" fill="#ff0000"/>
<path d="M850.0,728.4 L858.0,724.0 L858.0,732.8Z" fill="#ff0000"/>
<path d="M852.7,728.7 L860.7,724.3 L860.7,733.1Z" fill="#ff0000"/>
<path d="M855.5,728.9 L863.5,724.5 L863.5,733.3Z" fill="#ff0000"/>
<path d="M858.2,729.1 L866.2,724.7 L866.2,733.5Z" fill="#ff0000"/>
<path d="M861.0,729.3 L869.0,724.9 L869.0,733.7Z" fill="#ff0000"/>
<path d="M863.7,729.4 L871.7,725.0 L871.7,733.8Z" fill="#ff0000"/>
<path d="M866.5,729.6 L874.5,725.2 L874.5,734.0Z" fill="#ff0000"/>
<path d="M869.2,729.8 L877.2,725.4 L877.2,734.2Z" fill="#ff0000"/>
<path d="M872.0,729.9 L880.0,725.5 L880.0,734.3Z" fill="#ff0000"/>
<path d="M874.7,730.1 L882.7,725.7 L882.7,734.5Z" fill="#ff0000"/>
<path d="M877.5,730.2 L885.5,725.8 L885.5,734.6Z" fill="#ff0000"/>
<path d="M880.2,730.4 L888.2,726.0 L888.2,734.8Z" fill="#ff0000"/>
<path d="M883.0,730.6 L891.0,726.2 L891.0,735.0Z" fill="#ff0000"/>
<path d="M885.7,730.8 L893.7,726.4 L893.7,735.2Z" fill="#ff0000"/>
<path d="M888.5,730.9 L896.5,726.5 L896.5,735.3Z" fill="#ff0000"/>
<path d="M588.0,584.6 L590.4,584.7 L592.9,584.8 L595.3,584.9 L597.8,585.0 L600.3,585.1 L602.7,585.2 L605.2,585.3 L607.6,585.4 L610.0,585.6 L612.3,585.8 L614.6,586.1 L616.9,586.4 L618.9,586.7 L620.8,587.1 L622.7,587.5 L624.6,587.9 L626.5,588.3 L628.4,588.8 L630.2,589.3 L632.0,589.8 L633.8,590.3 L635.6,590.9 L637.3,591.4 L639.0,592.0 L640.5,592.5 L642.0,593.1 L643.5,593.7 L644.9,594.2 L646.4,594.9 L647.8,595.5 L649.2,596.1 L650.6,596.7 L652.0,597.4 L653.3,598.0 L654.7,598.7 L656.0,599.3 L657.2,599.9 L658.5,600.6 L659.8,601.2 L661.0,601.9 L662.3,602.6 L663.5,603.3 L664.7,604.0 L665.9,604.7 L667.0,605.3 L668.1,605.8 L669.1,606.3 L670.0,606.7 L670.5,606.9 L671.0,607.1 L671.4,607.4 L671.8,607.6 L672.2,607.8 L672.6,608.0 L673.0,608.1 L673.4,608.2 L673.8,608.3 L674.2,608.3 L674.6,608.3 L675.0,608.2 L675.7,607.9 L676.4,607.4 L677.2,606.8 L677.9,606.0 L678.6,605.1 L679.4,604.2 L680.1,603.1 L680.8,602.0 L681.5,600.8 L682.1,599.5 L682.7,598.3 L683.3,597.0 L684.1,594.9 L684.7,592.6 L685.2,590.1 L685.7,587.4 L686.1,584.6 L686.4,581.6 L686.7,578.6 L687.0,575.6 L687.4,572.5 L687.7,569.4 L688.1,566.4 L688.6,563.4 L689.2,560.1 L689.8,556.8 L690.5,553.5 L691.2,550.1 L691.9,546.6 L692.7,543.2 L693.4,539.8 L694.1,536.3 L694.8,532.8 L695.5,529.4 L696.2,525.9 L696.8,522.5 L697.4,519.1 L697.9,515.6 L698.4,512.0 L699.0,508.5 L699.4,504.9 L699.9,501.3 L700.4,497.8 L700.9,494.4 L701.4,491.0 L701.9,487.7 L702.4,484.5 L703.0,481.5 L703.4,479.2 L703.8,476.8 L704.1,474.5 L704.4,472.2 L704.8,470.0 L705.1,467.8 L705.5,465.7 L706.0,463.7 L706.6,461.8 L707.2,460.0 L708.0,458.4 L709.0,456.9 L709.9,455.8 L710.9,454.9 L712.0,454.0 L713.1,453.2 L714.3,452.5 L715.6,451.9 L716.8,451.3 L718.1,450.7 L719.5,450.2 L720.8,449.7 L722.1,449.2 L723.4,448.7 L724.7,448.2 L726.1,447.6 L727.4,447.1 L728.8,446.5 L730.2,446.0 L731.6,445.5 L733.0,445.1 L734.4,444.8 L735.8,444.5 L737.2,444.4 L738.5,444.4 L739.8,444.6 L741.1,444.9 L742.4,445.4 L743.8,446.0 L745.1,446.8 L746.4,447.6 L747.6,448.5 L748.9,449.5 L750.1,450.6 L751.2,451.6 L752.3,452.7 L753.3,453.8 L754.2,454.8 L754.9,455.7 L755.6,456.6 L756.2,457.4 L756.8,458.3 L757.3,459.3 L757.8,460.2 L758.3,461.2 L758.7,462.2 L759.1,463.3 L759.5,464.5 L759.9,465.8 L760.3,467.1 L761.0,469.8 L761.5,472.8 L761.9,476.1 L762.3,479.6 L762.6,483.3 L762.9,487.2 L763.1,491.2 L763.3,495.3 L763.5,499.5 L763.8,503.7 L764.1,508.0 L764.4,512.2 L764.9,517.7 L765.4,523.6 L765.9,529.8 L766.5,536.2 L767.1,542.7 L767.6,549.3 L768.2,555.7 L768.7,562.0 L769.3,568.1 L769.8,573.9 L770.2,579.2 L770.6,584.0 L770.8,586.6 L771.0,589.1 L771.2,591.5 L771.3,593.7 L771.5,595.8 L771.6,597.8 L771.8,599.9 L771.9,601.9 L772.1,603.9 L772.3,606.0 L772.5,608.2 L772.7,610.5 L773.0,613.3 L773.2,616.1 L773.5,619.0 L773.8,621.9 L774.1,624.9 L774.4,627.9 L774.8,630.9 L775.1,633.9 L775.5,636.8 L775.9,639.7 L776.3,642.6 L776.8,645.3 L777.2,647.7 L777.6,650.0 L778.1,652.3 L778.5,654.6 L778.9,656.9 L779.4,659.2 L779.9,661.4 L780.5,663.6 L781.0,665.7 L781.6,667.9 L782.3,669.9 L783.0,672.0 L783.7,673.8 L784.4,675.7 L785.1,677.4 L785.8,679.2 L786.6,680.9 L787.4,682.6 L788.2,684.3 L789.1,686.0 L790.0,687.6 L791.0,689.3 L792.1,690.9 L793.2,692.5 L794.5,694.3 L796.0,696.2 L797.5,698.1 L799.0,699.9 L800.6,701.8 L802.3,703.6 L804.1,705.3 L805.9,707.0 L807.8,708.7 L809.7,710.2 L811.7,711.7 L813.7,713.0 L815.9,714.3 L818.2,715.4 L820.5,716.5 L822.9,717.4 L825.4,718.3 L828.0,719.1 L830.6,719.8 L833.2,720.5 L835.9,721.2 L838.7,721.9 L841.5,722.5 L844.4,723.2 L848.1,724.0 L851.9,724.7 L855.9,725.4 L860.0,726.0 L864.2,726.5 L868.4,727.0 L872.7,727.5 L877.0,728.0 L881.3,728.5 L885.6,728.9 L889.8,729.5 L894.0,730.0" fill="none" stroke="#7f00ff" stroke-width="2.8" stroke-linejoin="round"/>
<path d="M592.8,584.6 L584.8,580.2 L584.8,589.0Z" fill="#7f00ff"/>
<path d="M595.5,584.8 L587.5,580.4 L587.5,589.2Z" fill="#7f00ff"/>
<path d="M598.3,584.9 L590.3,580.5 L590.3,589.3Z" fill="#7f00ff"/>
<path d="M601.0,585.0 L593.0,580.6 L593.0,589.4Z" fill="#7f00ff"/>
<path d="M603.8,585.1 L595.8,580.7 L595.8,589.5Z" fill="#7f00ff"/>
<path d="M606.5,585.2 L598.5,580.8 L598.5,589.6Z" fill="#7f00ff"/>
<path d="M609.3,585.3 L601.3,580.9 L601.3,589.7Z" fill="#7f00ff"/>
<path d="M612.0,585.4 L604.0,581.0 L604.0,589.8Z" fill="#7f00ff"/>
<path d="M614.8,585.6 L606.8,581.2 L606.8,590.0Z" fill="#7f00ff"/>
<path d="M617.5,585.9 L609.5,581.5 L609.5,590.3Z" fill="#7f00ff"/>
<path d="M620.3,586.2 L612.3,581.8 L612.3,590.6Z" fill="#7f00ff"/>
<path d="M623.0,586.6 L615.0,582.2 L615.0,591.0Z" fill="#7f00ff"/>
<path d="M625.8,587.1 L617.8,582.7 L617.8,591.5Z" fill="#7f00ff"/>
<path d="M628.5,587.7 L620.5,583.3 L620.5,592.1Z" fill="#7f00ff"/>
<path d="M631.3,588.3 L623.3,583.9 L623.3,592.7Z" fill="#7f00ff"/>
<path d="M634.0,589.0 L626.0,584.6 L626.0,593.4Z" fill="#7f00ff"/>
<path d="M636.8,589.8 L628.8,585.4 L628.8,594.2Z" fill="#7f00ff"/>
<path d="M639.5,590.6 L631.5,586.2 L631.5,595.0Z" fill="#7f00ff"/>
<path d="M642.3,591.5 L634.3,587.1 L634.3,595.9Z" fill="#7f00ff"/>
<path d="M645.0,592.4 L637.0,588.0 L637.0,596.8Z" fill="#7f00ff"/>
<path d="M647.8,593.5 L639.8,589.1 L639.8,597.9Z" fill="#7f00ff"/>
<path d="M650.5,594.6 L642.5,590.2 L642.5,599.0Z" fill="#7f00ff"/>
<path d="M653.3,595.8 L645.3,591.4 L645.3,600.2Z" fill="#7f00ff"/>
<path d="M656.0,597.0 L648.0,592.6 L648.0,601.4Z" fill="#7f00ff"/>
<path d="M658.8,598.3 L650.8,593.9 L650.8,602.7Z" fill="#7f00ff"/>
<path d="M661.5,599.7 L653.5,595.3 L653.5,604.1Z" fill="#7f00ff"/>
<path d="M664.3,601.1 L656.3,596.7 L656.3,605.5Z" fill="#7f00ff"/>
<path d="M667.0,602.6 L659.0,598.2 L659.0,607.0Z" fill="#7f00ff"/>
<path d="M669.8,604.2 L661.8,599.8 L661.8,608.6Z" fill="#7f00ff"/>
<path d="M672.5,605.6 L664.5,601.2 L664.5,610.0Z" fill="#7f00ff"/>
<path d="M675.3,606.9 L667.3,602.5 L667.3,611.3Z" fill="#7f00ff"/>
<path d="M678.0,608.2 L670.0,603.8 L670.0,612.6Z" fill="#7f00ff"/>
<path d="M680.8,607.7 L672.8,603.3 L672.8,612.1Z" fill="#7f00ff"/>
<path d="M683.5,605.0 L675.5,600.6 L675.5,609.4Z" fill="#7f00ff"/>
<path d="M686.3,600.7 L678.3,596.3 L678.3,605.1Z" fill="#7f00ff"/>
<path d="M689.0,594.3 L681.0,589.9 L681.0,598.7Z" fill="#7f00ff"/>
<path d="M691.8,575.9 L683.8,571.5 L683.8,580.3Z" fill="#7f00ff"/>
<path d="M694.5,557.3 L686.5,552.9 L686.5,561.7Z" fill="#7f00ff"/>
<path d="M697.3,544.0 L689.3,539.6 L689.3,548.4Z" fill="#7f00ff"/>
<path d="M700.1,530.7 L692.1,526.3 L692.1,535.1Z" fill="#7f00ff"/>
<path d="M702.8,515.1 L694.8,510.7 L694.8,519.5Z" fill="#7f00ff"/>
<path d="M705.5,495.3 L697.5,490.9 L697.5,499.7Z" fill="#7f00ff"/>
<path d="M708.3,478.7 L700.3,474.3 L700.3,483.1Z" fill="#7f00ff"/>
<path d="M711.0,462.8 L703.0,458.4 L703.0,467.2Z" fill="#7f00ff"/>
<path d="M713.8,456.9 L705.8,452.5 L705.8,461.3Z" fill="#7f00ff"/>
<path d="M716.5,454.2 L708.5,449.8 L708.5,458.6Z" fill="#7f00ff"/>
<path d="M719.3,452.4 L711.3,448.0 L711.3,456.8Z" fill="#7f00ff"/>
<path d="M722.0,451.1 L714.0,446.7 L714.0,455.5Z" fill="#7f00ff"/>
<path d="M724.8,450.0 L716.8,445.6 L716.8,454.4Z" fill="#7f00ff"/>
<path d="M727.5,449.0 L719.5,444.6 L719.5,453.4Z" fill="#7f00ff"/>
<path d="M730.3,447.8 L722.3,443.4 L722.3,452.2Z" fill="#7f00ff"/>
<path d="M733.0,446.7 L725.0,442.3 L725.0,451.1Z" fill="#7f00ff"/>
<path d="M735.8,445.7 L727.8,441.3 L727.8,450.1Z" fill="#7f00ff"/>
<path d="M738.5,444.9 L730.5,440.5 L730.5,449.3Z" fill="#7f00ff"/>
<path d="M741.3,444.5 L733.3,440.1 L733.3,448.9Z" fill="#7f00ff"/>
<path d="M744.0,444.5 L736.0,440.1 L736.0,448.9Z" fill="#7f00ff"/>
<path d="M746.8,445.2 L738.8,440.8 L738.8,449.6Z" fill="#7f00ff"/>
<path d="M749.5,446.6 L741.5,442.2 L741.5,451.0Z" fill="#7f00ff"/>
<path d="M752.3,448.4 L744.3,444.0 L744.3,452.8Z" fill="#7f00ff"/>
<path d="M755.0,450.7 L747.0,446.3 L747.0,455.1Z" fill="#7f00ff"/>
<path d="M757.8,453.5 L749.8,449.1 L749.8,457.9Z" fill="#7f00ff"/>
<path d="M760.5,456.8 L752.5,452.4 L752.5,461.2Z" fill="#7f00ff"/>
<path d="M763.3,461.7 L755.3,457.3 L755.3,466.1Z" fill="#7f00ff"/>
<path d="M766.0,471.3 L758.0,466.9 L758.0,475.7Z" fill="#7f00ff"/>
<path d="M768.8,507.1 L760.8,502.7 L760.8,511.5Z" fill="#7f00ff"/>
<path d="M771.5,539.0 L763.5,534.6 L763.5,543.4Z" fill="#7f00ff"/>
<path d="M774.3,570.9 L766.3,566.5 L766.3,575.3Z" fill="#7f00ff"/>
<path d="M777.0,605.6 L769.0,601.2 L769.0,610.0Z" fill="#7f00ff"/>
<path d="M779.8,632.8 L771.8,628.4 L771.8,637.2Z" fill="#7f00ff"/>
<path d="M782.5,650.7 L774.5,646.3 L774.5,655.1Z" fill="#7f00ff"/>
<path d="M785.3,663.7 L777.3,659.3 L777.3,668.1Z" fill="#7f00ff"/>
<path d="M788.0,672.7 L780.0,668.3 L780.0,677.1Z" fill="#7f00ff"/>
<path d="M790.8,679.7 L782.8,675.3 L782.8,684.1Z" fill="#7f00ff"/>
<path d="M793.5,685.4 L785.5,681.0 L785.5,689.8Z" fill="#7f00ff"/>
<path d="M796.3,690.0 L788.3,685.6 L788.3,694.4Z" fill="#7f00ff"/>
<path d="M799.0,693.9 L791.0,689.5 L791.0,698.3Z" fill="#7f00ff"/>
<path d="M801.8,697.5 L793.8,693.1 L793.8,701.9Z" fill="#7f00ff"/>
<path d="M804.5,700.8 L796.5,696.4 L796.5,705.2Z" fill="#7f00ff"/>
<path d="M807.3,703.8 L799.3,699.4 L799.3,708.2Z" fill="#7f00ff"/>
<path d="M810.0,706.5 L802.0,702.1 L802.0,710.9Z" fill="#7f00ff"/>
<path d="M812.8,708.9 L804.8,704.5 L804.8,713.3Z" fill="#7f00ff"/>
<path d="M815.5,711.0 L807.5,706.6 L807.5,715.4Z" fill="#7f00ff"/>
<path d="M818.3,712.9 L810.3,708.5 L810.3,717.3Z" fill="#7f00ff"/>
<path d="M821.0,714.5 L813.0,710.1 L813.0,718.9Z" fill="#7f00ff"/>
<path d="M823.8,715.8 L815.8,711.4 L815.8,720.2Z" fill="#7f00ff"/>
<path d="M826.5,717.0 L818.5,712.6 L818.5,721.4Z" fill="#7f00ff"/>
<path d="M829.3,718.0 L821.3,713.6 L821.3,722.4Z" fill="#7f00ff"/>
<path d="M832.0,718.9 L824.0,714.5 L824.0,723.3Z" fill="#7f00ff"/>
<path d="M834.8,719.7 L826.8,715.3 L826.8,724.1Z" fill="#7f00ff"/>
<path d="M837.5,720.4 L829.5,716.0 L829.5,724.8Z" fill="#7f00ff"/>
<path d="M840.3,721.1 L832.3,716.7 L832.3,725.5Z" fill="#7f00ff"/>
<path d="M843.0,721.8 L835.0,717.4 L835.0,726.2Z" fill="#7f00ff"/>
<path d="M845.8,722.4 L837.8,718.0 L837.8,726.8Z" fill="#7f00ff"/>
<path d="M848.5,723.0 L840.5,718.6 L840.5,727.4Z" fill="#7f00ff"/>
<path d="M851.3,723.7 L843.3,719.3 L843.3,728.1Z" fill="#7f00ff"/>
<path d="M854.0,724.2 L846.0,719.8 L846.0,728.6Z" fill="#7f00ff"/>
<path d="M856.8,724.7 L848.8,720.3 L848.8,729.1Z" fill="#7f00ff"/>
<path d="M859.6,725.2 L851.6,720.8 L851.6,729.6Z" fill="#7f00ff"/>
<path d="M862.3,725.6 L854.3,721.2 L854.3,730.0Z" fill="#7f00ff"/>
<path d="M865.0,726.0 L857.0,721.6 L857.0,730.4Z" fill="#7f00ff"/>
<path d="M867.8,726.3 L859.8,721.9 L859.8,730.7Z" fill="#7f00ff"/>
<path d="M870.5,726.7 L862.5,722.3 L862.5,731.1Z" fill="#7f00ff"/>
<path d="M873.3,727.0 L865.3,722.6 L865.3,731.4Z" fill="#7f00ff"/>
<path d="M876.0,727.3 L868.0,722.9 L868.0,731.7Z" fill="#7f00ff"/>
<path d="M878.8,727.6 L870.8,723.2 L870.8,732.0Z" fill="#7f00ff"/>
<path d="M881.5,727.9 L873.5,723.5 L873.5,732.3Z" fill="#7f00ff"/>
<path d="M884.3,728.3 L876.3,723.9 L876.3,732.7Z" fill="#7f00ff"/>
<path d="M887.0,728.6 L879.0,724.2 L879.0,733.0Z" fill="#7f00ff"/>
<path d="M889.8,728.9 L881.8,724.5 L881.8,733.3Z" fill="#7f00ff"/>
<path d="M892.5,729.2 L884.5,724.8 L884.5,733.6Z" fill="#7f00ff"/>
<path d="M895.3,729.5 L887.3,725.1 L887.3,733.9Z" fill="#7f00ff"/>
<path d="M898.0,729.9 L890.0,725.5 L890.0,734.3Z" fill="#7f00ff"/>
<path d="M809.5,425H839.5" stroke="#000000" stroke-width="2.4"/>
<rect x="820.6" y="421.1" width="7.8" height="7.8" fill="#000000"/>
<text x="844" y="430.5" style="font-family:'Liberation Sans',sans-serif;font-size:15.5px;font-weight:normal" text-anchor="start" fill="#000" textLength="94" lengthAdjust="spacingAndGlyphs" stroke="#000" stroke-width="0.45">Solid AuNPs</text>
<path d="M809.5,448.75H839.5" stroke="#0000ff" stroke-width="2.4"/>
<circle cx="824.5" cy="448.8" r="3.9" fill="#0000ff"/>
<text x="844" y="454.25" style="font-family:'Liberation Sans',sans-serif;font-size:15.5px;font-weight:normal" text-anchor="start" fill="#000" textLength="65" lengthAdjust="spacingAndGlyphs" stroke="#000" stroke-width="0.45">d/D=30%</text>
<path d="M809.5,472H839.5" stroke="#ff00ff" stroke-width="2.4"/>
<path d="M824.5,467.3 L828.8,475.1 L820.2,475.1Z" fill="#ff00ff"/>
<text x="844" y="477.5" style="font-family:'Liberation Sans',sans-serif;font-size:15.5px;font-weight:normal" text-anchor="start" fill="#000" textLength="65" lengthAdjust="spacingAndGlyphs" stroke="#000" stroke-width="0.45">d/D=50%</text>
<path d="M809.5,495.75H839.5" stroke="#008000" stroke-width="2.4"/>
<path d="M824.5,500.4 L828.8,492.6 L820.2,492.6Z" fill="#008000"/>
<text x="844" y="501.25" style="font-family:'Liberation Sans',sans-serif;font-size:15.5px;font-weight:normal" text-anchor="start" fill="#000" textLength="65" lengthAdjust="spacingAndGlyphs" stroke="#000" stroke-width="0.45">d/D=60%</text>
<path d="M809.5,519.5H839.5" stroke="#ff0000" stroke-width="2.4"/>
<path d="M819.8,519.5 L827.6,515.2 L827.6,523.8Z" fill="#ff0000"/>
<text x="844" y="525.0" style="font-family:'Liberation Sans',sans-serif;font-size:15.5px;font-weight:normal" text-anchor="start" fill="#000" textLength="65" lengthAdjust="spacingAndGlyphs" stroke="#000" stroke-width="0.45">d/D=70%</text>
<path d="M809.5,543H839.5" stroke="#7f00ff" stroke-width="2.4"/>
<path d="M829.2,543.0 L821.4,538.7 L821.4,547.3Z" fill="#7f00ff"/>
<text x="844" y="548.5" style="font-family:'Liberation Sans',sans-serif;font-size:15.5px;font-weight:normal" text-anchor="start" fill="#000" textLength="65" lengthAdjust="spacingAndGlyphs" stroke="#000" stroke-width="0.45">d/D=75%</text>
<rect x="92.5" y="803" width="381.5" height="341" fill="none" stroke="#000" stroke-width="3.4"/>
<path d="M92.5,817.0H95.5M474,817.0H477M92.5,831.2H95.5M474,831.2H477M92.5,845.4H95.5M474,845.4H477M92.5,859.6H95.5M474,859.6H477M92.5,873.8H95.5M474,873.8H477M92.5,888.0H95.5M474,888.0H477M92.5,902.2H95.5M474,902.2H477M92.5,916.4H95.5M474,916.4H477M92.5,930.6H95.5M474,930.6H477M92.5,944.8H95.5M474,944.8H477M92.5,959.0H95.5M474,959.0H477M92.5,973.2H95.5M474,973.2H477M92.5,987.4H95.5M474,987.4H477M92.5,1001.6H95.5M474,1001.6H477M92.5,1015.8H95.5M474,1015.8H477M92.5,1030.0H95.5M474,1030.0H477M92.5,1044.2H95.5M474,1044.2H477M92.5,1058.4H95.5M474,1058.4H477M92.5,1072.6H95.5M474,1072.6H477M92.5,1086.8H95.5M474,1086.8H477M92.5,1101.0H95.5M474,1101.0H477M92.5,1115.2H95.5M474,1115.2H477M92.5,1129.4H95.5M474,1129.4H477M92.0,1144V1149M146.6,1144V1149M201.1,1144V1149M255.7,1144V1149M310.3,1144V1149M364.8,1144V1149M419.4,1144V1149M474.0,1144V1149" stroke="#000" stroke-width="2"/>
<text x="146.57" y="1173.7" style="font-family:'Liberation Sans',sans-serif;font-size:18px;font-weight:normal" text-anchor="middle" fill="#000" textLength="29" lengthAdjust="spacingAndGlyphs" stroke="#000" stroke-width="0.7">400</text>
<text x="255.70999999999998" y="1173.7" style="font-family:'Liberation Sans',sans-serif;font-size:18px;font-weight:normal" text-anchor="middle" fill="#000" textLength="29" lengthAdjust="spacingAndGlyphs" stroke="#000" stroke-width="0.7">500</text>
<text x="364.84999999999997" y="1173.7" style="font-family:'Liberation Sans',sans-serif;font-size:18px;font-weight:normal" text-anchor="middle" fill="#000" textLength="29" lengthAdjust="spacingAndGlyphs" stroke="#000" stroke-width="0.7">600</text>
<text x="473.98999999999995" y="1173.7" style="font-family:'Liberation Sans',sans-serif;font-size:18px;font-weight:normal" text-anchor="middle" fill="#000" textLength="29" lengthAdjust="spacingAndGlyphs" stroke="#000" stroke-width="0.7">700</text>
<text x="216" y="1198" style="font-family:'Liberation Sans',sans-serif;font-size:23px;font-weight:bold" text-anchor="start" fill="#000" textLength="161" lengthAdjust="spacingAndGlyphs">Wavelenth (nm)</text>
<text x="85.6" y="972.7" style="font-family:'Liberation Sans',sans-serif;font-size:20px;font-weight:bold" text-anchor="middle" fill="#000" textLength="170" lengthAdjust="spacingAndGlyphs" transform="rotate(-90 85.6 972.7)">Absorption (a.u.)</text>
<text x="33.5" y="826" style="font-family:'Liberation Serif',serif;font-size:36px;font-weight:bold" text-anchor="start" fill="#000" textLength="43" lengthAdjust="spacingAndGlyphs">(e)</text>
<path d="M98.5,808.5 L100.3,812.0 L102.1,815.6 L103.9,819.1 L105.6,822.6 L107.4,826.2 L109.2,829.7 L111.0,833.2 L112.8,836.8 L114.6,840.3 L116.4,843.9 L118.2,847.4 L120.0,851.0 L121.9,854.7 L123.8,858.4 L125.8,862.1 L127.7,865.8 L129.7,869.6 L131.7,873.3 L133.6,877.0 L135.6,880.7 L137.5,884.4 L139.4,888.0 L141.2,891.5 L143.0,895.0 L144.5,898.0 L146.0,901.0 L147.5,903.9 L148.9,906.8 L150.3,909.6 L151.7,912.5 L153.1,915.3 L154.5,918.1 L155.9,920.8 L157.2,923.6 L158.6,926.3 L160.0,929.0 L161.3,931.5 L162.5,933.9 L163.8,936.3 L165.1,938.7 L166.3,941.1 L167.6,943.5 L168.9,945.8 L170.1,948.1 L171.3,950.4 L172.6,952.7 L173.8,954.9 L175.0,957.0 L176.0,958.8 L177.0,960.6 L178.0,962.4 L178.9,964.1 L179.9,965.8 L180.8,967.5 L181.8,969.2 L182.8,970.8 L183.8,972.4 L184.8,974.0 L185.9,975.5 L187.0,977.0 L188.1,978.3 L189.1,979.7 L190.2,981.0 L191.3,982.3 L192.5,983.5 L193.6,984.8 L194.8,986.0 L196.0,987.1 L197.2,988.2 L198.4,989.2 L199.7,990.1 L201.0,991.0 L202.2,991.8 L203.5,992.5 L204.8,993.2 L206.1,993.9 L207.5,994.6 L208.8,995.2 L210.2,995.7 L211.6,996.1 L212.9,996.4 L214.3,996.7 L215.7,996.8 L217.0,996.8 L218.4,996.7 L219.8,996.4 L221.1,996.1 L222.5,995.6 L223.9,995.0 L225.3,994.4 L226.6,993.6 L228.0,992.8 L229.4,992.0 L230.7,991.0 L232.1,990.0 L233.4,989.0 L235.2,987.4 L236.9,985.7 L238.7,983.7 L240.4,981.5 L242.1,979.2 L243.8,976.9 L245.4,974.5 L247.1,972.1 L248.8,969.7 L250.5,967.3 L252.3,965.1 L254.0,963.0 L255.6,961.1 L257.3,959.3 L259.0,957.4 L260.7,955.6 L262.4,953.8 L264.0,952.0 L265.7,950.2 L267.4,948.5 L269.1,946.8 L270.7,945.2 L272.4,943.6 L274.0,942.0 L275.4,940.7 L276.8,939.4 L278.1,938.1 L279.5,936.9 L280.9,935.7 L282.3,934.5 L283.6,933.3 L284.9,932.2 L286.2,931.1 L287.5,930.0 L288.8,929.0 L290.0,928.0 L290.9,927.2 L291.8,926.5 L292.7,925.8 L293.5,925.1 L294.3,924.5 L295.1,923.8 L295.9,923.2 L296.8,922.6 L297.6,922.0 L298.5,921.3 L299.5,920.7 L300.5,920.0 L301.9,919.1 L303.5,918.1 L305.1,917.1 L306.7,916.1 L308.4,915.1 L310.2,914.1 L312.0,913.1 L313.8,912.1 L315.6,911.2 L317.4,910.4 L319.2,909.7 L321.0,909.0 L322.7,908.4 L324.4,907.9 L326.1,907.4 L327.8,907.0 L329.5,906.6 L331.2,906.2 L332.9,905.9 L334.7,905.7 L336.4,905.5 L338.1,905.4 L339.8,905.4 L341.5,905.5 L343.2,905.7 L344.9,906.0 L346.7,906.3 L348.4,906.8 L350.1,907.3 L351.8,907.9 L353.5,908.5 L355.2,909.2 L356.9,909.9 L358.6,910.6 L360.3,911.3 L362.0,912.0 L363.7,912.8 L365.5,913.6 L367.2,914.4 L368.9,915.3 L370.6,916.2 L372.3,917.2 L374.0,918.1 L375.7,919.1 L377.4,920.1 L379.1,921.1 L380.8,922.0 L382.5,923.0 L384.2,924.0 L385.9,924.9 L387.7,925.9 L389.4,926.9 L391.1,927.9 L392.8,928.8 L394.5,929.8 L396.2,930.8 L397.9,931.9 L399.6,932.9 L401.3,933.9 L403.0,935.0 L404.7,936.1 L406.4,937.2 L408.1,938.4 L409.8,939.6 L411.5,940.8 L413.2,941.9 L414.9,943.1 L416.6,944.3 L418.3,945.5 L420.0,946.7 L421.7,947.9 L423.4,949.0 L425.1,950.1 L426.8,951.2 L428.4,952.3 L430.1,953.4 L431.7,954.4 L433.4,955.5 L435.1,956.6 L436.8,957.6 L438.5,958.7 L440.3,959.8 L442.1,960.9 L444.0,962.0 L446.3,963.3 L448.6,964.7 L451.1,966.0 L453.6,967.4 L456.1,968.8 L458.6,970.2 L461.2,971.6 L463.8,973.0 L466.4,974.3 L468.9,975.7 L471.5,977.1 L474.0,978.5" fill="none" stroke="#ff0000" stroke-width="2.6" stroke-linejoin="round"/>
<path d="M173.8,954.9 L175.0,957.0 L176.0,958.8 L177.0,960.6 L178.0,962.4 L178.9,964.1 L179.9,965.8 L180.8,967.5 L181.8,969.2 L182.8,970.8 L183.8,972.4 L184.8,974.0 L185.9,975.5 L187.0,977.0 L188.1,978.3 L189.1,979.7 L190.2,981.0 L191.3,982.3 L192.5,983.5 L193.6,984.8 L194.8,986.0 L196.0,987.1 L197.2,988.2 L198.4,989.2 L199.7,990.1 L201.0,991.0 L202.2,991.8 L203.5,992.5 L204.8,993.2 L206.1,993.9 L207.5,994.6 L208.8,995.2 L210.2,995.7 L211.6,996.1 L212.9,996.4 L214.3,996.7 L215.7,996.8 L217.0,996.8 L218.4,996.7 L219.8,996.4 L221.1,996.1 L222.5,995.6 L223.9,995.0 L225.3,994.4 L226.6,993.6 L228.0,992.8 L229.4,992.0 L230.7,991.0 L232.1,990.0 L233.4,989.0 L235.2,987.4 L236.9,985.7 L238.7,983.7 L240.4,981.5 L242.1,979.2 L243.8,976.9 L245.4,974.5 L247.1,972.1 L248.8,969.7 L250.5,967.3 L252.3,965.1 L254.0,963.0 L255.6,961.1 L257.3,959.3 L259.0,957.4 L260.7,955.6 L262.4,953.8 L264.0,952.0 L265.7,950.2 L267.4,948.5 L269.1,946.8 L270.7,945.2 L272.4,943.6 L274.0,942.0 L275.4,940.7 L276.8,939.4 L278.1,938.1 L279.5,936.9 L280.9,935.7 L282.3,934.5 L283.6,933.3 L284.9,932.2 L286.2,931.1 L287.5,930.0 L288.8,929.0 L290.0,928.0 L290.9,927.2 L291.8,926.5 L292.7,925.8 L293.5,925.1 L294.3,924.5 L295.1,923.8 L295.9,923.2 L296.8,922.6 L297.6,922.0 L298.5,921.3 L299.5,920.7 L300.5,920.0 L301.9,919.1 L303.5,918.1 L305.1,917.1 L306.7,916.1 L308.4,915.1 L310.2,914.1 L312.0,913.1 L313.8,912.1 L315.6,911.2 L317.4,910.4 L319.2,909.7 L321.0,909.0 L322.7,908.4 L324.4,907.9 L326.1,907.4 L327.8,907.0 L329.5,906.6 L331.2,906.2 L332.9,905.9 L334.7,905.7 L336.4,905.5 L338.1,905.4 L339.8,905.4 L341.5,905.5 L343.2,905.7 L344.9,906.0 L346.7,906.3 L348.4,906.8 L350.1,907.3 L351.8,907.9 L353.5,908.5 L355.2,909.2 L356.9,909.9 L358.6,910.6 L360.3,911.3 L362.0,912.0 L363.7,912.8 L365.5,913.6 L367.2,914.4 L368.9,915.3 L370.6,916.2 L372.3,917.2 L374.0,918.1 L375.7,919.1 L377.4,920.1 L379.1,921.1 L380.8,922.0 L382.5,923.0 L384.2,924.0 L385.9,924.9 L387.7,925.9 L389.4,926.9 L391.1,927.9 L392.8,928.8 L394.5,929.8 L396.2,930.8 L397.9,931.9 L399.6,932.9 L401.3,933.9 L403.0,935.0 L404.7,936.1 L406.4,937.2 L408.1,938.4 L409.8,939.6 L411.5,940.8 L413.2,941.9 L414.9,943.1 L416.6,944.3 L418.3,945.5 L420.0,946.7 L421.7,947.9 L423.4,949.0 L425.1,950.1 L426.8,951.2 L428.4,952.3 L430.1,953.4 L431.7,954.4 L433.4,955.5 L435.1,956.6 L436.8,957.6 L438.5,958.7 L440.3,959.8 L442.1,960.9 L444.0,962.0 L446.3,963.3 L448.6,964.7 L451.1,966.0 L453.6,967.4 L456.1,968.8 L458.6,970.2 L461.2,971.6 L463.8,973.0 L466.4,974.3 L468.9,975.7 L471.5,977.1 L474.0,978.5" fill="none" stroke="#ff0000" stroke-width="4.6" stroke-linejoin="round"/>
<circle cx="98.5" cy="808.5" r="3.1" fill="#ff0000"/>
<circle cx="102.9" cy="817.2" r="3.1" fill="#ff0000"/>
<circle cx="107.3" cy="826.0" r="3.1" fill="#ff0000"/>
<circle cx="111.7" cy="834.8" r="3.1" fill="#ff0000"/>
<circle cx="116.2" cy="843.5" r="3.1" fill="#ff0000"/>
<circle cx="120.6" cy="852.2" r="3.1" fill="#ff0000"/>
<circle cx="125.2" cy="860.9" r="3.1" fill="#ff0000"/>
<circle cx="129.7" cy="869.6" r="3.1" fill="#ff0000"/>
<circle cx="134.3" cy="878.3" r="3.1" fill="#ff0000"/>
<circle cx="138.8" cy="886.9" r="3.1" fill="#ff0000"/>
<circle cx="143.3" cy="895.6" r="3.1" fill="#ff0000"/>
<circle cx="147.7" cy="904.4" r="3.1" fill="#ff0000"/>
<circle cx="152.1" cy="913.2" r="3.1" fill="#ff0000"/>
<circle cx="156.4" cy="922.0" r="3.1" fill="#ff0000"/>
<circle cx="160.9" cy="930.7" r="3.1" fill="#ff0000"/>
<circle cx="165.4" cy="939.4" r="3.1" fill="#ff0000"/>
<circle cx="170.0" cy="948.0" r="3.1" fill="#ff0000"/>
<circle cx="174.8" cy="956.6" r="3.1" fill="#ff0000"/>
<path d="M92.0,945.6 L93.5,947.0 L95.1,948.3 L96.6,949.6 L98.2,950.9 L99.7,952.2 L101.3,953.6 L102.8,954.9 L104.3,956.2 L105.9,957.6 L107.4,959.0 L109.0,960.5 L110.5,962.0 L112.2,963.8 L113.9,965.6 L115.6,967.5 L117.3,969.4 L119.0,971.4 L120.7,973.4 L122.4,975.4 L124.1,977.4 L125.8,979.4 L127.5,981.3 L129.3,983.2 L131.0,985.0 L132.7,986.7 L134.3,988.4 L136.0,990.0 L137.7,991.7 L139.4,993.3 L141.1,994.9 L142.8,996.5 L144.6,998.0 L146.3,999.6 L148.0,1001.1 L149.8,1002.5 L151.5,1004.0 L153.2,1005.4 L154.9,1006.7 L156.5,1008.1 L158.2,1009.4 L159.9,1010.7 L161.6,1011.9 L163.3,1013.2 L165.1,1014.4 L166.8,1015.6 L168.5,1016.8 L170.3,1017.9 L172.0,1019.0 L173.7,1020.0 L175.4,1021.0 L177.0,1022.0 L178.7,1022.9 L180.4,1023.8 L182.2,1024.7 L183.9,1025.6 L185.6,1026.4 L187.3,1027.3 L189.0,1028.1 L190.8,1028.8 L192.5,1029.6 L194.2,1030.3 L195.9,1031.0 L197.6,1031.7 L199.4,1032.4 L201.1,1033.1 L202.8,1033.7 L204.6,1034.3 L206.3,1034.9 L208.0,1035.4 L209.7,1035.9 L211.4,1036.4 L213.0,1036.8 L214.4,1037.1 L215.8,1037.5 L217.1,1037.8 L218.5,1038.1 L219.8,1038.4 L221.2,1038.6 L222.5,1038.8 L223.8,1039.0 L225.2,1039.0 L226.5,1039.0 L227.9,1039.0 L229.3,1038.8 L231.0,1038.5 L232.7,1038.1 L234.4,1037.6 L236.2,1037.0 L238.0,1036.3 L239.8,1035.5 L241.5,1034.7 L243.3,1033.7 L245.0,1032.8 L246.6,1031.8 L248.3,1030.7 L249.8,1029.6 L251.3,1028.4 L252.8,1027.1 L254.2,1025.7 L255.6,1024.3 L256.9,1022.7 L258.2,1021.2 L259.5,1019.6 L260.7,1017.9 L262.1,1016.2 L263.4,1014.5 L264.8,1012.8 L266.2,1011.0 L268.0,1008.7 L269.9,1006.3 L271.8,1003.8 L273.7,1001.3 L275.6,998.6 L277.6,996.0 L279.5,993.3 L281.6,990.7 L283.6,988.1 L285.7,985.6 L287.8,983.2 L290.0,981.0 L292.1,978.9 L294.3,976.9 L296.6,974.8 L298.9,972.8 L301.2,970.8 L303.6,968.8 L305.9,967.0 L308.2,965.3 L310.5,963.7 L312.7,962.3 L314.9,961.0 L316.9,960.0 L318.2,959.4 L319.4,958.9 L320.6,958.4 L321.8,958.0 L323.0,957.6 L324.2,957.3 L325.3,957.1 L326.5,956.9 L327.7,956.8 L328.8,956.7 L330.0,956.7 L331.2,956.8 L332.5,957.0 L333.9,957.3 L335.3,957.6 L336.6,958.1 L338.0,958.7 L339.4,959.3 L340.7,959.9 L342.1,960.7 L343.5,961.5 L344.9,962.3 L346.2,963.1 L347.6,964.0 L349.3,965.2 L351.0,966.5 L352.7,967.9 L354.4,969.4 L356.1,971.0 L357.8,972.6 L359.5,974.3 L361.2,975.9 L362.9,977.6 L364.6,979.3 L366.3,980.9 L368.0,982.5 L369.7,984.0 L371.4,985.6 L373.1,987.1 L374.9,988.7 L376.6,990.2 L378.3,991.8 L380.0,993.3 L381.7,994.8 L383.5,996.4 L385.2,997.9 L386.9,999.5 L388.6,1001.0 L390.3,1002.5 L392.0,1004.1 L393.7,1005.7 L395.4,1007.2 L397.0,1008.8 L398.7,1010.4 L400.4,1011.9 L402.1,1013.5 L403.8,1015.0 L405.5,1016.4 L407.3,1017.9 L409.0,1019.3 L410.7,1020.6 L412.4,1021.9 L414.1,1023.2 L415.8,1024.4 L417.5,1025.6 L419.2,1026.8 L420.9,1028.0 L422.7,1029.1 L424.4,1030.3 L426.1,1031.4 L427.9,1032.6 L429.6,1033.7 L431.3,1034.8 L433.0,1035.9 L434.6,1036.9 L436.3,1038.0 L438.0,1039.0 L439.6,1040.0 L441.3,1041.0 L443.0,1042.0 L444.7,1043.0 L446.5,1044.0 L448.2,1045.0 L450.0,1046.0 L451.9,1047.1 L453.9,1048.1 L455.8,1049.1 L457.8,1050.2 L459.8,1051.2 L461.9,1052.2 L463.9,1053.2 L465.9,1054.2 L467.9,1055.2 L470.0,1056.3 L472.0,1057.3 L474.0,1058.3" fill="none" stroke="#0000ff" stroke-width="4.6" stroke-linejoin="round"/>
<path d="M93.0,886.0 L95.2,889.2 L97.5,892.3 L99.7,895.5 L101.9,898.6 L104.2,901.7 L106.4,904.9 L108.6,908.0 L110.9,911.2 L113.1,914.4 L115.4,917.6 L117.7,920.8 L120.0,924.0 L122.5,927.4 L124.9,930.9 L127.5,934.4 L130.0,937.9 L132.5,941.5 L135.1,945.0 L137.6,948.6 L140.2,952.1 L142.7,955.6 L145.2,959.1 L147.6,962.6 L150.0,966.0 L152.2,969.2 L154.4,972.4 L156.6,975.7 L158.7,979.0 L160.9,982.3 L163.0,985.5 L165.1,988.7 L167.1,991.8 L169.2,994.8 L171.2,997.7 L173.1,1000.4 L175.0,1003.0 L176.3,1004.8 L177.6,1006.5 L178.9,1008.1 L180.1,1009.7 L181.4,1011.3 L182.6,1012.8 L183.8,1014.2 L185.0,1015.6 L186.2,1017.0 L187.4,1018.4 L188.7,1019.7 L190.0,1021.0 L191.2,1022.1 L192.3,1023.3 L193.5,1024.3 L194.7,1025.4 L195.8,1026.4 L197.0,1027.4 L198.2,1028.3 L199.5,1029.3 L200.8,1030.2 L202.1,1031.1 L203.5,1032.1 L205.0,1033.0 L207.0,1034.2 L209.1,1035.4 L211.2,1036.5 L213.5,1037.7 L215.8,1038.9 L218.2,1040.0 L220.7,1041.1 L223.1,1042.1 L225.6,1043.2 L228.1,1044.2 L230.6,1045.1 L233.0,1046.0 L235.5,1046.9 L238.0,1047.7 L240.5,1048.5 L243.0,1049.2 L245.6,1049.9 L248.2,1050.6 L250.8,1051.2 L253.4,1051.8 L256.0,1052.4 L258.6,1052.9 L261.3,1053.5 L264.0,1054.0 L266.9,1054.5 L269.8,1055.0 L272.7,1055.4 L275.7,1055.8 L278.7,1056.2 L281.7,1056.5 L284.7,1056.9 L287.7,1057.2 L290.8,1057.5 L293.9,1057.8 L296.9,1058.1 L300.0,1058.5 L303.3,1058.9 L306.5,1059.3 L309.9,1059.6 L313.2,1060.0 L316.5,1060.4 L319.9,1060.7 L323.2,1061.1 L326.6,1061.5 L330.0,1061.8 L333.3,1062.2 L336.7,1062.6 L340.0,1063.0 L343.3,1063.4 L346.7,1063.8 L350.0,1064.3 L353.3,1064.7 L356.7,1065.1 L360.0,1065.6 L363.3,1066.0 L366.7,1066.4 L370.0,1066.8 L373.3,1067.2 L376.7,1067.6 L380.0,1068.0 L383.3,1068.3 L386.6,1068.7 L389.9,1069.0 L393.1,1069.3 L396.4,1069.6 L399.6,1069.9 L402.9,1070.2 L406.2,1070.5 L409.6,1070.7 L413.0,1071.0 L416.5,1071.3 L420.0,1071.5 L424.2,1071.8 L428.5,1072.0 L432.9,1072.2 L437.4,1072.5 L441.9,1072.7 L446.5,1072.9 L451.1,1073.0 L455.7,1073.2 L460.3,1073.4 L464.9,1073.6 L469.5,1073.8 L474.0,1074.0" fill="none" stroke="#000000" stroke-width="2.6" stroke-linejoin="round"/>
<path d="M169.2,994.8 L171.2,997.7 L173.1,1000.4 L175.0,1003.0 L176.3,1004.8 L177.6,1006.5 L178.9,1008.1 L180.1,1009.7 L181.4,1011.3 L182.6,1012.8 L183.8,1014.2 L185.0,1015.6 L186.2,1017.0 L187.4,1018.4 L188.7,1019.7 L190.0,1021.0 L191.2,1022.1 L192.3,1023.3 L193.5,1024.3 L194.7,1025.4 L195.8,1026.4 L197.0,1027.4 L198.2,1028.3 L199.5,1029.3 L200.8,1030.2 L202.1,1031.1 L203.5,1032.1 L205.0,1033.0 L207.0,1034.2 L209.1,1035.4 L211.2,1036.5 L213.5,1037.7 L215.8,1038.9 L218.2,1040.0 L220.7,1041.1 L223.1,1042.1 L225.6,1043.2 L228.1,1044.2 L230.6,1045.1 L233.0,1046.0 L235.5,1046.9 L238.0,1047.7 L240.5,1048.5 L243.0,1049.2 L245.6,1049.9 L248.2,1050.6 L250.8,1051.2 L253.4,1051.8 L256.0,1052.4 L258.6,1052.9 L261.3,1053.5 L264.0,1054.0 L266.9,1054.5 L269.8,1055.0 L272.7,1055.4 L275.7,1055.8 L278.7,1056.2 L281.7,1056.5 L284.7,1056.9 L287.7,1057.2 L290.8,1057.5 L293.9,1057.8 L296.9,1058.1 L300.0,1058.5 L303.3,1058.9 L306.5,1059.3 L309.9,1059.6 L313.2,1060.0 L316.5,1060.4 L319.9,1060.7 L323.2,1061.1 L326.6,1061.5 L330.0,1061.8 L333.3,1062.2 L336.7,1062.6 L340.0,1063.0 L343.3,1063.4 L346.7,1063.8 L350.0,1064.3 L353.3,1064.7 L356.7,1065.1 L360.0,1065.6 L363.3,1066.0 L366.7,1066.4 L370.0,1066.8 L373.3,1067.2 L376.7,1067.6 L380.0,1068.0 L383.3,1068.3 L386.6,1068.7 L389.9,1069.0 L393.1,1069.3 L396.4,1069.6 L399.6,1069.9 L402.9,1070.2 L406.2,1070.5 L409.6,1070.7 L413.0,1071.0 L416.5,1071.3 L420.0,1071.5 L424.2,1071.8 L428.5,1072.0 L432.9,1072.2 L437.4,1072.5 L441.9,1072.7 L446.5,1072.9 L451.1,1073.0 L455.7,1073.2 L460.3,1073.4 L464.9,1073.6 L469.5,1073.8 L474.0,1074.0" fill="none" stroke="#000000" stroke-width="4.6" stroke-linejoin="round"/>
<circle cx="93.0" cy="886.0" r="2.8" fill="#000000"/>
<circle cx="98.7" cy="894.0" r="2.8" fill="#000000"/>
<circle cx="104.3" cy="902.0" r="2.8" fill="#000000"/>
<circle cx="110.0" cy="910.0" r="2.8" fill="#000000"/>
<circle cx="115.7" cy="918.0" r="2.8" fill="#000000"/>
<circle cx="121.4" cy="925.9" r="2.8" fill="#000000"/>
<circle cx="127.1" cy="933.9" r="2.8" fill="#000000"/>
<circle cx="132.8" cy="941.9" r="2.8" fill="#000000"/>
<circle cx="138.5" cy="949.8" r="2.8" fill="#000000"/>
<circle cx="144.2" cy="957.8" r="2.8" fill="#000000"/>
<circle cx="149.9" cy="965.8" r="2.8" fill="#000000"/>
<circle cx="155.4" cy="973.9" r="2.8" fill="#000000"/>
<circle cx="160.8" cy="982.1" r="2.8" fill="#000000"/>
<circle cx="166.1" cy="990.3" r="2.8" fill="#000000"/>
<path d="M277,824.25H306.5" stroke="#000000" stroke-width="1.6"/>
<circle cx="292" cy="824.25" r="3" fill="#000000"/>
<g transform="translate(312.75 0) scale(0.97 1)"><text x="0" y="830.75" style="font-family:'Liberation Sans',sans-serif;font-size:18px;font-weight:normal" text-anchor="start" fill="#000" stroke="#000" stroke-width="0.9">Bi<tspan dy="8" font-size="9">2</tspan><tspan dy="-8">S</tspan><tspan dy="8" font-size="9">3</tspan><tspan dy="-8">NR</tspan></text></g>
<path d="M277,857.5H306.5" stroke="#0000ff" stroke-width="1.6"/>
<circle cx="292" cy="857.5" r="3" fill="#0000ff"/>
<g transform="translate(312.75 0) scale(0.97 1)"><text x="0" y="864.0" style="font-family:'Liberation Sans',sans-serif;font-size:18px;font-weight:normal" text-anchor="start" fill="#000" stroke="#000" stroke-width="0.9">HGNs</text></g>
<path d="M277,884.5H306.5" stroke="#ff0000" stroke-width="1.6"/>
<circle cx="292" cy="884.5" r="3" fill="#ff0000"/>
<g transform="translate(312.75 0) scale(0.97 1)"><text x="0" y="891.0" style="font-family:'Liberation Sans',sans-serif;font-size:18px;font-weight:normal" text-anchor="start" fill="#000" stroke="#000" stroke-width="0.9">HGNs @Bi<tspan dy="8" font-size="9">2</tspan><tspan dy="-8">S</tspan><tspan dy="8" font-size="9">3</tspan><tspan dy="-8"> NR</tspan></text></g>
</svg>
</body></html>
